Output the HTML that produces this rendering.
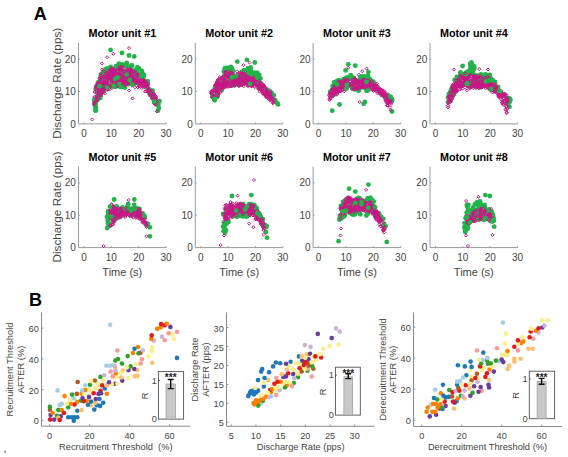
<!DOCTYPE html>
<html><head><meta charset="utf-8"><style>
html,body{margin:0;padding:0;background:#fff;}
svg{display:block;font-family:"Liberation Sans",sans-serif;}
</style></head><body>
<svg width="568" height="457" viewBox="0 0 568 457">
<rect width="568" height="457" fill="#fff"/>
<text x="40.20" y="19.50" font-size="18" text-anchor="middle" font-weight="bold" fill="#000">A</text>
<line x1="78.50" y1="42.90" x2="78.50" y2="123.90" stroke="#9a9a9a" stroke-width="1"/>
<line x1="78.50" y1="123.90" x2="166.10" y2="123.90" stroke="#9a9a9a" stroke-width="1"/>
<text x="75.90" y="127.50" font-size="10" text-anchor="end" font-weight="normal" fill="#444">0</text>
<line x1="78.50" y1="91.50" x2="80.00" y2="91.50" stroke="#9a9a9a" stroke-width="1"/>
<text x="75.90" y="95.10" font-size="10" text-anchor="end" font-weight="normal" fill="#444">10</text>
<line x1="78.50" y1="59.10" x2="80.00" y2="59.10" stroke="#9a9a9a" stroke-width="1"/>
<text x="75.90" y="62.70" font-size="10" text-anchor="end" font-weight="normal" fill="#444">20</text>
<line x1="83.97" y1="123.90" x2="83.97" y2="122.40" stroke="#9a9a9a" stroke-width="1"/>
<text x="83.97" y="136.80" font-size="10" text-anchor="middle" font-weight="normal" fill="#444">0</text>
<line x1="111.34" y1="123.90" x2="111.34" y2="122.40" stroke="#9a9a9a" stroke-width="1"/>
<text x="111.34" y="136.80" font-size="10" text-anchor="middle" font-weight="normal" fill="#444">10</text>
<line x1="138.71" y1="123.90" x2="138.71" y2="122.40" stroke="#9a9a9a" stroke-width="1"/>
<text x="138.71" y="136.80" font-size="10" text-anchor="middle" font-weight="normal" fill="#444">20</text>
<line x1="166.08" y1="123.90" x2="166.08" y2="122.40" stroke="#9a9a9a" stroke-width="1"/>
<text x="166.08" y="136.80" font-size="10" text-anchor="middle" font-weight="normal" fill="#444">30</text>
<text x="122.30" y="37.30" font-size="10.8" text-anchor="middle" font-weight="bold" fill="#000">Motor unit #1</text>
<text x="61.30" y="83.30" font-size="11.75" text-anchor="middle" font-weight="normal" fill="#444" transform="rotate(-90 61.3 83.30000000000001)">Discharge Rate (pps)</text>
<line x1="195.30" y1="42.90" x2="195.30" y2="123.90" stroke="#9a9a9a" stroke-width="1"/>
<line x1="195.30" y1="123.90" x2="282.90" y2="123.90" stroke="#9a9a9a" stroke-width="1"/>
<text x="192.70" y="127.50" font-size="10" text-anchor="end" font-weight="normal" fill="#444">0</text>
<line x1="195.30" y1="91.50" x2="196.80" y2="91.50" stroke="#9a9a9a" stroke-width="1"/>
<text x="192.70" y="95.10" font-size="10" text-anchor="end" font-weight="normal" fill="#444">10</text>
<line x1="195.30" y1="59.10" x2="196.80" y2="59.10" stroke="#9a9a9a" stroke-width="1"/>
<text x="192.70" y="62.70" font-size="10" text-anchor="end" font-weight="normal" fill="#444">20</text>
<line x1="200.77" y1="123.90" x2="200.77" y2="122.40" stroke="#9a9a9a" stroke-width="1"/>
<text x="200.77" y="136.80" font-size="10" text-anchor="middle" font-weight="normal" fill="#444">0</text>
<line x1="228.14" y1="123.90" x2="228.14" y2="122.40" stroke="#9a9a9a" stroke-width="1"/>
<text x="228.14" y="136.80" font-size="10" text-anchor="middle" font-weight="normal" fill="#444">10</text>
<line x1="255.51" y1="123.90" x2="255.51" y2="122.40" stroke="#9a9a9a" stroke-width="1"/>
<text x="255.51" y="136.80" font-size="10" text-anchor="middle" font-weight="normal" fill="#444">20</text>
<line x1="282.88" y1="123.90" x2="282.88" y2="122.40" stroke="#9a9a9a" stroke-width="1"/>
<text x="282.88" y="136.80" font-size="10" text-anchor="middle" font-weight="normal" fill="#444">30</text>
<text x="239.10" y="37.30" font-size="10.8" text-anchor="middle" font-weight="bold" fill="#000">Motor unit #2</text>
<line x1="313.10" y1="42.90" x2="313.10" y2="123.90" stroke="#9a9a9a" stroke-width="1"/>
<line x1="313.10" y1="123.90" x2="400.70" y2="123.90" stroke="#9a9a9a" stroke-width="1"/>
<text x="310.50" y="127.50" font-size="10" text-anchor="end" font-weight="normal" fill="#444">0</text>
<line x1="313.10" y1="91.50" x2="314.60" y2="91.50" stroke="#9a9a9a" stroke-width="1"/>
<text x="310.50" y="95.10" font-size="10" text-anchor="end" font-weight="normal" fill="#444">10</text>
<line x1="313.10" y1="59.10" x2="314.60" y2="59.10" stroke="#9a9a9a" stroke-width="1"/>
<text x="310.50" y="62.70" font-size="10" text-anchor="end" font-weight="normal" fill="#444">20</text>
<line x1="318.57" y1="123.90" x2="318.57" y2="122.40" stroke="#9a9a9a" stroke-width="1"/>
<text x="318.57" y="136.80" font-size="10" text-anchor="middle" font-weight="normal" fill="#444">0</text>
<line x1="345.94" y1="123.90" x2="345.94" y2="122.40" stroke="#9a9a9a" stroke-width="1"/>
<text x="345.94" y="136.80" font-size="10" text-anchor="middle" font-weight="normal" fill="#444">10</text>
<line x1="373.31" y1="123.90" x2="373.31" y2="122.40" stroke="#9a9a9a" stroke-width="1"/>
<text x="373.31" y="136.80" font-size="10" text-anchor="middle" font-weight="normal" fill="#444">20</text>
<line x1="400.68" y1="123.90" x2="400.68" y2="122.40" stroke="#9a9a9a" stroke-width="1"/>
<text x="400.68" y="136.80" font-size="10" text-anchor="middle" font-weight="normal" fill="#444">30</text>
<text x="356.90" y="37.30" font-size="10.8" text-anchor="middle" font-weight="bold" fill="#000">Motor unit #3</text>
<line x1="430.00" y1="42.90" x2="430.00" y2="123.90" stroke="#9a9a9a" stroke-width="1"/>
<line x1="430.00" y1="123.90" x2="517.60" y2="123.90" stroke="#9a9a9a" stroke-width="1"/>
<text x="427.40" y="127.50" font-size="10" text-anchor="end" font-weight="normal" fill="#444">0</text>
<line x1="430.00" y1="91.50" x2="431.50" y2="91.50" stroke="#9a9a9a" stroke-width="1"/>
<text x="427.40" y="95.10" font-size="10" text-anchor="end" font-weight="normal" fill="#444">10</text>
<line x1="430.00" y1="59.10" x2="431.50" y2="59.10" stroke="#9a9a9a" stroke-width="1"/>
<text x="427.40" y="62.70" font-size="10" text-anchor="end" font-weight="normal" fill="#444">20</text>
<line x1="435.47" y1="123.90" x2="435.47" y2="122.40" stroke="#9a9a9a" stroke-width="1"/>
<text x="435.47" y="136.80" font-size="10" text-anchor="middle" font-weight="normal" fill="#444">0</text>
<line x1="462.84" y1="123.90" x2="462.84" y2="122.40" stroke="#9a9a9a" stroke-width="1"/>
<text x="462.84" y="136.80" font-size="10" text-anchor="middle" font-weight="normal" fill="#444">10</text>
<line x1="490.21" y1="123.90" x2="490.21" y2="122.40" stroke="#9a9a9a" stroke-width="1"/>
<text x="490.21" y="136.80" font-size="10" text-anchor="middle" font-weight="normal" fill="#444">20</text>
<line x1="517.58" y1="123.90" x2="517.58" y2="122.40" stroke="#9a9a9a" stroke-width="1"/>
<text x="517.58" y="136.80" font-size="10" text-anchor="middle" font-weight="normal" fill="#444">30</text>
<text x="473.80" y="37.30" font-size="10.8" text-anchor="middle" font-weight="bold" fill="#000">Motor unit #4</text>
<line x1="78.50" y1="166.60" x2="78.50" y2="247.60" stroke="#9a9a9a" stroke-width="1"/>
<line x1="78.50" y1="247.60" x2="166.10" y2="247.60" stroke="#9a9a9a" stroke-width="1"/>
<text x="75.90" y="251.20" font-size="10" text-anchor="end" font-weight="normal" fill="#444">0</text>
<line x1="78.50" y1="215.20" x2="80.00" y2="215.20" stroke="#9a9a9a" stroke-width="1"/>
<text x="75.90" y="218.80" font-size="10" text-anchor="end" font-weight="normal" fill="#444">10</text>
<line x1="78.50" y1="182.80" x2="80.00" y2="182.80" stroke="#9a9a9a" stroke-width="1"/>
<text x="75.90" y="186.40" font-size="10" text-anchor="end" font-weight="normal" fill="#444">20</text>
<line x1="83.97" y1="247.60" x2="83.97" y2="246.10" stroke="#9a9a9a" stroke-width="1"/>
<text x="83.97" y="260.50" font-size="10" text-anchor="middle" font-weight="normal" fill="#444">0</text>
<line x1="111.34" y1="247.60" x2="111.34" y2="246.10" stroke="#9a9a9a" stroke-width="1"/>
<text x="111.34" y="260.50" font-size="10" text-anchor="middle" font-weight="normal" fill="#444">10</text>
<line x1="138.71" y1="247.60" x2="138.71" y2="246.10" stroke="#9a9a9a" stroke-width="1"/>
<text x="138.71" y="260.50" font-size="10" text-anchor="middle" font-weight="normal" fill="#444">20</text>
<line x1="166.08" y1="247.60" x2="166.08" y2="246.10" stroke="#9a9a9a" stroke-width="1"/>
<text x="166.08" y="260.50" font-size="10" text-anchor="middle" font-weight="normal" fill="#444">30</text>
<text x="122.30" y="161.00" font-size="10.8" text-anchor="middle" font-weight="bold" fill="#000">Motor unit #5</text>
<text x="61.30" y="207.00" font-size="11.75" text-anchor="middle" font-weight="normal" fill="#444" transform="rotate(-90 61.3 207.0)">Discharge Rate (pps)</text>
<text x="122.30" y="276.00" font-size="11" text-anchor="middle" font-weight="normal" fill="#444">Time (s)</text>
<line x1="195.30" y1="166.60" x2="195.30" y2="247.60" stroke="#9a9a9a" stroke-width="1"/>
<line x1="195.30" y1="247.60" x2="282.90" y2="247.60" stroke="#9a9a9a" stroke-width="1"/>
<text x="192.70" y="251.20" font-size="10" text-anchor="end" font-weight="normal" fill="#444">0</text>
<line x1="195.30" y1="215.20" x2="196.80" y2="215.20" stroke="#9a9a9a" stroke-width="1"/>
<text x="192.70" y="218.80" font-size="10" text-anchor="end" font-weight="normal" fill="#444">10</text>
<line x1="195.30" y1="182.80" x2="196.80" y2="182.80" stroke="#9a9a9a" stroke-width="1"/>
<text x="192.70" y="186.40" font-size="10" text-anchor="end" font-weight="normal" fill="#444">20</text>
<line x1="200.77" y1="247.60" x2="200.77" y2="246.10" stroke="#9a9a9a" stroke-width="1"/>
<text x="200.77" y="260.50" font-size="10" text-anchor="middle" font-weight="normal" fill="#444">0</text>
<line x1="228.14" y1="247.60" x2="228.14" y2="246.10" stroke="#9a9a9a" stroke-width="1"/>
<text x="228.14" y="260.50" font-size="10" text-anchor="middle" font-weight="normal" fill="#444">10</text>
<line x1="255.51" y1="247.60" x2="255.51" y2="246.10" stroke="#9a9a9a" stroke-width="1"/>
<text x="255.51" y="260.50" font-size="10" text-anchor="middle" font-weight="normal" fill="#444">20</text>
<line x1="282.88" y1="247.60" x2="282.88" y2="246.10" stroke="#9a9a9a" stroke-width="1"/>
<text x="282.88" y="260.50" font-size="10" text-anchor="middle" font-weight="normal" fill="#444">30</text>
<text x="239.10" y="161.00" font-size="10.8" text-anchor="middle" font-weight="bold" fill="#000">Motor unit #6</text>
<text x="239.10" y="276.00" font-size="11" text-anchor="middle" font-weight="normal" fill="#444">Time (s)</text>
<line x1="313.10" y1="166.60" x2="313.10" y2="247.60" stroke="#9a9a9a" stroke-width="1"/>
<line x1="313.10" y1="247.60" x2="400.70" y2="247.60" stroke="#9a9a9a" stroke-width="1"/>
<text x="310.50" y="251.20" font-size="10" text-anchor="end" font-weight="normal" fill="#444">0</text>
<line x1="313.10" y1="215.20" x2="314.60" y2="215.20" stroke="#9a9a9a" stroke-width="1"/>
<text x="310.50" y="218.80" font-size="10" text-anchor="end" font-weight="normal" fill="#444">10</text>
<line x1="313.10" y1="182.80" x2="314.60" y2="182.80" stroke="#9a9a9a" stroke-width="1"/>
<text x="310.50" y="186.40" font-size="10" text-anchor="end" font-weight="normal" fill="#444">20</text>
<line x1="318.57" y1="247.60" x2="318.57" y2="246.10" stroke="#9a9a9a" stroke-width="1"/>
<text x="318.57" y="260.50" font-size="10" text-anchor="middle" font-weight="normal" fill="#444">0</text>
<line x1="345.94" y1="247.60" x2="345.94" y2="246.10" stroke="#9a9a9a" stroke-width="1"/>
<text x="345.94" y="260.50" font-size="10" text-anchor="middle" font-weight="normal" fill="#444">10</text>
<line x1="373.31" y1="247.60" x2="373.31" y2="246.10" stroke="#9a9a9a" stroke-width="1"/>
<text x="373.31" y="260.50" font-size="10" text-anchor="middle" font-weight="normal" fill="#444">20</text>
<line x1="400.68" y1="247.60" x2="400.68" y2="246.10" stroke="#9a9a9a" stroke-width="1"/>
<text x="400.68" y="260.50" font-size="10" text-anchor="middle" font-weight="normal" fill="#444">30</text>
<text x="356.90" y="161.00" font-size="10.8" text-anchor="middle" font-weight="bold" fill="#000">Motor unit #7</text>
<text x="356.90" y="276.00" font-size="11" text-anchor="middle" font-weight="normal" fill="#444">Time (s)</text>
<line x1="430.00" y1="166.60" x2="430.00" y2="247.60" stroke="#9a9a9a" stroke-width="1"/>
<line x1="430.00" y1="247.60" x2="517.60" y2="247.60" stroke="#9a9a9a" stroke-width="1"/>
<text x="427.40" y="251.20" font-size="10" text-anchor="end" font-weight="normal" fill="#444">0</text>
<line x1="430.00" y1="215.20" x2="431.50" y2="215.20" stroke="#9a9a9a" stroke-width="1"/>
<text x="427.40" y="218.80" font-size="10" text-anchor="end" font-weight="normal" fill="#444">10</text>
<line x1="430.00" y1="182.80" x2="431.50" y2="182.80" stroke="#9a9a9a" stroke-width="1"/>
<text x="427.40" y="186.40" font-size="10" text-anchor="end" font-weight="normal" fill="#444">20</text>
<line x1="435.47" y1="247.60" x2="435.47" y2="246.10" stroke="#9a9a9a" stroke-width="1"/>
<text x="435.47" y="260.50" font-size="10" text-anchor="middle" font-weight="normal" fill="#444">0</text>
<line x1="462.84" y1="247.60" x2="462.84" y2="246.10" stroke="#9a9a9a" stroke-width="1"/>
<text x="462.84" y="260.50" font-size="10" text-anchor="middle" font-weight="normal" fill="#444">10</text>
<line x1="490.21" y1="247.60" x2="490.21" y2="246.10" stroke="#9a9a9a" stroke-width="1"/>
<text x="490.21" y="260.50" font-size="10" text-anchor="middle" font-weight="normal" fill="#444">20</text>
<line x1="517.58" y1="247.60" x2="517.58" y2="246.10" stroke="#9a9a9a" stroke-width="1"/>
<text x="517.58" y="260.50" font-size="10" text-anchor="middle" font-weight="normal" fill="#444">30</text>
<text x="473.80" y="161.00" font-size="10.8" text-anchor="middle" font-weight="bold" fill="#000">Motor unit #8</text>
<text x="473.80" y="276.00" font-size="11" text-anchor="middle" font-weight="normal" fill="#444">Time (s)</text>
<g fill="#22b34a"><circle cx="147.6" cy="81.4" r="2.4"/><circle cx="118.3" cy="81.7" r="2.4"/><circle cx="117.1" cy="66.7" r="2.4"/><circle cx="119.3" cy="84.9" r="2.4"/><circle cx="98.6" cy="90.8" r="2.4"/><circle cx="118.8" cy="63.7" r="2.4"/><circle cx="141.6" cy="78.9" r="2.4"/><circle cx="105.5" cy="75.6" r="2.4"/><circle cx="129.8" cy="69.8" r="2.4"/><circle cx="114.1" cy="73.0" r="2.4"/><circle cx="94.9" cy="99.0" r="2.4"/><circle cx="128.7" cy="75.1" r="2.4"/><circle cx="120.9" cy="69.4" r="2.4"/><circle cx="103.8" cy="91.4" r="2.4"/><circle cx="101.2" cy="80.4" r="2.4"/><circle cx="130.0" cy="83.1" r="2.4"/><circle cx="143.0" cy="77.4" r="2.4"/><circle cx="97.0" cy="92.2" r="2.4"/><circle cx="95.6" cy="110.6" r="2.4"/><circle cx="111.9" cy="71.3" r="2.4"/><circle cx="102.1" cy="87.7" r="2.4"/><circle cx="144.4" cy="80.6" r="2.4"/><circle cx="105.8" cy="69.8" r="2.4"/><circle cx="121.0" cy="80.7" r="2.4"/><circle cx="112.5" cy="82.6" r="2.4"/><circle cx="108.3" cy="78.3" r="2.4"/><circle cx="97.4" cy="88.6" r="2.4"/><circle cx="110.5" cy="78.5" r="2.4"/><circle cx="158.8" cy="108.0" r="2.4"/><circle cx="123.2" cy="85.4" r="2.4"/><circle cx="125.1" cy="71.6" r="2.4"/><circle cx="122.9" cy="77.7" r="2.4"/><circle cx="95.4" cy="109.8" r="2.4"/><circle cx="130.4" cy="66.1" r="2.4"/><circle cx="132.4" cy="74.9" r="2.4"/><circle cx="138.1" cy="82.8" r="2.4"/><circle cx="130.9" cy="74.6" r="2.4"/><circle cx="134.3" cy="56.4" r="2.4"/><circle cx="125.0" cy="87.5" r="2.4"/><circle cx="131.6" cy="81.9" r="2.4"/><circle cx="142.2" cy="72.4" r="2.4"/><circle cx="99.3" cy="87.5" r="2.4"/><circle cx="139.9" cy="75.6" r="2.4"/><circle cx="96.7" cy="99.0" r="2.4"/><circle cx="141.2" cy="81.6" r="2.4"/><circle cx="152.5" cy="90.6" r="2.4"/><circle cx="151.1" cy="90.6" r="2.4"/><circle cx="107.1" cy="70.9" r="2.4"/><circle cx="102.8" cy="73.0" r="2.4"/><circle cx="100.9" cy="95.0" r="2.4"/><circle cx="103.6" cy="84.0" r="2.4"/><circle cx="130.2" cy="83.1" r="2.4"/><circle cx="115.4" cy="79.0" r="2.4"/><circle cx="117.5" cy="70.2" r="2.4"/><circle cx="95.8" cy="107.2" r="2.4"/><circle cx="110.2" cy="69.3" r="2.4"/><circle cx="111.9" cy="85.2" r="2.4"/><circle cx="136.2" cy="69.3" r="2.4"/><circle cx="100.3" cy="84.8" r="2.4"/><circle cx="154.2" cy="97.7" r="2.4"/><circle cx="115.5" cy="74.7" r="2.4"/><circle cx="96.5" cy="86.2" r="2.4"/><circle cx="159.5" cy="101.1" r="2.4"/><circle cx="141.0" cy="82.0" r="2.4"/><circle cx="110.6" cy="49.9" r="2.4"/><circle cx="148.5" cy="91.5" r="2.4"/><circle cx="130.6" cy="81.3" r="2.4"/><circle cx="118.1" cy="72.1" r="2.4"/><circle cx="110.0" cy="69.7" r="2.4"/><circle cx="158.5" cy="104.0" r="2.4"/><circle cx="122.8" cy="64.3" r="2.4"/><circle cx="147.7" cy="83.7" r="2.4"/><circle cx="150.4" cy="93.6" r="2.4"/><circle cx="113.9" cy="72.6" r="2.4"/><circle cx="106.3" cy="74.3" r="2.4"/><circle cx="100.3" cy="95.7" r="2.4"/><circle cx="155.0" cy="102.4" r="2.4"/><circle cx="103.8" cy="80.8" r="2.4"/><circle cx="113.5" cy="78.6" r="2.4"/><circle cx="147.7" cy="81.9" r="2.4"/><circle cx="102.2" cy="86.2" r="2.4"/><circle cx="104.8" cy="76.3" r="2.4"/><circle cx="118.9" cy="85.9" r="2.4"/><circle cx="102.5" cy="78.4" r="2.4"/><circle cx="101.6" cy="85.8" r="2.4"/><circle cx="129.0" cy="55.5" r="2.4"/><circle cx="120.1" cy="77.4" r="2.4"/><circle cx="125.1" cy="66.4" r="2.4"/><circle cx="141.8" cy="71.0" r="2.4"/><circle cx="157.9" cy="110.7" r="2.4"/><circle cx="98.8" cy="88.9" r="2.4"/><circle cx="107.4" cy="68.3" r="2.4"/><circle cx="94.9" cy="105.6" r="2.4"/><circle cx="118.6" cy="79.4" r="2.4"/><circle cx="104.1" cy="75.3" r="2.4"/><circle cx="116.8" cy="71.8" r="2.4"/><circle cx="145.3" cy="86.7" r="2.4"/><circle cx="114.1" cy="86.4" r="2.4"/><circle cx="95.6" cy="104.1" r="2.4"/><circle cx="143.2" cy="82.1" r="2.4"/><circle cx="118.1" cy="69.9" r="2.4"/><circle cx="98.6" cy="82.2" r="2.4"/><circle cx="119.4" cy="64.1" r="2.4"/><circle cx="97.5" cy="98.1" r="2.4"/><circle cx="98.0" cy="92.8" r="2.4"/><circle cx="147.6" cy="83.2" r="2.4"/><circle cx="136.1" cy="78.0" r="2.4"/><circle cx="110.6" cy="67.0" r="2.4"/><circle cx="114.9" cy="79.3" r="2.4"/><circle cx="137.2" cy="74.7" r="2.4"/><circle cx="155.7" cy="102.2" r="2.4"/><circle cx="100.4" cy="97.8" r="2.4"/><circle cx="120.0" cy="86.8" r="2.4"/><circle cx="156.4" cy="104.4" r="2.4"/><circle cx="100.8" cy="76.8" r="2.4"/><circle cx="106.7" cy="81.8" r="2.4"/><circle cx="129.0" cy="84.1" r="2.4"/><circle cx="124.0" cy="81.3" r="2.4"/><circle cx="103.8" cy="71.4" r="2.4"/><circle cx="128.6" cy="83.2" r="2.4"/><circle cx="129.8" cy="68.6" r="2.4"/><circle cx="135.7" cy="82.6" r="2.4"/><circle cx="127.9" cy="82.5" r="2.4"/><circle cx="99.2" cy="88.2" r="2.4"/><circle cx="115.0" cy="82.1" r="2.4"/><circle cx="133.8" cy="75.7" r="2.4"/><circle cx="94.5" cy="103.6" r="2.4"/><circle cx="132.0" cy="70.5" r="2.4"/><circle cx="122.0" cy="52.9" r="2.4"/><circle cx="117.5" cy="83.8" r="2.4"/><circle cx="149.0" cy="89.1" r="2.4"/><circle cx="118.0" cy="73.8" r="2.4"/><circle cx="95.8" cy="89.8" r="2.4"/><circle cx="126.4" cy="65.6" r="2.4"/><circle cx="121.9" cy="81.9" r="2.4"/><circle cx="113.1" cy="84.2" r="2.4"/><circle cx="133.2" cy="76.4" r="2.4"/><circle cx="94.2" cy="100.4" r="2.4"/><circle cx="120.3" cy="74.7" r="2.4"/><circle cx="97.0" cy="97.6" r="2.4"/><circle cx="105.4" cy="81.1" r="2.4"/><circle cx="131.7" cy="65.3" r="2.4"/><circle cx="140.4" cy="84.1" r="2.4"/><circle cx="100.9" cy="75.6" r="2.4"/><circle cx="97.7" cy="99.8" r="2.4"/><circle cx="124.6" cy="76.3" r="2.4"/><circle cx="99.2" cy="91.4" r="2.4"/><circle cx="149.5" cy="92.2" r="2.4"/><circle cx="117.4" cy="81.9" r="2.4"/><circle cx="117.2" cy="85.3" r="2.4"/><circle cx="119.6" cy="68.9" r="2.4"/><circle cx="138.9" cy="68.5" r="2.4"/><circle cx="152.2" cy="96.4" r="2.4"/><circle cx="98.1" cy="95.4" r="2.4"/><circle cx="127.6" cy="76.5" r="2.4"/><circle cx="150.0" cy="94.7" r="2.4"/><circle cx="137.4" cy="75.9" r="2.4"/><circle cx="105.3" cy="77.6" r="2.4"/><circle cx="115.0" cy="78.3" r="2.4"/><circle cx="118.6" cy="80.7" r="2.4"/><circle cx="144.0" cy="75.0" r="2.4"/><circle cx="152.8" cy="97.4" r="2.4"/><circle cx="96.8" cy="86.4" r="2.4"/><circle cx="96.0" cy="102.1" r="2.4"/><circle cx="115.6" cy="86.5" r="2.4"/><circle cx="106.0" cy="79.5" r="2.4"/><circle cx="137.3" cy="67.4" r="2.4"/><circle cx="105.2" cy="73.9" r="2.4"/><circle cx="112.1" cy="78.1" r="2.4"/><circle cx="106.7" cy="73.5" r="2.4"/><circle cx="153.5" cy="94.3" r="2.4"/><circle cx="96.0" cy="88.2" r="2.4"/><circle cx="126.8" cy="63.0" r="2.4"/><circle cx="125.3" cy="71.9" r="2.4"/><circle cx="143.0" cy="77.8" r="2.4"/><circle cx="119.9" cy="85.5" r="2.4"/><circle cx="106.1" cy="80.0" r="2.4"/><circle cx="135.0" cy="77.8" r="2.4"/><circle cx="102.8" cy="87.8" r="2.4"/><circle cx="117.2" cy="66.4" r="2.4"/><circle cx="124.2" cy="71.7" r="2.4"/><circle cx="98.8" cy="82.2" r="2.4"/><circle cx="111.9" cy="70.3" r="2.4"/><circle cx="106.9" cy="87.7" r="2.4"/><circle cx="103.5" cy="77.3" r="2.4"/><circle cx="132.1" cy="65.7" r="2.4"/><circle cx="95.8" cy="110.6" r="2.4"/><circle cx="134.3" cy="83.3" r="2.4"/><circle cx="126.2" cy="74.0" r="2.4"/><circle cx="109.4" cy="70.4" r="2.4"/><circle cx="105.4" cy="69.5" r="2.4"/><circle cx="130.0" cy="82.1" r="2.4"/><circle cx="101.5" cy="74.1" r="2.4"/><circle cx="137.4" cy="72.5" r="2.4"/><circle cx="145.5" cy="84.3" r="2.4"/><circle cx="118.1" cy="76.8" r="2.4"/><circle cx="143.2" cy="76.2" r="2.4"/></g>
<path d="M100.4 81.3l1.55 1.55l-1.55 1.55l-1.55 -1.55zM110.3 72.0l1.55 1.55l-1.55 1.55l-1.55 -1.55zM132.5 76.0l1.55 1.55l-1.55 1.55l-1.55 -1.55zM96.7 91.3l1.55 1.55l-1.55 1.55l-1.55 -1.55zM116.3 67.5l1.55 1.55l-1.55 1.55l-1.55 -1.55zM105.0 86.7l1.55 1.55l-1.55 1.55l-1.55 -1.55zM117.1 72.5l1.55 1.55l-1.55 1.55l-1.55 -1.55zM136.6 76.1l1.55 1.55l-1.55 1.55l-1.55 -1.55zM157.0 110.0l1.55 1.55l-1.55 1.55l-1.55 -1.55zM116.8 64.8l1.55 1.55l-1.55 1.55l-1.55 -1.55zM126.8 79.7l1.55 1.55l-1.55 1.55l-1.55 -1.55zM150.7 94.5l1.55 1.55l-1.55 1.55l-1.55 -1.55zM117.5 75.9l1.55 1.55l-1.55 1.55l-1.55 -1.55zM103.8 80.0l1.55 1.55l-1.55 1.55l-1.55 -1.55zM113.3 70.8l1.55 1.55l-1.55 1.55l-1.55 -1.55zM119.1 72.9l1.55 1.55l-1.55 1.55l-1.55 -1.55zM153.3 93.0l1.55 1.55l-1.55 1.55l-1.55 -1.55zM102.2 83.1l1.55 1.55l-1.55 1.55l-1.55 -1.55zM130.5 76.2l1.55 1.55l-1.55 1.55l-1.55 -1.55zM108.2 84.3l1.55 1.55l-1.55 1.55l-1.55 -1.55zM111.2 74.1l1.55 1.55l-1.55 1.55l-1.55 -1.55zM139.7 81.9l1.55 1.55l-1.55 1.55l-1.55 -1.55zM105.3 83.9l1.55 1.55l-1.55 1.55l-1.55 -1.55zM94.3 95.5l1.55 1.55l-1.55 1.55l-1.55 -1.55zM116.2 74.2l1.55 1.55l-1.55 1.55l-1.55 -1.55zM127.4 74.1l1.55 1.55l-1.55 1.55l-1.55 -1.55zM117.3 80.0l1.55 1.55l-1.55 1.55l-1.55 -1.55zM106.7 85.1l1.55 1.55l-1.55 1.55l-1.55 -1.55zM126.5 78.2l1.55 1.55l-1.55 1.55l-1.55 -1.55zM138.6 73.0l1.55 1.55l-1.55 1.55l-1.55 -1.55zM111.5 67.3l1.55 1.55l-1.55 1.55l-1.55 -1.55zM131.0 81.5l1.55 1.55l-1.55 1.55l-1.55 -1.55zM153.5 91.7l1.55 1.55l-1.55 1.55l-1.55 -1.55zM111.4 80.7l1.55 1.55l-1.55 1.55l-1.55 -1.55zM151.9 96.5l1.55 1.55l-1.55 1.55l-1.55 -1.55zM124.3 79.7l1.55 1.55l-1.55 1.55l-1.55 -1.55zM112.2 72.3l1.55 1.55l-1.55 1.55l-1.55 -1.55zM101.3 87.8l1.55 1.55l-1.55 1.55l-1.55 -1.55zM130.6 74.9l1.55 1.55l-1.55 1.55l-1.55 -1.55zM96.7 85.4l1.55 1.55l-1.55 1.55l-1.55 -1.55zM115.6 67.3l1.55 1.55l-1.55 1.55l-1.55 -1.55zM114.7 69.4l1.55 1.55l-1.55 1.55l-1.55 -1.55zM118.7 68.3l1.55 1.55l-1.55 1.55l-1.55 -1.55zM99.3 76.7l1.55 1.55l-1.55 1.55l-1.55 -1.55zM116.5 77.7l1.55 1.55l-1.55 1.55l-1.55 -1.55zM105.2 75.2l1.55 1.55l-1.55 1.55l-1.55 -1.55zM133.0 70.0l1.55 1.55l-1.55 1.55l-1.55 -1.55zM122.6 76.4l1.55 1.55l-1.55 1.55l-1.55 -1.55zM129.2 69.6l1.55 1.55l-1.55 1.55l-1.55 -1.55zM130.5 71.0l1.55 1.55l-1.55 1.55l-1.55 -1.55zM135.4 79.8l1.55 1.55l-1.55 1.55l-1.55 -1.55zM106.2 82.1l1.55 1.55l-1.55 1.55l-1.55 -1.55zM125.6 75.6l1.55 1.55l-1.55 1.55l-1.55 -1.55zM144.8 90.0l1.55 1.55l-1.55 1.55l-1.55 -1.55zM115.9 64.8l1.55 1.55l-1.55 1.55l-1.55 -1.55zM149.7 89.2l1.55 1.55l-1.55 1.55l-1.55 -1.55zM101.3 88.3l1.55 1.55l-1.55 1.55l-1.55 -1.55zM141.7 80.8l1.55 1.55l-1.55 1.55l-1.55 -1.55zM109.8 73.4l1.55 1.55l-1.55 1.55l-1.55 -1.55zM124.4 69.7l1.55 1.55l-1.55 1.55l-1.55 -1.55zM131.2 76.5l1.55 1.55l-1.55 1.55l-1.55 -1.55zM129.6 75.5l1.55 1.55l-1.55 1.55l-1.55 -1.55zM123.7 73.1l1.55 1.55l-1.55 1.55l-1.55 -1.55zM149.9 91.8l1.55 1.55l-1.55 1.55l-1.55 -1.55zM145.3 81.0l1.55 1.55l-1.55 1.55l-1.55 -1.55zM103.7 75.0l1.55 1.55l-1.55 1.55l-1.55 -1.55zM118.5 68.2l1.55 1.55l-1.55 1.55l-1.55 -1.55zM117.0 85.3l1.55 1.55l-1.55 1.55l-1.55 -1.55zM97.9 97.3l1.55 1.55l-1.55 1.55l-1.55 -1.55zM123.3 84.4l1.55 1.55l-1.55 1.55l-1.55 -1.55zM127.6 68.6l1.55 1.55l-1.55 1.55l-1.55 -1.55zM120.9 81.7l1.55 1.55l-1.55 1.55l-1.55 -1.55zM128.3 69.2l1.55 1.55l-1.55 1.55l-1.55 -1.55zM131.7 77.2l1.55 1.55l-1.55 1.55l-1.55 -1.55zM129.7 77.1l1.55 1.55l-1.55 1.55l-1.55 -1.55zM140.3 79.8l1.55 1.55l-1.55 1.55l-1.55 -1.55zM99.2 94.0l1.55 1.55l-1.55 1.55l-1.55 -1.55zM118.2 75.5l1.55 1.55l-1.55 1.55l-1.55 -1.55zM97.4 81.1l1.55 1.55l-1.55 1.55l-1.55 -1.55zM113.2 74.7l1.55 1.55l-1.55 1.55l-1.55 -1.55zM121.9 79.4l1.55 1.55l-1.55 1.55l-1.55 -1.55zM152.9 97.4l1.55 1.55l-1.55 1.55l-1.55 -1.55zM149.6 92.8l1.55 1.55l-1.55 1.55l-1.55 -1.55zM130.2 79.4l1.55 1.55l-1.55 1.55l-1.55 -1.55zM122.1 69.4l1.55 1.55l-1.55 1.55l-1.55 -1.55zM132.7 74.5l1.55 1.55l-1.55 1.55l-1.55 -1.55zM99.0 84.4l1.55 1.55l-1.55 1.55l-1.55 -1.55zM109.6 78.6l1.55 1.55l-1.55 1.55l-1.55 -1.55zM97.3 87.0l1.55 1.55l-1.55 1.55l-1.55 -1.55zM146.1 81.8l1.55 1.55l-1.55 1.55l-1.55 -1.55zM102.1 76.2l1.55 1.55l-1.55 1.55l-1.55 -1.55zM103.8 75.7l1.55 1.55l-1.55 1.55l-1.55 -1.55zM146.1 84.1l1.55 1.55l-1.55 1.55l-1.55 -1.55zM137.0 73.0l1.55 1.55l-1.55 1.55l-1.55 -1.55zM100.1 78.3l1.55 1.55l-1.55 1.55l-1.55 -1.55zM115.4 67.0l1.55 1.55l-1.55 1.55l-1.55 -1.55zM130.8 69.2l1.55 1.55l-1.55 1.55l-1.55 -1.55zM141.2 80.9l1.55 1.55l-1.55 1.55l-1.55 -1.55zM155.0 102.2l1.55 1.55l-1.55 1.55l-1.55 -1.55zM134.9 85.7l1.55 1.55l-1.55 1.55l-1.55 -1.55zM109.6 74.7l1.55 1.55l-1.55 1.55l-1.55 -1.55zM104.6 85.1l1.55 1.55l-1.55 1.55l-1.55 -1.55zM134.4 73.7l1.55 1.55l-1.55 1.55l-1.55 -1.55zM129.0 46.6l1.55 1.55l-1.55 1.55l-1.55 -1.55zM121.4 70.8l1.55 1.55l-1.55 1.55l-1.55 -1.55zM132.0 81.9l1.55 1.55l-1.55 1.55l-1.55 -1.55zM97.0 94.0l1.55 1.55l-1.55 1.55l-1.55 -1.55zM133.4 77.8l1.55 1.55l-1.55 1.55l-1.55 -1.55zM133.7 80.2l1.55 1.55l-1.55 1.55l-1.55 -1.55zM135.9 79.4l1.55 1.55l-1.55 1.55l-1.55 -1.55zM112.4 67.7l1.55 1.55l-1.55 1.55l-1.55 -1.55zM111.7 74.7l1.55 1.55l-1.55 1.55l-1.55 -1.55zM115.2 67.0l1.55 1.55l-1.55 1.55l-1.55 -1.55zM129.3 81.6l1.55 1.55l-1.55 1.55l-1.55 -1.55zM101.9 61.8l1.55 1.55l-1.55 1.55l-1.55 -1.55zM136.1 78.8l1.55 1.55l-1.55 1.55l-1.55 -1.55zM96.4 88.8l1.55 1.55l-1.55 1.55l-1.55 -1.55zM102.6 82.1l1.55 1.55l-1.55 1.55l-1.55 -1.55zM104.6 81.0l1.55 1.55l-1.55 1.55l-1.55 -1.55zM122.1 77.3l1.55 1.55l-1.55 1.55l-1.55 -1.55zM111.5 75.4l1.55 1.55l-1.55 1.55l-1.55 -1.55zM133.6 82.1l1.55 1.55l-1.55 1.55l-1.55 -1.55zM132.7 74.5l1.55 1.55l-1.55 1.55l-1.55 -1.55zM138.8 84.7l1.55 1.55l-1.55 1.55l-1.55 -1.55zM133.4 76.6l1.55 1.55l-1.55 1.55l-1.55 -1.55zM94.7 90.5l1.55 1.55l-1.55 1.55l-1.55 -1.55zM138.7 76.2l1.55 1.55l-1.55 1.55l-1.55 -1.55zM97.0 84.3l1.55 1.55l-1.55 1.55l-1.55 -1.55zM139.8 74.7l1.55 1.55l-1.55 1.55l-1.55 -1.55zM105.1 74.4l1.55 1.55l-1.55 1.55l-1.55 -1.55zM127.7 68.1l1.55 1.55l-1.55 1.55l-1.55 -1.55zM108.2 75.4l1.55 1.55l-1.55 1.55l-1.55 -1.55zM146.8 88.8l1.55 1.55l-1.55 1.55l-1.55 -1.55zM110.4 67.9l1.55 1.55l-1.55 1.55l-1.55 -1.55zM100.0 77.1l1.55 1.55l-1.55 1.55l-1.55 -1.55zM152.5 94.9l1.55 1.55l-1.55 1.55l-1.55 -1.55zM103.8 88.4l1.55 1.55l-1.55 1.55l-1.55 -1.55zM155.8 96.8l1.55 1.55l-1.55 1.55l-1.55 -1.55zM127.3 73.3l1.55 1.55l-1.55 1.55l-1.55 -1.55zM152.8 98.0l1.55 1.55l-1.55 1.55l-1.55 -1.55zM117.1 73.8l1.55 1.55l-1.55 1.55l-1.55 -1.55zM132.5 96.9l1.55 1.55l-1.55 1.55l-1.55 -1.55zM125.5 71.2l1.55 1.55l-1.55 1.55l-1.55 -1.55zM121.7 70.0l1.55 1.55l-1.55 1.55l-1.55 -1.55zM107.5 77.2l1.55 1.55l-1.55 1.55l-1.55 -1.55zM139.9 81.1l1.55 1.55l-1.55 1.55l-1.55 -1.55zM121.4 75.9l1.55 1.55l-1.55 1.55l-1.55 -1.55zM131.3 80.0l1.55 1.55l-1.55 1.55l-1.55 -1.55zM118.5 66.5l1.55 1.55l-1.55 1.55l-1.55 -1.55zM138.8 76.4l1.55 1.55l-1.55 1.55l-1.55 -1.55zM107.9 82.5l1.55 1.55l-1.55 1.55l-1.55 -1.55zM154.0 101.9l1.55 1.55l-1.55 1.55l-1.55 -1.55zM142.3 85.4l1.55 1.55l-1.55 1.55l-1.55 -1.55zM154.2 99.0l1.55 1.55l-1.55 1.55l-1.55 -1.55zM134.5 70.3l1.55 1.55l-1.55 1.55l-1.55 -1.55zM126.9 83.1l1.55 1.55l-1.55 1.55l-1.55 -1.55zM120.8 65.5l1.55 1.55l-1.55 1.55l-1.55 -1.55zM107.7 86.5l1.55 1.55l-1.55 1.55l-1.55 -1.55zM147.4 83.9l1.55 1.55l-1.55 1.55l-1.55 -1.55zM112.0 75.4l1.55 1.55l-1.55 1.55l-1.55 -1.55zM130.8 78.1l1.55 1.55l-1.55 1.55l-1.55 -1.55zM109.2 72.4l1.55 1.55l-1.55 1.55l-1.55 -1.55zM108.0 88.0l1.55 1.55l-1.55 1.55l-1.55 -1.55zM155.8 103.2l1.55 1.55l-1.55 1.55l-1.55 -1.55zM155.7 94.7l1.55 1.55l-1.55 1.55l-1.55 -1.55zM104.9 81.7l1.55 1.55l-1.55 1.55l-1.55 -1.55zM151.0 89.1l1.55 1.55l-1.55 1.55l-1.55 -1.55zM149.8 90.1l1.55 1.55l-1.55 1.55l-1.55 -1.55zM147.6 85.4l1.55 1.55l-1.55 1.55l-1.55 -1.55zM153.6 93.2l1.55 1.55l-1.55 1.55l-1.55 -1.55zM156.3 99.1l1.55 1.55l-1.55 1.55l-1.55 -1.55zM141.6 81.3l1.55 1.55l-1.55 1.55l-1.55 -1.55zM144.5 79.6l1.55 1.55l-1.55 1.55l-1.55 -1.55zM98.9 85.2l1.55 1.55l-1.55 1.55l-1.55 -1.55zM139.5 75.6l1.55 1.55l-1.55 1.55l-1.55 -1.55zM126.5 81.9l1.55 1.55l-1.55 1.55l-1.55 -1.55zM105.3 77.8l1.55 1.55l-1.55 1.55l-1.55 -1.55zM125.4 81.3l1.55 1.55l-1.55 1.55l-1.55 -1.55zM141.8 86.6l1.55 1.55l-1.55 1.55l-1.55 -1.55zM112.3 68.8l1.55 1.55l-1.55 1.55l-1.55 -1.55zM118.2 78.7l1.55 1.55l-1.55 1.55l-1.55 -1.55zM144.1 78.9l1.55 1.55l-1.55 1.55l-1.55 -1.55zM101.7 81.6l1.55 1.55l-1.55 1.55l-1.55 -1.55zM110.6 68.9l1.55 1.55l-1.55 1.55l-1.55 -1.55zM117.7 80.3l1.55 1.55l-1.55 1.55l-1.55 -1.55zM103.6 87.4l1.55 1.55l-1.55 1.55l-1.55 -1.55zM131.4 75.4l1.55 1.55l-1.55 1.55l-1.55 -1.55zM98.6 85.7l1.55 1.55l-1.55 1.55l-1.55 -1.55zM97.0 98.3l1.55 1.55l-1.55 1.55l-1.55 -1.55zM128.7 79.7l1.55 1.55l-1.55 1.55l-1.55 -1.55zM94.4 103.0l1.55 1.55l-1.55 1.55l-1.55 -1.55zM144.7 85.2l1.55 1.55l-1.55 1.55l-1.55 -1.55zM94.5 101.6l1.55 1.55l-1.55 1.55l-1.55 -1.55zM94.0 101.6l1.55 1.55l-1.55 1.55l-1.55 -1.55zM115.7 71.9l1.55 1.55l-1.55 1.55l-1.55 -1.55zM147.9 83.6l1.55 1.55l-1.55 1.55l-1.55 -1.55zM133.4 78.0l1.55 1.55l-1.55 1.55l-1.55 -1.55zM106.4 82.3l1.55 1.55l-1.55 1.55l-1.55 -1.55zM108.2 84.5l1.55 1.55l-1.55 1.55l-1.55 -1.55zM155.9 101.0l1.55 1.55l-1.55 1.55l-1.55 -1.55zM141.8 76.6l1.55 1.55l-1.55 1.55l-1.55 -1.55zM136.1 76.3l1.55 1.55l-1.55 1.55l-1.55 -1.55zM118.5 72.2l1.55 1.55l-1.55 1.55l-1.55 -1.55zM108.4 76.6l1.55 1.55l-1.55 1.55l-1.55 -1.55zM135.0 79.8l1.55 1.55l-1.55 1.55l-1.55 -1.55zM99.6 90.3l1.55 1.55l-1.55 1.55l-1.55 -1.55zM110.3 76.9l1.55 1.55l-1.55 1.55l-1.55 -1.55zM99.5 93.2l1.55 1.55l-1.55 1.55l-1.55 -1.55zM96.5 94.6l1.55 1.55l-1.55 1.55l-1.55 -1.55zM144.6 81.5l1.55 1.55l-1.55 1.55l-1.55 -1.55zM111.3 78.4l1.55 1.55l-1.55 1.55l-1.55 -1.55zM113.9 75.7l1.55 1.55l-1.55 1.55l-1.55 -1.55zM101.7 86.3l1.55 1.55l-1.55 1.55l-1.55 -1.55zM105.1 80.8l1.55 1.55l-1.55 1.55l-1.55 -1.55zM153.7 92.9l1.55 1.55l-1.55 1.55l-1.55 -1.55zM103.4 87.9l1.55 1.55l-1.55 1.55l-1.55 -1.55zM108.4 72.9l1.55 1.55l-1.55 1.55l-1.55 -1.55zM124.2 75.3l1.55 1.55l-1.55 1.55l-1.55 -1.55zM108.6 70.4l1.55 1.55l-1.55 1.55l-1.55 -1.55zM124.4 73.3l1.55 1.55l-1.55 1.55l-1.55 -1.55zM110.9 70.0l1.55 1.55l-1.55 1.55l-1.55 -1.55zM95.7 85.3l1.55 1.55l-1.55 1.55l-1.55 -1.55zM114.2 77.0l1.55 1.55l-1.55 1.55l-1.55 -1.55zM119.7 79.1l1.55 1.55l-1.55 1.55l-1.55 -1.55zM154.1 97.4l1.55 1.55l-1.55 1.55l-1.55 -1.55zM127.0 71.5l1.55 1.55l-1.55 1.55l-1.55 -1.55zM121.3 73.2l1.55 1.55l-1.55 1.55l-1.55 -1.55zM131.3 68.4l1.55 1.55l-1.55 1.55l-1.55 -1.55zM105.1 83.7l1.55 1.55l-1.55 1.55l-1.55 -1.55zM129.8 80.8l1.55 1.55l-1.55 1.55l-1.55 -1.55zM132.5 82.5l1.55 1.55l-1.55 1.55l-1.55 -1.55zM96.4 86.8l1.55 1.55l-1.55 1.55l-1.55 -1.55zM122.6 80.7l1.55 1.55l-1.55 1.55l-1.55 -1.55zM131.3 81.9l1.55 1.55l-1.55 1.55l-1.55 -1.55zM123.6 82.9l1.55 1.55l-1.55 1.55l-1.55 -1.55zM107.1 88.4l1.55 1.55l-1.55 1.55l-1.55 -1.55zM109.4 74.2l1.55 1.55l-1.55 1.55l-1.55 -1.55zM108.4 75.6l1.55 1.55l-1.55 1.55l-1.55 -1.55zM100.2 89.7l1.55 1.55l-1.55 1.55l-1.55 -1.55zM96.0 99.2l1.55 1.55l-1.55 1.55l-1.55 -1.55zM101.0 89.5l1.55 1.55l-1.55 1.55l-1.55 -1.55zM127.6 80.2l1.55 1.55l-1.55 1.55l-1.55 -1.55zM126.6 77.0l1.55 1.55l-1.55 1.55l-1.55 -1.55zM113.3 52.2l1.55 1.55l-1.55 1.55l-1.55 -1.55zM129.5 81.3l1.55 1.55l-1.55 1.55l-1.55 -1.55zM123.4 65.8l1.55 1.55l-1.55 1.55l-1.55 -1.55zM98.7 90.6l1.55 1.55l-1.55 1.55l-1.55 -1.55zM151.0 93.5l1.55 1.55l-1.55 1.55l-1.55 -1.55zM115.4 73.1l1.55 1.55l-1.55 1.55l-1.55 -1.55zM141.0 77.7l1.55 1.55l-1.55 1.55l-1.55 -1.55zM137.9 79.6l1.55 1.55l-1.55 1.55l-1.55 -1.55zM105.1 70.2l1.55 1.55l-1.55 1.55l-1.55 -1.55zM129.6 75.2l1.55 1.55l-1.55 1.55l-1.55 -1.55zM142.8 80.1l1.55 1.55l-1.55 1.55l-1.55 -1.55zM136.1 81.2l1.55 1.55l-1.55 1.55l-1.55 -1.55zM131.2 79.4l1.55 1.55l-1.55 1.55l-1.55 -1.55zM133.1 80.0l1.55 1.55l-1.55 1.55l-1.55 -1.55zM120.6 78.3l1.55 1.55l-1.55 1.55l-1.55 -1.55zM125.8 75.8l1.55 1.55l-1.55 1.55l-1.55 -1.55zM113.2 85.2l1.55 1.55l-1.55 1.55l-1.55 -1.55zM102.9 91.2l1.55 1.55l-1.55 1.55l-1.55 -1.55zM128.0 76.9l1.55 1.55l-1.55 1.55l-1.55 -1.55zM108.0 77.2l1.55 1.55l-1.55 1.55l-1.55 -1.55zM121.4 65.5l1.55 1.55l-1.55 1.55l-1.55 -1.55zM97.7 82.9l1.55 1.55l-1.55 1.55l-1.55 -1.55zM102.4 89.0l1.55 1.55l-1.55 1.55l-1.55 -1.55zM112.3 73.6l1.55 1.55l-1.55 1.55l-1.55 -1.55zM147.7 82.0l1.55 1.55l-1.55 1.55l-1.55 -1.55zM114.1 67.9l1.55 1.55l-1.55 1.55l-1.55 -1.55zM133.5 70.3l1.55 1.55l-1.55 1.55l-1.55 -1.55zM112.8 70.5l1.55 1.55l-1.55 1.55l-1.55 -1.55zM106.4 74.3l1.55 1.55l-1.55 1.55l-1.55 -1.55zM149.2 88.5l1.55 1.55l-1.55 1.55l-1.55 -1.55zM132.0 78.5l1.55 1.55l-1.55 1.55l-1.55 -1.55zM156.1 95.5l1.55 1.55l-1.55 1.55l-1.55 -1.55zM106.8 76.0l1.55 1.55l-1.55 1.55l-1.55 -1.55zM132.9 77.4l1.55 1.55l-1.55 1.55l-1.55 -1.55zM101.7 90.5l1.55 1.55l-1.55 1.55l-1.55 -1.55zM101.0 74.1l1.55 1.55l-1.55 1.55l-1.55 -1.55zM133.5 78.6l1.55 1.55l-1.55 1.55l-1.55 -1.55zM114.1 73.6l1.55 1.55l-1.55 1.55l-1.55 -1.55zM115.9 73.8l1.55 1.55l-1.55 1.55l-1.55 -1.55zM111.3 71.4l1.55 1.55l-1.55 1.55l-1.55 -1.55zM119.5 72.6l1.55 1.55l-1.55 1.55l-1.55 -1.55zM137.9 85.8l1.55 1.55l-1.55 1.55l-1.55 -1.55zM124.2 81.2l1.55 1.55l-1.55 1.55l-1.55 -1.55zM119.3 67.9l1.55 1.55l-1.55 1.55l-1.55 -1.55zM113.9 67.4l1.55 1.55l-1.55 1.55l-1.55 -1.55zM115.6 84.2l1.55 1.55l-1.55 1.55l-1.55 -1.55zM129.9 76.1l1.55 1.55l-1.55 1.55l-1.55 -1.55zM127.2 70.8l1.55 1.55l-1.55 1.55l-1.55 -1.55zM156.1 99.1l1.55 1.55l-1.55 1.55l-1.55 -1.55zM109.1 78.8l1.55 1.55l-1.55 1.55l-1.55 -1.55zM113.7 73.0l1.55 1.55l-1.55 1.55l-1.55 -1.55zM107.1 55.7l1.55 1.55l-1.55 1.55l-1.55 -1.55zM100.9 93.4l1.55 1.55l-1.55 1.55l-1.55 -1.55zM154.9 98.0l1.55 1.55l-1.55 1.55l-1.55 -1.55zM127.3 77.3l1.55 1.55l-1.55 1.55l-1.55 -1.55zM113.2 70.3l1.55 1.55l-1.55 1.55l-1.55 -1.55zM141.7 80.0l1.55 1.55l-1.55 1.55l-1.55 -1.55zM103.9 79.5l1.55 1.55l-1.55 1.55l-1.55 -1.55zM125.9 83.4l1.55 1.55l-1.55 1.55l-1.55 -1.55zM143.9 84.4l1.55 1.55l-1.55 1.55l-1.55 -1.55zM135.5 71.1l1.55 1.55l-1.55 1.55l-1.55 -1.55zM139.7 84.4l1.55 1.55l-1.55 1.55l-1.55 -1.55zM121.7 80.9l1.55 1.55l-1.55 1.55l-1.55 -1.55zM126.1 80.8l1.55 1.55l-1.55 1.55l-1.55 -1.55zM103.4 88.3l1.55 1.55l-1.55 1.55l-1.55 -1.55zM104.9 91.9l1.55 1.55l-1.55 1.55l-1.55 -1.55zM127.0 80.8l1.55 1.55l-1.55 1.55l-1.55 -1.55zM142.6 77.3l1.55 1.55l-1.55 1.55l-1.55 -1.55zM148.2 90.3l1.55 1.55l-1.55 1.55l-1.55 -1.55zM107.7 78.1l1.55 1.55l-1.55 1.55l-1.55 -1.55zM113.3 73.1l1.55 1.55l-1.55 1.55l-1.55 -1.55zM121.1 65.9l1.55 1.55l-1.55 1.55l-1.55 -1.55zM101.8 89.7l1.55 1.55l-1.55 1.55l-1.55 -1.55zM109.8 76.0l1.55 1.55l-1.55 1.55l-1.55 -1.55zM130.8 77.1l1.55 1.55l-1.55 1.55l-1.55 -1.55zM138.1 73.9l1.55 1.55l-1.55 1.55l-1.55 -1.55zM112.0 80.9l1.55 1.55l-1.55 1.55l-1.55 -1.55zM114.1 79.2l1.55 1.55l-1.55 1.55l-1.55 -1.55zM119.9 69.1l1.55 1.55l-1.55 1.55l-1.55 -1.55zM139.7 78.5l1.55 1.55l-1.55 1.55l-1.55 -1.55zM100.4 88.0l1.55 1.55l-1.55 1.55l-1.55 -1.55zM132.0 76.4l1.55 1.55l-1.55 1.55l-1.55 -1.55zM109.7 84.6l1.55 1.55l-1.55 1.55l-1.55 -1.55zM125.7 72.5l1.55 1.55l-1.55 1.55l-1.55 -1.55zM108.4 73.1l1.55 1.55l-1.55 1.55l-1.55 -1.55zM99.1 82.7l1.55 1.55l-1.55 1.55l-1.55 -1.55zM106.8 71.4l1.55 1.55l-1.55 1.55l-1.55 -1.55zM116.5 75.0l1.55 1.55l-1.55 1.55l-1.55 -1.55zM101.3 90.7l1.55 1.55l-1.55 1.55l-1.55 -1.55zM128.8 77.7l1.55 1.55l-1.55 1.55l-1.55 -1.55zM109.6 68.6l1.55 1.55l-1.55 1.55l-1.55 -1.55zM118.1 65.2l1.55 1.55l-1.55 1.55l-1.55 -1.55zM145.2 80.9l1.55 1.55l-1.55 1.55l-1.55 -1.55zM140.5 75.8l1.55 1.55l-1.55 1.55l-1.55 -1.55zM141.6 81.4l1.55 1.55l-1.55 1.55l-1.55 -1.55zM113.3 69.9l1.55 1.55l-1.55 1.55l-1.55 -1.55zM121.6 81.5l1.55 1.55l-1.55 1.55l-1.55 -1.55zM132.0 84.0l1.55 1.55l-1.55 1.55l-1.55 -1.55zM130.3 69.1l1.55 1.55l-1.55 1.55l-1.55 -1.55zM109.9 87.6l1.55 1.55l-1.55 1.55l-1.55 -1.55zM111.1 85.2l1.55 1.55l-1.55 1.55l-1.55 -1.55zM147.9 89.5l1.55 1.55l-1.55 1.55l-1.55 -1.55zM116.0 83.3l1.55 1.55l-1.55 1.55l-1.55 -1.55zM120.1 79.3l1.55 1.55l-1.55 1.55l-1.55 -1.55zM137.8 79.4l1.55 1.55l-1.55 1.55l-1.55 -1.55zM145.4 79.9l1.55 1.55l-1.55 1.55l-1.55 -1.55zM108.9 77.0l1.55 1.55l-1.55 1.55l-1.55 -1.55zM110.4 84.8l1.55 1.55l-1.55 1.55l-1.55 -1.55zM108.5 82.7l1.55 1.55l-1.55 1.55l-1.55 -1.55zM139.4 83.3l1.55 1.55l-1.55 1.55l-1.55 -1.55zM98.6 88.3l1.55 1.55l-1.55 1.55l-1.55 -1.55zM130.2 68.2l1.55 1.55l-1.55 1.55l-1.55 -1.55zM116.0 72.9l1.55 1.55l-1.55 1.55l-1.55 -1.55zM110.7 77.1l1.55 1.55l-1.55 1.55l-1.55 -1.55zM146.3 83.8l1.55 1.55l-1.55 1.55l-1.55 -1.55zM105.1 86.7l1.55 1.55l-1.55 1.55l-1.55 -1.55zM111.2 73.8l1.55 1.55l-1.55 1.55l-1.55 -1.55zM125.8 71.8l1.55 1.55l-1.55 1.55l-1.55 -1.55zM101.9 68.0l1.55 1.55l-1.55 1.55l-1.55 -1.55zM144.8 83.9l1.55 1.55l-1.55 1.55l-1.55 -1.55zM131.9 80.4l1.55 1.55l-1.55 1.55l-1.55 -1.55zM129.0 89.0l1.55 1.55l-1.55 1.55l-1.55 -1.55zM143.5 81.6l1.55 1.55l-1.55 1.55l-1.55 -1.55zM115.4 71.0l1.55 1.55l-1.55 1.55l-1.55 -1.55zM104.0 88.0l1.55 1.55l-1.55 1.55l-1.55 -1.55zM115.0 80.3l1.55 1.55l-1.55 1.55l-1.55 -1.55zM103.5 80.6l1.55 1.55l-1.55 1.55l-1.55 -1.55zM136.7 79.9l1.55 1.55l-1.55 1.55l-1.55 -1.55zM115.9 77.0l1.55 1.55l-1.55 1.55l-1.55 -1.55zM129.8 78.1l1.55 1.55l-1.55 1.55l-1.55 -1.55zM119.0 73.7l1.55 1.55l-1.55 1.55l-1.55 -1.55zM129.3 71.0l1.55 1.55l-1.55 1.55l-1.55 -1.55zM129.9 67.3l1.55 1.55l-1.55 1.55l-1.55 -1.55zM102.4 87.7l1.55 1.55l-1.55 1.55l-1.55 -1.55zM119.9 80.6l1.55 1.55l-1.55 1.55l-1.55 -1.55zM98.3 97.2l1.55 1.55l-1.55 1.55l-1.55 -1.55zM134.9 79.1l1.55 1.55l-1.55 1.55l-1.55 -1.55zM141.6 84.2l1.55 1.55l-1.55 1.55l-1.55 -1.55zM144.1 80.6l1.55 1.55l-1.55 1.55l-1.55 -1.55zM96.8 99.0l1.55 1.55l-1.55 1.55l-1.55 -1.55zM137.4 73.8l1.55 1.55l-1.55 1.55l-1.55 -1.55zM146.1 89.8l1.55 1.55l-1.55 1.55l-1.55 -1.55zM144.3 82.3l1.55 1.55l-1.55 1.55l-1.55 -1.55zM131.0 71.8l1.55 1.55l-1.55 1.55l-1.55 -1.55zM148.2 87.2l1.55 1.55l-1.55 1.55l-1.55 -1.55zM124.1 70.3l1.55 1.55l-1.55 1.55l-1.55 -1.55zM126.7 78.8l1.55 1.55l-1.55 1.55l-1.55 -1.55zM124.1 73.3l1.55 1.55l-1.55 1.55l-1.55 -1.55zM113.1 73.9l1.55 1.55l-1.55 1.55l-1.55 -1.55zM105.2 73.2l1.55 1.55l-1.55 1.55l-1.55 -1.55zM121.9 81.7l1.55 1.55l-1.55 1.55l-1.55 -1.55zM100.9 88.7l1.55 1.55l-1.55 1.55l-1.55 -1.55zM105.8 75.5l1.55 1.55l-1.55 1.55l-1.55 -1.55zM117.5 79.0l1.55 1.55l-1.55 1.55l-1.55 -1.55zM100.3 79.8l1.55 1.55l-1.55 1.55l-1.55 -1.55zM131.0 75.9l1.55 1.55l-1.55 1.55l-1.55 -1.55zM116.3 72.4l1.55 1.55l-1.55 1.55l-1.55 -1.55zM117.1 84.1l1.55 1.55l-1.55 1.55l-1.55 -1.55zM132.0 69.4l1.55 1.55l-1.55 1.55l-1.55 -1.55zM100.8 72.2l1.55 1.55l-1.55 1.55l-1.55 -1.55zM123.8 75.7l1.55 1.55l-1.55 1.55l-1.55 -1.55zM106.6 74.2l1.55 1.55l-1.55 1.55l-1.55 -1.55zM117.5 66.4l1.55 1.55l-1.55 1.55l-1.55 -1.55zM143.5 82.6l1.55 1.55l-1.55 1.55l-1.55 -1.55zM94.7 101.4l1.55 1.55l-1.55 1.55l-1.55 -1.55zM156.9 98.1l1.55 1.55l-1.55 1.55l-1.55 -1.55zM144.9 80.2l1.55 1.55l-1.55 1.55l-1.55 -1.55zM111.9 86.5l1.55 1.55l-1.55 1.55l-1.55 -1.55zM105.1 80.4l1.55 1.55l-1.55 1.55l-1.55 -1.55zM97.2 84.4l1.55 1.55l-1.55 1.55l-1.55 -1.55zM131.3 72.7l1.55 1.55l-1.55 1.55l-1.55 -1.55zM112.2 77.1l1.55 1.55l-1.55 1.55l-1.55 -1.55zM135.6 82.2l1.55 1.55l-1.55 1.55l-1.55 -1.55zM141.9 81.6l1.55 1.55l-1.55 1.55l-1.55 -1.55zM127.2 67.6l1.55 1.55l-1.55 1.55l-1.55 -1.55zM92.3 117.9l1.55 1.55l-1.55 1.55l-1.55 -1.55zM132.4 76.5l1.55 1.55l-1.55 1.55l-1.55 -1.55zM129.3 77.6l1.55 1.55l-1.55 1.55l-1.55 -1.55zM122.0 68.3l1.55 1.55l-1.55 1.55l-1.55 -1.55zM118.6 78.2l1.55 1.55l-1.55 1.55l-1.55 -1.55zM141.7 79.8l1.55 1.55l-1.55 1.55l-1.55 -1.55zM129.4 77.7l1.55 1.55l-1.55 1.55l-1.55 -1.55zM115.5 83.3l1.55 1.55l-1.55 1.55l-1.55 -1.55zM123.4 79.0l1.55 1.55l-1.55 1.55l-1.55 -1.55zM97.6 82.0l1.55 1.55l-1.55 1.55l-1.55 -1.55zM109.4 72.1l1.55 1.55l-1.55 1.55l-1.55 -1.55zM121.2 73.9l1.55 1.55l-1.55 1.55l-1.55 -1.55zM106.8 80.8l1.55 1.55l-1.55 1.55l-1.55 -1.55zM106.7 86.7l1.55 1.55l-1.55 1.55l-1.55 -1.55zM148.2 85.9l1.55 1.55l-1.55 1.55l-1.55 -1.55zM116.1 78.6l1.55 1.55l-1.55 1.55l-1.55 -1.55zM112.3 66.4l1.55 1.55l-1.55 1.55l-1.55 -1.55zM109.6 69.7l1.55 1.55l-1.55 1.55l-1.55 -1.55z" fill="none" stroke="#cc1488" stroke-width="1.0"/>
<g fill="#22b34a"><circle cx="115.3" cy="78.7" r="2.4"/><circle cx="114.1" cy="86.5" r="2.4"/><circle cx="99.6" cy="86.2" r="2.4"/><circle cx="116.0" cy="66.4" r="2.4"/><circle cx="129.8" cy="80.0" r="2.4"/><circle cx="132.1" cy="84.3" r="2.4"/><circle cx="107.0" cy="87.6" r="2.4"/><circle cx="126.6" cy="74.6" r="2.4"/><circle cx="121.7" cy="87.1" r="2.4"/><circle cx="141.1" cy="76.3" r="2.4"/><circle cx="119.3" cy="84.1" r="2.4"/><circle cx="117.7" cy="77.4" r="2.4"/><circle cx="154.1" cy="101.4" r="2.4"/></g>
<g fill="#22b34a"><circle cx="244.4" cy="79.6" r="2.4"/><circle cx="254.8" cy="62.5" r="2.4"/><circle cx="251.1" cy="71.1" r="2.4"/><circle cx="278.1" cy="104.4" r="2.4"/><circle cx="229.8" cy="73.3" r="2.4"/><circle cx="236.5" cy="80.5" r="2.4"/><circle cx="227.2" cy="81.3" r="2.4"/><circle cx="226.9" cy="82.4" r="2.4"/><circle cx="269.7" cy="95.6" r="2.4"/><circle cx="242.6" cy="83.8" r="2.4"/><circle cx="275.2" cy="100.2" r="2.4"/><circle cx="265.8" cy="89.2" r="2.4"/><circle cx="269.3" cy="91.9" r="2.4"/><circle cx="244.1" cy="79.5" r="2.4"/><circle cx="226.3" cy="72.6" r="2.4"/><circle cx="235.0" cy="79.7" r="2.4"/><circle cx="225.3" cy="84.5" r="2.4"/><circle cx="214.8" cy="88.5" r="2.4"/><circle cx="231.2" cy="73.2" r="2.4"/><circle cx="263.9" cy="92.5" r="2.4"/><circle cx="231.6" cy="76.7" r="2.4"/><circle cx="237.5" cy="83.9" r="2.4"/><circle cx="239.8" cy="82.9" r="2.4"/><circle cx="259.2" cy="74.9" r="2.4"/><circle cx="265.9" cy="95.3" r="2.4"/><circle cx="243.7" cy="70.4" r="2.4"/><circle cx="261.8" cy="87.2" r="2.4"/><circle cx="258.7" cy="87.4" r="2.4"/><circle cx="277.4" cy="103.5" r="2.4"/><circle cx="227.1" cy="81.8" r="2.4"/><circle cx="226.3" cy="75.3" r="2.4"/><circle cx="269.3" cy="96.6" r="2.4"/><circle cx="239.9" cy="79.1" r="2.4"/><circle cx="224.8" cy="68.9" r="2.4"/><circle cx="237.3" cy="61.6" r="2.4"/><circle cx="264.4" cy="89.4" r="2.4"/><circle cx="222.6" cy="79.9" r="2.4"/><circle cx="216.3" cy="85.4" r="2.4"/><circle cx="225.5" cy="73.1" r="2.4"/><circle cx="215.1" cy="92.4" r="2.4"/><circle cx="226.2" cy="75.2" r="2.4"/><circle cx="245.3" cy="76.1" r="2.4"/><circle cx="239.5" cy="80.6" r="2.4"/><circle cx="234.7" cy="85.3" r="2.4"/><circle cx="218.7" cy="88.3" r="2.4"/><circle cx="249.8" cy="71.0" r="2.4"/><circle cx="248.3" cy="76.1" r="2.4"/><circle cx="239.3" cy="82.6" r="2.4"/><circle cx="229.9" cy="67.6" r="2.4"/><circle cx="225.3" cy="68.4" r="2.4"/><circle cx="242.9" cy="74.9" r="2.4"/><circle cx="249.9" cy="75.8" r="2.4"/><circle cx="271.6" cy="93.0" r="2.4"/><circle cx="218.2" cy="85.7" r="2.4"/><circle cx="223.6" cy="84.2" r="2.4"/><circle cx="258.1" cy="76.3" r="2.4"/><circle cx="226.5" cy="67.9" r="2.4"/><circle cx="263.1" cy="89.7" r="2.4"/><circle cx="241.5" cy="72.1" r="2.4"/><circle cx="228.4" cy="84.7" r="2.4"/><circle cx="231.5" cy="83.1" r="2.4"/><circle cx="215.5" cy="94.9" r="2.4"/><circle cx="213.9" cy="96.5" r="2.4"/><circle cx="224.3" cy="71.4" r="2.4"/><circle cx="215.8" cy="85.2" r="2.4"/><circle cx="242.8" cy="83.9" r="2.4"/><circle cx="229.9" cy="69.4" r="2.4"/><circle cx="238.7" cy="77.2" r="2.4"/><circle cx="251.6" cy="75.3" r="2.4"/><circle cx="246.9" cy="59.9" r="2.4"/><circle cx="217.0" cy="92.5" r="2.4"/><circle cx="228.0" cy="73.7" r="2.4"/><circle cx="250.3" cy="78.7" r="2.4"/><circle cx="232.0" cy="84.6" r="2.4"/><circle cx="247.9" cy="68.5" r="2.4"/><circle cx="251.5" cy="80.9" r="2.4"/><circle cx="234.6" cy="78.7" r="2.4"/><circle cx="225.2" cy="68.2" r="2.4"/><circle cx="212.5" cy="94.3" r="2.4"/><circle cx="273.7" cy="95.5" r="2.4"/><circle cx="242.6" cy="72.6" r="2.4"/><circle cx="260.2" cy="82.9" r="2.4"/><circle cx="234.1" cy="81.8" r="2.4"/><circle cx="234.6" cy="84.2" r="2.4"/><circle cx="242.4" cy="77.0" r="2.4"/><circle cx="221.5" cy="90.5" r="2.4"/><circle cx="239.9" cy="73.3" r="2.4"/><circle cx="232.1" cy="71.5" r="2.4"/><circle cx="223.9" cy="71.7" r="2.4"/><circle cx="238.9" cy="84.5" r="2.4"/><circle cx="233.2" cy="71.2" r="2.4"/><circle cx="230.5" cy="85.6" r="2.4"/><circle cx="227.3" cy="74.3" r="2.4"/><circle cx="268.1" cy="94.6" r="2.4"/><circle cx="264.7" cy="90.5" r="2.4"/><circle cx="212.4" cy="96.5" r="2.4"/><circle cx="241.1" cy="76.3" r="2.4"/><circle cx="226.1" cy="71.0" r="2.4"/><circle cx="249.4" cy="68.7" r="2.4"/><circle cx="241.0" cy="82.1" r="2.4"/><circle cx="246.3" cy="82.2" r="2.4"/><circle cx="270.7" cy="97.2" r="2.4"/><circle cx="258.6" cy="81.8" r="2.4"/><circle cx="257.4" cy="72.9" r="2.4"/><circle cx="224.7" cy="71.6" r="2.4"/><circle cx="263.9" cy="87.2" r="2.4"/><circle cx="215.3" cy="93.9" r="2.4"/><circle cx="253.6" cy="74.7" r="2.4"/><circle cx="245.9" cy="76.1" r="2.4"/><circle cx="257.7" cy="80.8" r="2.4"/><circle cx="232.4" cy="82.8" r="2.4"/><circle cx="243.6" cy="71.3" r="2.4"/><circle cx="223.7" cy="76.3" r="2.4"/><circle cx="231.6" cy="80.1" r="2.4"/><circle cx="244.8" cy="71.7" r="2.4"/><circle cx="255.8" cy="79.2" r="2.4"/><circle cx="223.1" cy="81.2" r="2.4"/><circle cx="246.1" cy="70.4" r="2.4"/><circle cx="222.0" cy="86.9" r="2.4"/><circle cx="234.2" cy="81.2" r="2.4"/><circle cx="223.8" cy="77.3" r="2.4"/><circle cx="217.6" cy="87.3" r="2.4"/><circle cx="230.8" cy="66.9" r="2.4"/><circle cx="239.0" cy="85.3" r="2.4"/><circle cx="228.5" cy="77.1" r="2.4"/><circle cx="269.5" cy="91.1" r="2.4"/><circle cx="217.0" cy="97.0" r="2.4"/><circle cx="240.5" cy="78.0" r="2.4"/><circle cx="231.8" cy="68.2" r="2.4"/><circle cx="225.6" cy="69.1" r="2.4"/><circle cx="232.8" cy="76.4" r="2.4"/><circle cx="274.1" cy="100.5" r="2.4"/><circle cx="223.8" cy="86.1" r="2.4"/><circle cx="249.6" cy="79.2" r="2.4"/><circle cx="244.3" cy="81.6" r="2.4"/><circle cx="266.5" cy="93.8" r="2.4"/><circle cx="273.2" cy="95.1" r="2.4"/><circle cx="257.2" cy="83.8" r="2.4"/><circle cx="215.4" cy="89.6" r="2.4"/><circle cx="217.2" cy="96.4" r="2.4"/><circle cx="230.7" cy="76.2" r="2.4"/><circle cx="256.0" cy="76.1" r="2.4"/><circle cx="226.0" cy="82.2" r="2.4"/><circle cx="227.2" cy="72.0" r="2.4"/><circle cx="247.7" cy="80.9" r="2.4"/><circle cx="268.8" cy="90.6" r="2.4"/><circle cx="214.0" cy="95.6" r="2.4"/><circle cx="244.9" cy="82.7" r="2.4"/><circle cx="242.6" cy="81.2" r="2.4"/><circle cx="260.5" cy="78.3" r="2.4"/><circle cx="241.4" cy="80.4" r="2.4"/><circle cx="247.2" cy="70.6" r="2.4"/><circle cx="258.8" cy="81.8" r="2.4"/><circle cx="229.1" cy="70.1" r="2.4"/><circle cx="231.3" cy="81.9" r="2.4"/><circle cx="235.6" cy="76.4" r="2.4"/><circle cx="242.3" cy="75.9" r="2.4"/><circle cx="227.0" cy="85.4" r="2.4"/><circle cx="242.9" cy="82.3" r="2.4"/></g>
<path d="M222.0 85.6l1.55 1.55l-1.55 1.55l-1.55 -1.55zM248.0 72.5l1.55 1.55l-1.55 1.55l-1.55 -1.55zM232.3 82.3l1.55 1.55l-1.55 1.55l-1.55 -1.55zM232.9 82.9l1.55 1.55l-1.55 1.55l-1.55 -1.55zM236.5 77.0l1.55 1.55l-1.55 1.55l-1.55 -1.55zM249.5 61.0l1.55 1.55l-1.55 1.55l-1.55 -1.55zM245.2 81.9l1.55 1.55l-1.55 1.55l-1.55 -1.55zM245.0 77.8l1.55 1.55l-1.55 1.55l-1.55 -1.55zM268.2 92.2l1.55 1.55l-1.55 1.55l-1.55 -1.55zM240.3 71.5l1.55 1.55l-1.55 1.55l-1.55 -1.55zM267.6 89.5l1.55 1.55l-1.55 1.55l-1.55 -1.55zM215.1 88.2l1.55 1.55l-1.55 1.55l-1.55 -1.55zM249.0 83.7l1.55 1.55l-1.55 1.55l-1.55 -1.55zM250.4 82.1l1.55 1.55l-1.55 1.55l-1.55 -1.55zM238.5 80.0l1.55 1.55l-1.55 1.55l-1.55 -1.55zM249.7 76.9l1.55 1.55l-1.55 1.55l-1.55 -1.55zM232.0 84.8l1.55 1.55l-1.55 1.55l-1.55 -1.55zM218.9 78.5l1.55 1.55l-1.55 1.55l-1.55 -1.55zM227.4 72.6l1.55 1.55l-1.55 1.55l-1.55 -1.55zM250.5 78.3l1.55 1.55l-1.55 1.55l-1.55 -1.55zM223.3 86.5l1.55 1.55l-1.55 1.55l-1.55 -1.55zM251.6 84.8l1.55 1.55l-1.55 1.55l-1.55 -1.55zM243.4 63.6l1.55 1.55l-1.55 1.55l-1.55 -1.55zM234.4 76.3l1.55 1.55l-1.55 1.55l-1.55 -1.55zM250.9 84.2l1.55 1.55l-1.55 1.55l-1.55 -1.55zM270.3 92.6l1.55 1.55l-1.55 1.55l-1.55 -1.55zM271.8 95.2l1.55 1.55l-1.55 1.55l-1.55 -1.55zM269.5 95.1l1.55 1.55l-1.55 1.55l-1.55 -1.55zM243.0 73.1l1.55 1.55l-1.55 1.55l-1.55 -1.55zM226.6 82.7l1.55 1.55l-1.55 1.55l-1.55 -1.55zM241.8 77.4l1.55 1.55l-1.55 1.55l-1.55 -1.55zM263.9 85.6l1.55 1.55l-1.55 1.55l-1.55 -1.55zM219.6 81.2l1.55 1.55l-1.55 1.55l-1.55 -1.55zM250.0 83.4l1.55 1.55l-1.55 1.55l-1.55 -1.55zM220.4 82.1l1.55 1.55l-1.55 1.55l-1.55 -1.55zM266.8 90.8l1.55 1.55l-1.55 1.55l-1.55 -1.55zM231.6 71.1l1.55 1.55l-1.55 1.55l-1.55 -1.55zM218.5 91.6l1.55 1.55l-1.55 1.55l-1.55 -1.55zM263.5 89.4l1.55 1.55l-1.55 1.55l-1.55 -1.55zM233.8 74.1l1.55 1.55l-1.55 1.55l-1.55 -1.55zM268.3 89.8l1.55 1.55l-1.55 1.55l-1.55 -1.55zM242.3 72.0l1.55 1.55l-1.55 1.55l-1.55 -1.55zM246.7 78.9l1.55 1.55l-1.55 1.55l-1.55 -1.55zM242.5 83.0l1.55 1.55l-1.55 1.55l-1.55 -1.55zM218.9 82.7l1.55 1.55l-1.55 1.55l-1.55 -1.55zM270.4 90.5l1.55 1.55l-1.55 1.55l-1.55 -1.55zM249.3 74.0l1.55 1.55l-1.55 1.55l-1.55 -1.55zM223.6 80.7l1.55 1.55l-1.55 1.55l-1.55 -1.55zM212.2 90.2l1.55 1.55l-1.55 1.55l-1.55 -1.55zM222.7 77.3l1.55 1.55l-1.55 1.55l-1.55 -1.55zM254.2 78.4l1.55 1.55l-1.55 1.55l-1.55 -1.55zM217.6 85.6l1.55 1.55l-1.55 1.55l-1.55 -1.55zM228.9 75.8l1.55 1.55l-1.55 1.55l-1.55 -1.55zM261.2 81.3l1.55 1.55l-1.55 1.55l-1.55 -1.55zM212.0 90.2l1.55 1.55l-1.55 1.55l-1.55 -1.55zM254.0 81.8l1.55 1.55l-1.55 1.55l-1.55 -1.55zM247.6 84.3l1.55 1.55l-1.55 1.55l-1.55 -1.55zM246.8 71.3l1.55 1.55l-1.55 1.55l-1.55 -1.55zM240.4 79.9l1.55 1.55l-1.55 1.55l-1.55 -1.55zM258.3 84.6l1.55 1.55l-1.55 1.55l-1.55 -1.55zM219.6 81.8l1.55 1.55l-1.55 1.55l-1.55 -1.55zM224.2 82.7l1.55 1.55l-1.55 1.55l-1.55 -1.55zM254.0 82.8l1.55 1.55l-1.55 1.55l-1.55 -1.55zM221.8 83.2l1.55 1.55l-1.55 1.55l-1.55 -1.55zM222.7 81.1l1.55 1.55l-1.55 1.55l-1.55 -1.55zM255.0 81.2l1.55 1.55l-1.55 1.55l-1.55 -1.55zM224.3 85.2l1.55 1.55l-1.55 1.55l-1.55 -1.55zM240.3 77.0l1.55 1.55l-1.55 1.55l-1.55 -1.55zM251.8 84.3l1.55 1.55l-1.55 1.55l-1.55 -1.55zM223.6 74.7l1.55 1.55l-1.55 1.55l-1.55 -1.55zM270.4 96.2l1.55 1.55l-1.55 1.55l-1.55 -1.55zM263.3 92.2l1.55 1.55l-1.55 1.55l-1.55 -1.55zM248.9 79.1l1.55 1.55l-1.55 1.55l-1.55 -1.55zM219.9 76.8l1.55 1.55l-1.55 1.55l-1.55 -1.55zM222.5 83.4l1.55 1.55l-1.55 1.55l-1.55 -1.55zM266.2 89.5l1.55 1.55l-1.55 1.55l-1.55 -1.55zM250.3 77.7l1.55 1.55l-1.55 1.55l-1.55 -1.55zM245.9 76.8l1.55 1.55l-1.55 1.55l-1.55 -1.55zM243.2 76.0l1.55 1.55l-1.55 1.55l-1.55 -1.55zM230.9 77.7l1.55 1.55l-1.55 1.55l-1.55 -1.55zM236.0 80.7l1.55 1.55l-1.55 1.55l-1.55 -1.55zM233.0 80.7l1.55 1.55l-1.55 1.55l-1.55 -1.55zM258.8 87.0l1.55 1.55l-1.55 1.55l-1.55 -1.55zM262.8 82.5l1.55 1.55l-1.55 1.55l-1.55 -1.55zM229.6 76.4l1.55 1.55l-1.55 1.55l-1.55 -1.55zM245.7 76.9l1.55 1.55l-1.55 1.55l-1.55 -1.55zM234.5 73.8l1.55 1.55l-1.55 1.55l-1.55 -1.55zM231.6 73.7l1.55 1.55l-1.55 1.55l-1.55 -1.55zM256.8 78.5l1.55 1.55l-1.55 1.55l-1.55 -1.55zM226.1 81.8l1.55 1.55l-1.55 1.55l-1.55 -1.55zM217.0 88.9l1.55 1.55l-1.55 1.55l-1.55 -1.55zM227.3 85.2l1.55 1.55l-1.55 1.55l-1.55 -1.55zM217.6 90.8l1.55 1.55l-1.55 1.55l-1.55 -1.55zM242.3 71.4l1.55 1.55l-1.55 1.55l-1.55 -1.55zM229.4 73.0l1.55 1.55l-1.55 1.55l-1.55 -1.55zM238.6 74.7l1.55 1.55l-1.55 1.55l-1.55 -1.55zM261.2 84.4l1.55 1.55l-1.55 1.55l-1.55 -1.55zM265.1 91.2l1.55 1.55l-1.55 1.55l-1.55 -1.55zM250.1 81.6l1.55 1.55l-1.55 1.55l-1.55 -1.55zM226.6 74.1l1.55 1.55l-1.55 1.55l-1.55 -1.55zM254.0 78.2l1.55 1.55l-1.55 1.55l-1.55 -1.55zM248.2 81.8l1.55 1.55l-1.55 1.55l-1.55 -1.55zM253.2 77.9l1.55 1.55l-1.55 1.55l-1.55 -1.55zM219.3 82.4l1.55 1.55l-1.55 1.55l-1.55 -1.55zM246.5 81.7l1.55 1.55l-1.55 1.55l-1.55 -1.55zM225.5 71.9l1.55 1.55l-1.55 1.55l-1.55 -1.55zM228.1 80.9l1.55 1.55l-1.55 1.55l-1.55 -1.55zM257.1 78.5l1.55 1.55l-1.55 1.55l-1.55 -1.55zM230.6 84.3l1.55 1.55l-1.55 1.55l-1.55 -1.55zM224.9 81.7l1.55 1.55l-1.55 1.55l-1.55 -1.55zM271.0 97.7l1.55 1.55l-1.55 1.55l-1.55 -1.55zM229.7 75.8l1.55 1.55l-1.55 1.55l-1.55 -1.55zM259.5 90.0l1.55 1.55l-1.55 1.55l-1.55 -1.55zM237.9 77.3l1.55 1.55l-1.55 1.55l-1.55 -1.55zM216.4 88.1l1.55 1.55l-1.55 1.55l-1.55 -1.55zM217.1 82.1l1.55 1.55l-1.55 1.55l-1.55 -1.55zM217.1 82.6l1.55 1.55l-1.55 1.55l-1.55 -1.55zM224.8 80.8l1.55 1.55l-1.55 1.55l-1.55 -1.55zM219.9 87.4l1.55 1.55l-1.55 1.55l-1.55 -1.55zM223.9 80.6l1.55 1.55l-1.55 1.55l-1.55 -1.55zM220.8 88.6l1.55 1.55l-1.55 1.55l-1.55 -1.55zM234.7 78.6l1.55 1.55l-1.55 1.55l-1.55 -1.55zM244.5 72.6l1.55 1.55l-1.55 1.55l-1.55 -1.55zM231.8 73.6l1.55 1.55l-1.55 1.55l-1.55 -1.55zM243.9 79.6l1.55 1.55l-1.55 1.55l-1.55 -1.55zM219.0 77.7l1.55 1.55l-1.55 1.55l-1.55 -1.55zM228.6 80.6l1.55 1.55l-1.55 1.55l-1.55 -1.55zM234.1 82.6l1.55 1.55l-1.55 1.55l-1.55 -1.55zM259.9 85.7l1.55 1.55l-1.55 1.55l-1.55 -1.55zM243.8 79.2l1.55 1.55l-1.55 1.55l-1.55 -1.55zM242.4 77.8l1.55 1.55l-1.55 1.55l-1.55 -1.55zM219.4 81.6l1.55 1.55l-1.55 1.55l-1.55 -1.55zM273.9 97.8l1.55 1.55l-1.55 1.55l-1.55 -1.55zM218.5 86.1l1.55 1.55l-1.55 1.55l-1.55 -1.55zM258.5 83.4l1.55 1.55l-1.55 1.55l-1.55 -1.55zM214.0 95.3l1.55 1.55l-1.55 1.55l-1.55 -1.55zM223.7 85.1l1.55 1.55l-1.55 1.55l-1.55 -1.55zM214.3 97.8l1.55 1.55l-1.55 1.55l-1.55 -1.55zM236.9 72.6l1.55 1.55l-1.55 1.55l-1.55 -1.55zM266.2 93.8l1.55 1.55l-1.55 1.55l-1.55 -1.55zM216.3 88.2l1.55 1.55l-1.55 1.55l-1.55 -1.55zM218.4 93.4l1.55 1.55l-1.55 1.55l-1.55 -1.55zM215.8 90.3l1.55 1.55l-1.55 1.55l-1.55 -1.55zM242.6 74.8l1.55 1.55l-1.55 1.55l-1.55 -1.55zM236.2 81.0l1.55 1.55l-1.55 1.55l-1.55 -1.55zM220.2 91.1l1.55 1.55l-1.55 1.55l-1.55 -1.55zM251.2 83.1l1.55 1.55l-1.55 1.55l-1.55 -1.55zM227.6 80.6l1.55 1.55l-1.55 1.55l-1.55 -1.55zM270.5 93.0l1.55 1.55l-1.55 1.55l-1.55 -1.55zM238.1 80.3l1.55 1.55l-1.55 1.55l-1.55 -1.55zM247.6 75.4l1.55 1.55l-1.55 1.55l-1.55 -1.55zM254.8 85.6l1.55 1.55l-1.55 1.55l-1.55 -1.55zM266.6 87.4l1.55 1.55l-1.55 1.55l-1.55 -1.55zM237.3 73.3l1.55 1.55l-1.55 1.55l-1.55 -1.55zM257.4 84.0l1.55 1.55l-1.55 1.55l-1.55 -1.55zM213.5 94.9l1.55 1.55l-1.55 1.55l-1.55 -1.55zM248.7 84.2l1.55 1.55l-1.55 1.55l-1.55 -1.55zM221.2 86.6l1.55 1.55l-1.55 1.55l-1.55 -1.55zM273.3 101.0l1.55 1.55l-1.55 1.55l-1.55 -1.55zM220.5 77.8l1.55 1.55l-1.55 1.55l-1.55 -1.55zM249.8 82.3l1.55 1.55l-1.55 1.55l-1.55 -1.55zM247.7 79.7l1.55 1.55l-1.55 1.55l-1.55 -1.55zM216.1 87.7l1.55 1.55l-1.55 1.55l-1.55 -1.55zM244.8 78.9l1.55 1.55l-1.55 1.55l-1.55 -1.55zM233.9 74.1l1.55 1.55l-1.55 1.55l-1.55 -1.55zM211.8 89.3l1.55 1.55l-1.55 1.55l-1.55 -1.55zM240.7 78.3l1.55 1.55l-1.55 1.55l-1.55 -1.55zM231.4 80.5l1.55 1.55l-1.55 1.55l-1.55 -1.55zM234.2 80.0l1.55 1.55l-1.55 1.55l-1.55 -1.55zM224.0 78.7l1.55 1.55l-1.55 1.55l-1.55 -1.55zM239.9 76.2l1.55 1.55l-1.55 1.55l-1.55 -1.55zM241.2 72.0l1.55 1.55l-1.55 1.55l-1.55 -1.55zM216.5 80.4l1.55 1.55l-1.55 1.55l-1.55 -1.55zM251.6 76.1l1.55 1.55l-1.55 1.55l-1.55 -1.55zM219.7 81.4l1.55 1.55l-1.55 1.55l-1.55 -1.55zM230.4 71.4l1.55 1.55l-1.55 1.55l-1.55 -1.55zM264.4 90.6l1.55 1.55l-1.55 1.55l-1.55 -1.55zM238.8 84.4l1.55 1.55l-1.55 1.55l-1.55 -1.55zM267.9 93.1l1.55 1.55l-1.55 1.55l-1.55 -1.55zM256.8 77.0l1.55 1.55l-1.55 1.55l-1.55 -1.55zM266.6 94.4l1.55 1.55l-1.55 1.55l-1.55 -1.55zM237.2 70.0l1.55 1.55l-1.55 1.55l-1.55 -1.55zM266.0 95.3l1.55 1.55l-1.55 1.55l-1.55 -1.55zM214.9 89.4l1.55 1.55l-1.55 1.55l-1.55 -1.55zM255.7 83.3l1.55 1.55l-1.55 1.55l-1.55 -1.55zM262.9 92.2l1.55 1.55l-1.55 1.55l-1.55 -1.55zM241.5 83.3l1.55 1.55l-1.55 1.55l-1.55 -1.55zM262.1 88.4l1.55 1.55l-1.55 1.55l-1.55 -1.55zM242.1 78.3l1.55 1.55l-1.55 1.55l-1.55 -1.55zM222.7 85.8l1.55 1.55l-1.55 1.55l-1.55 -1.55zM217.2 82.9l1.55 1.55l-1.55 1.55l-1.55 -1.55zM238.0 82.8l1.55 1.55l-1.55 1.55l-1.55 -1.55zM224.4 84.5l1.55 1.55l-1.55 1.55l-1.55 -1.55zM212.2 95.6l1.55 1.55l-1.55 1.55l-1.55 -1.55zM259.2 82.8l1.55 1.55l-1.55 1.55l-1.55 -1.55zM268.4 97.2l1.55 1.55l-1.55 1.55l-1.55 -1.55zM225.9 70.5l1.55 1.55l-1.55 1.55l-1.55 -1.55zM215.5 83.6l1.55 1.55l-1.55 1.55l-1.55 -1.55zM225.7 85.3l1.55 1.55l-1.55 1.55l-1.55 -1.55zM271.8 96.7l1.55 1.55l-1.55 1.55l-1.55 -1.55zM224.2 86.1l1.55 1.55l-1.55 1.55l-1.55 -1.55zM263.4 83.6l1.55 1.55l-1.55 1.55l-1.55 -1.55zM219.8 75.5l1.55 1.55l-1.55 1.55l-1.55 -1.55zM249.0 74.9l1.55 1.55l-1.55 1.55l-1.55 -1.55zM247.2 74.4l1.55 1.55l-1.55 1.55l-1.55 -1.55zM255.6 77.7l1.55 1.55l-1.55 1.55l-1.55 -1.55zM251.9 77.2l1.55 1.55l-1.55 1.55l-1.55 -1.55zM216.2 89.3l1.55 1.55l-1.55 1.55l-1.55 -1.55zM242.4 77.5l1.55 1.55l-1.55 1.55l-1.55 -1.55zM225.6 70.5l1.55 1.55l-1.55 1.55l-1.55 -1.55zM272.8 101.8l1.55 1.55l-1.55 1.55l-1.55 -1.55zM231.1 84.1l1.55 1.55l-1.55 1.55l-1.55 -1.55zM239.2 80.0l1.55 1.55l-1.55 1.55l-1.55 -1.55zM253.3 76.8l1.55 1.55l-1.55 1.55l-1.55 -1.55zM228.7 81.9l1.55 1.55l-1.55 1.55l-1.55 -1.55zM228.0 78.0l1.55 1.55l-1.55 1.55l-1.55 -1.55zM244.4 82.4l1.55 1.55l-1.55 1.55l-1.55 -1.55zM239.4 81.2l1.55 1.55l-1.55 1.55l-1.55 -1.55zM252.2 83.7l1.55 1.55l-1.55 1.55l-1.55 -1.55zM223.0 76.6l1.55 1.55l-1.55 1.55l-1.55 -1.55zM273.3 100.8l1.55 1.55l-1.55 1.55l-1.55 -1.55zM245.6 73.8l1.55 1.55l-1.55 1.55l-1.55 -1.55zM233.6 78.3l1.55 1.55l-1.55 1.55l-1.55 -1.55zM220.0 82.9l1.55 1.55l-1.55 1.55l-1.55 -1.55zM252.4 81.7l1.55 1.55l-1.55 1.55l-1.55 -1.55zM225.4 83.3l1.55 1.55l-1.55 1.55l-1.55 -1.55zM261.9 87.7l1.55 1.55l-1.55 1.55l-1.55 -1.55zM226.8 81.8l1.55 1.55l-1.55 1.55l-1.55 -1.55zM248.0 83.6l1.55 1.55l-1.55 1.55l-1.55 -1.55zM264.1 84.7l1.55 1.55l-1.55 1.55l-1.55 -1.55zM253.5 77.0l1.55 1.55l-1.55 1.55l-1.55 -1.55zM258.3 87.3l1.55 1.55l-1.55 1.55l-1.55 -1.55zM245.0 81.5l1.55 1.55l-1.55 1.55l-1.55 -1.55zM259.6 87.2l1.55 1.55l-1.55 1.55l-1.55 -1.55zM244.1 81.9l1.55 1.55l-1.55 1.55l-1.55 -1.55zM244.3 81.2l1.55 1.55l-1.55 1.55l-1.55 -1.55zM271.7 97.7l1.55 1.55l-1.55 1.55l-1.55 -1.55zM213.8 94.0l1.55 1.55l-1.55 1.55l-1.55 -1.55zM265.8 94.7l1.55 1.55l-1.55 1.55l-1.55 -1.55zM250.7 78.4l1.55 1.55l-1.55 1.55l-1.55 -1.55zM227.8 70.1l1.55 1.55l-1.55 1.55l-1.55 -1.55zM270.4 93.9l1.55 1.55l-1.55 1.55l-1.55 -1.55zM226.6 75.4l1.55 1.55l-1.55 1.55l-1.55 -1.55zM262.0 85.0l1.55 1.55l-1.55 1.55l-1.55 -1.55zM261.9 89.7l1.55 1.55l-1.55 1.55l-1.55 -1.55zM255.0 77.9l1.55 1.55l-1.55 1.55l-1.55 -1.55zM269.1 96.7l1.55 1.55l-1.55 1.55l-1.55 -1.55zM218.2 90.2l1.55 1.55l-1.55 1.55l-1.55 -1.55zM254.3 80.9l1.55 1.55l-1.55 1.55l-1.55 -1.55zM218.2 94.4l1.55 1.55l-1.55 1.55l-1.55 -1.55zM214.8 94.7l1.55 1.55l-1.55 1.55l-1.55 -1.55zM234.6 84.2l1.55 1.55l-1.55 1.55l-1.55 -1.55zM249.8 77.1l1.55 1.55l-1.55 1.55l-1.55 -1.55zM232.9 83.9l1.55 1.55l-1.55 1.55l-1.55 -1.55zM263.7 84.1l1.55 1.55l-1.55 1.55l-1.55 -1.55zM258.6 87.6l1.55 1.55l-1.55 1.55l-1.55 -1.55zM252.1 77.2l1.55 1.55l-1.55 1.55l-1.55 -1.55zM220.1 85.8l1.55 1.55l-1.55 1.55l-1.55 -1.55zM221.4 84.4l1.55 1.55l-1.55 1.55l-1.55 -1.55zM254.5 84.7l1.55 1.55l-1.55 1.55l-1.55 -1.55zM246.5 78.4l1.55 1.55l-1.55 1.55l-1.55 -1.55zM252.6 74.0l1.55 1.55l-1.55 1.55l-1.55 -1.55zM258.8 84.4l1.55 1.55l-1.55 1.55l-1.55 -1.55zM238.2 80.9l1.55 1.55l-1.55 1.55l-1.55 -1.55zM215.0 84.2l1.55 1.55l-1.55 1.55l-1.55 -1.55zM216.6 82.5l1.55 1.55l-1.55 1.55l-1.55 -1.55zM228.8 74.1l1.55 1.55l-1.55 1.55l-1.55 -1.55zM231.5 81.6l1.55 1.55l-1.55 1.55l-1.55 -1.55zM225.0 74.4l1.55 1.55l-1.55 1.55l-1.55 -1.55zM247.2 81.8l1.55 1.55l-1.55 1.55l-1.55 -1.55zM222.2 76.7l1.55 1.55l-1.55 1.55l-1.55 -1.55zM239.2 77.2l1.55 1.55l-1.55 1.55l-1.55 -1.55zM250.0 72.9l1.55 1.55l-1.55 1.55l-1.55 -1.55zM265.3 92.6l1.55 1.55l-1.55 1.55l-1.55 -1.55zM260.1 85.3l1.55 1.55l-1.55 1.55l-1.55 -1.55zM236.9 82.1l1.55 1.55l-1.55 1.55l-1.55 -1.55zM223.3 84.1l1.55 1.55l-1.55 1.55l-1.55 -1.55zM241.8 71.6l1.55 1.55l-1.55 1.55l-1.55 -1.55zM225.5 80.8l1.55 1.55l-1.55 1.55l-1.55 -1.55zM225.5 71.5l1.55 1.55l-1.55 1.55l-1.55 -1.55zM254.1 81.9l1.55 1.55l-1.55 1.55l-1.55 -1.55zM243.1 78.2l1.55 1.55l-1.55 1.55l-1.55 -1.55zM224.0 77.7l1.55 1.55l-1.55 1.55l-1.55 -1.55zM269.3 94.2l1.55 1.55l-1.55 1.55l-1.55 -1.55zM250.6 80.0l1.55 1.55l-1.55 1.55l-1.55 -1.55zM259.6 83.3l1.55 1.55l-1.55 1.55l-1.55 -1.55zM234.5 79.4l1.55 1.55l-1.55 1.55l-1.55 -1.55zM238.6 76.9l1.55 1.55l-1.55 1.55l-1.55 -1.55zM261.3 83.4l1.55 1.55l-1.55 1.55l-1.55 -1.55zM230.5 70.8l1.55 1.55l-1.55 1.55l-1.55 -1.55zM240.8 83.2l1.55 1.55l-1.55 1.55l-1.55 -1.55zM252.0 75.5l1.55 1.55l-1.55 1.55l-1.55 -1.55zM215.1 84.5l1.55 1.55l-1.55 1.55l-1.55 -1.55zM252.6 76.5l1.55 1.55l-1.55 1.55l-1.55 -1.55zM243.1 78.0l1.55 1.55l-1.55 1.55l-1.55 -1.55zM267.5 96.3l1.55 1.55l-1.55 1.55l-1.55 -1.55zM248.4 77.6l1.55 1.55l-1.55 1.55l-1.55 -1.55zM211.4 91.4l1.55 1.55l-1.55 1.55l-1.55 -1.55zM270.7 98.4l1.55 1.55l-1.55 1.55l-1.55 -1.55zM211.2 90.4l1.55 1.55l-1.55 1.55l-1.55 -1.55zM233.2 72.7l1.55 1.55l-1.55 1.55l-1.55 -1.55zM268.6 92.9l1.55 1.55l-1.55 1.55l-1.55 -1.55zM217.5 78.5l1.55 1.55l-1.55 1.55l-1.55 -1.55zM250.3 79.6l1.55 1.55l-1.55 1.55l-1.55 -1.55zM228.9 85.2l1.55 1.55l-1.55 1.55l-1.55 -1.55zM224.6 82.2l1.55 1.55l-1.55 1.55l-1.55 -1.55zM238.4 83.9l1.55 1.55l-1.55 1.55l-1.55 -1.55zM265.7 93.1l1.55 1.55l-1.55 1.55l-1.55 -1.55zM217.8 80.4l1.55 1.55l-1.55 1.55l-1.55 -1.55zM238.0 76.2l1.55 1.55l-1.55 1.55l-1.55 -1.55zM237.3 76.1l1.55 1.55l-1.55 1.55l-1.55 -1.55zM266.0 86.7l1.55 1.55l-1.55 1.55l-1.55 -1.55zM233.2 77.4l1.55 1.55l-1.55 1.55l-1.55 -1.55zM254.5 80.0l1.55 1.55l-1.55 1.55l-1.55 -1.55zM260.4 81.1l1.55 1.55l-1.55 1.55l-1.55 -1.55zM239.0 75.5l1.55 1.55l-1.55 1.55l-1.55 -1.55zM253.4 78.0l1.55 1.55l-1.55 1.55l-1.55 -1.55zM264.2 90.9l1.55 1.55l-1.55 1.55l-1.55 -1.55zM244.7 80.3l1.55 1.55l-1.55 1.55l-1.55 -1.55zM218.6 78.9l1.55 1.55l-1.55 1.55l-1.55 -1.55zM235.2 82.0l1.55 1.55l-1.55 1.55l-1.55 -1.55zM238.5 79.5l1.55 1.55l-1.55 1.55l-1.55 -1.55zM258.8 78.9l1.55 1.55l-1.55 1.55l-1.55 -1.55zM223.3 83.7l1.55 1.55l-1.55 1.55l-1.55 -1.55zM236.5 79.0l1.55 1.55l-1.55 1.55l-1.55 -1.55zM217.6 80.5l1.55 1.55l-1.55 1.55l-1.55 -1.55zM211.0 92.0l1.55 1.55l-1.55 1.55l-1.55 -1.55zM216.1 82.7l1.55 1.55l-1.55 1.55l-1.55 -1.55zM256.0 80.1l1.55 1.55l-1.55 1.55l-1.55 -1.55zM262.7 84.6l1.55 1.55l-1.55 1.55l-1.55 -1.55zM216.4 84.2l1.55 1.55l-1.55 1.55l-1.55 -1.55zM261.8 89.0l1.55 1.55l-1.55 1.55l-1.55 -1.55zM259.8 83.0l1.55 1.55l-1.55 1.55l-1.55 -1.55zM251.7 83.2l1.55 1.55l-1.55 1.55l-1.55 -1.55zM226.2 77.1l1.55 1.55l-1.55 1.55l-1.55 -1.55zM243.7 84.6l1.55 1.55l-1.55 1.55l-1.55 -1.55zM255.9 82.7l1.55 1.55l-1.55 1.55l-1.55 -1.55zM212.4 96.0l1.55 1.55l-1.55 1.55l-1.55 -1.55zM238.8 80.3l1.55 1.55l-1.55 1.55l-1.55 -1.55zM214.1 92.2l1.55 1.55l-1.55 1.55l-1.55 -1.55zM231.0 81.0l1.55 1.55l-1.55 1.55l-1.55 -1.55zM260.2 88.1l1.55 1.55l-1.55 1.55l-1.55 -1.55zM211.3 90.4l1.55 1.55l-1.55 1.55l-1.55 -1.55zM246.0 73.4l1.55 1.55l-1.55 1.55l-1.55 -1.55zM213.6 88.2l1.55 1.55l-1.55 1.55l-1.55 -1.55zM270.3 99.0l1.55 1.55l-1.55 1.55l-1.55 -1.55zM238.1 78.7l1.55 1.55l-1.55 1.55l-1.55 -1.55zM247.5 82.4l1.55 1.55l-1.55 1.55l-1.55 -1.55zM237.8 75.5l1.55 1.55l-1.55 1.55l-1.55 -1.55zM221.6 86.5l1.55 1.55l-1.55 1.55l-1.55 -1.55zM239.2 74.0l1.55 1.55l-1.55 1.55l-1.55 -1.55z" fill="none" stroke="#cc1488" stroke-width="1.0"/>
<g fill="#22b34a"><circle cx="255.1" cy="72.7" r="2.4"/><circle cx="258.2" cy="75.7" r="2.4"/><circle cx="248.8" cy="72.8" r="2.4"/><circle cx="249.9" cy="83.8" r="2.4"/><circle cx="235.5" cy="76.4" r="2.4"/><circle cx="257.4" cy="77.8" r="2.4"/><circle cx="214.6" cy="100.3" r="2.4"/><circle cx="214.2" cy="98.9" r="2.4"/><circle cx="251.3" cy="74.4" r="2.4"/><circle cx="250.7" cy="67.5" r="2.4"/><circle cx="232.1" cy="77.3" r="2.4"/></g>
<g fill="#22b34a"><circle cx="366.5" cy="90.7" r="2.4"/><circle cx="346.7" cy="77.6" r="2.4"/><circle cx="363.6" cy="79.2" r="2.4"/><circle cx="363.9" cy="76.5" r="2.4"/><circle cx="386.6" cy="98.6" r="2.4"/><circle cx="361.2" cy="77.9" r="2.4"/><circle cx="364.8" cy="79.2" r="2.4"/><circle cx="335.7" cy="93.3" r="2.4"/><circle cx="370.4" cy="79.8" r="2.4"/><circle cx="368.7" cy="83.5" r="2.4"/><circle cx="337.3" cy="82.7" r="2.4"/><circle cx="375.1" cy="87.1" r="2.4"/><circle cx="346.5" cy="81.8" r="2.4"/><circle cx="353.9" cy="77.9" r="2.4"/><circle cx="355.1" cy="81.5" r="2.4"/><circle cx="337.8" cy="87.2" r="2.4"/><circle cx="354.7" cy="89.4" r="2.4"/><circle cx="362.3" cy="84.3" r="2.4"/><circle cx="359.1" cy="83.1" r="2.4"/><circle cx="371.6" cy="87.6" r="2.4"/><circle cx="357.6" cy="82.4" r="2.4"/><circle cx="366.4" cy="80.7" r="2.4"/><circle cx="337.2" cy="80.8" r="2.4"/><circle cx="367.6" cy="80.0" r="2.4"/><circle cx="367.0" cy="77.1" r="2.4"/><circle cx="387.7" cy="94.9" r="2.4"/><circle cx="345.1" cy="88.1" r="2.4"/><circle cx="362.7" cy="86.8" r="2.4"/><circle cx="368.0" cy="75.7" r="2.4"/><circle cx="378.8" cy="91.5" r="2.4"/><circle cx="350.0" cy="84.5" r="2.4"/><circle cx="350.7" cy="75.1" r="2.4"/><circle cx="370.5" cy="87.1" r="2.4"/><circle cx="336.1" cy="89.1" r="2.4"/><circle cx="341.1" cy="87.6" r="2.4"/><circle cx="338.5" cy="80.7" r="2.4"/><circle cx="354.1" cy="88.2" r="2.4"/><circle cx="363.7" cy="103.7" r="2.4"/><circle cx="371.4" cy="85.5" r="2.4"/><circle cx="350.4" cy="75.9" r="2.4"/><circle cx="332.1" cy="96.0" r="2.4"/><circle cx="361.9" cy="86.7" r="2.4"/><circle cx="332.2" cy="110.7" r="2.4"/><circle cx="359.2" cy="89.8" r="2.4"/><circle cx="351.1" cy="85.3" r="2.4"/><circle cx="390.7" cy="97.0" r="2.4"/><circle cx="352.5" cy="87.9" r="2.4"/><circle cx="346.4" cy="77.9" r="2.4"/><circle cx="367.3" cy="81.5" r="2.4"/><circle cx="337.3" cy="85.2" r="2.4"/><circle cx="343.8" cy="79.8" r="2.4"/><circle cx="360.1" cy="83.7" r="2.4"/><circle cx="355.1" cy="81.9" r="2.4"/><circle cx="339.2" cy="80.5" r="2.4"/><circle cx="336.3" cy="83.9" r="2.4"/><circle cx="360.1" cy="77.7" r="2.4"/><circle cx="356.2" cy="88.8" r="2.4"/><circle cx="336.8" cy="88.7" r="2.4"/><circle cx="385.3" cy="98.0" r="2.4"/><circle cx="341.4" cy="83.0" r="2.4"/><circle cx="335.8" cy="83.6" r="2.4"/><circle cx="349.8" cy="78.5" r="2.4"/><circle cx="379.1" cy="90.7" r="2.4"/><circle cx="357.8" cy="83.5" r="2.4"/><circle cx="354.9" cy="80.7" r="2.4"/><circle cx="334.1" cy="94.5" r="2.4"/><circle cx="346.4" cy="78.7" r="2.4"/><circle cx="378.2" cy="90.4" r="2.4"/><circle cx="366.5" cy="87.0" r="2.4"/><circle cx="343.3" cy="79.4" r="2.4"/><circle cx="355.3" cy="65.7" r="2.4"/><circle cx="355.1" cy="82.5" r="2.4"/><circle cx="345.5" cy="82.2" r="2.4"/><circle cx="360.4" cy="77.3" r="2.4"/><circle cx="369.0" cy="82.5" r="2.4"/><circle cx="353.6" cy="82.4" r="2.4"/><circle cx="337.1" cy="83.5" r="2.4"/><circle cx="367.4" cy="83.0" r="2.4"/><circle cx="358.6" cy="90.8" r="2.4"/><circle cx="356.8" cy="81.0" r="2.4"/><circle cx="340.2" cy="81.7" r="2.4"/><circle cx="332.7" cy="86.2" r="2.4"/><circle cx="368.4" cy="72.1" r="2.4"/><circle cx="332.1" cy="89.8" r="2.4"/><circle cx="371.6" cy="87.4" r="2.4"/><circle cx="364.9" cy="101.9" r="2.4"/><circle cx="336.1" cy="87.6" r="2.4"/><circle cx="330.1" cy="91.9" r="2.4"/><circle cx="347.5" cy="79.4" r="2.4"/><circle cx="344.1" cy="87.7" r="2.4"/><circle cx="373.3" cy="81.6" r="2.4"/><circle cx="348.9" cy="77.3" r="2.4"/><circle cx="350.3" cy="85.7" r="2.4"/><circle cx="368.5" cy="85.3" r="2.4"/><circle cx="348.3" cy="64.3" r="2.4"/><circle cx="376.0" cy="88.0" r="2.4"/><circle cx="392.0" cy="100.9" r="2.4"/><circle cx="338.1" cy="81.2" r="2.4"/><circle cx="391.9" cy="99.1" r="2.4"/><circle cx="363.0" cy="87.4" r="2.4"/><circle cx="352.7" cy="79.2" r="2.4"/><circle cx="333.3" cy="94.7" r="2.4"/><circle cx="343.9" cy="80.5" r="2.4"/><circle cx="339.5" cy="104.5" r="2.4"/><circle cx="350.9" cy="78.2" r="2.4"/><circle cx="338.3" cy="91.0" r="2.4"/><circle cx="339.1" cy="82.9" r="2.4"/><circle cx="339.5" cy="89.3" r="2.4"/><circle cx="392.0" cy="99.9" r="2.4"/><circle cx="372.8" cy="82.1" r="2.4"/><circle cx="392.0" cy="111.5" r="2.4"/><circle cx="374.1" cy="83.1" r="2.4"/><circle cx="337.4" cy="83.4" r="2.4"/><circle cx="357.7" cy="81.2" r="2.4"/><circle cx="382.7" cy="95.1" r="2.4"/><circle cx="364.9" cy="80.1" r="2.4"/><circle cx="346.6" cy="85.6" r="2.4"/><circle cx="334.7" cy="92.1" r="2.4"/><circle cx="363.3" cy="80.6" r="2.4"/><circle cx="366.8" cy="89.8" r="2.4"/><circle cx="355.2" cy="82.7" r="2.4"/><circle cx="369.6" cy="78.8" r="2.4"/><circle cx="381.6" cy="92.8" r="2.4"/><circle cx="334.5" cy="90.9" r="2.4"/><circle cx="340.4" cy="86.8" r="2.4"/><circle cx="345.6" cy="70.4" r="2.4"/></g>
<path d="M344.1 78.6l1.55 1.55l-1.55 1.55l-1.55 -1.55zM373.6 83.9l1.55 1.55l-1.55 1.55l-1.55 -1.55zM359.0 84.1l1.55 1.55l-1.55 1.55l-1.55 -1.55zM347.1 80.7l1.55 1.55l-1.55 1.55l-1.55 -1.55zM362.2 84.4l1.55 1.55l-1.55 1.55l-1.55 -1.55zM381.2 92.7l1.55 1.55l-1.55 1.55l-1.55 -1.55zM344.9 81.6l1.55 1.55l-1.55 1.55l-1.55 -1.55zM345.5 84.3l1.55 1.55l-1.55 1.55l-1.55 -1.55zM342.6 87.5l1.55 1.55l-1.55 1.55l-1.55 -1.55zM344.9 87.1l1.55 1.55l-1.55 1.55l-1.55 -1.55zM329.7 96.7l1.55 1.55l-1.55 1.55l-1.55 -1.55zM337.0 93.1l1.55 1.55l-1.55 1.55l-1.55 -1.55zM338.3 80.1l1.55 1.55l-1.55 1.55l-1.55 -1.55zM390.4 105.9l1.55 1.55l-1.55 1.55l-1.55 -1.55zM340.8 80.4l1.55 1.55l-1.55 1.55l-1.55 -1.55zM372.6 81.3l1.55 1.55l-1.55 1.55l-1.55 -1.55zM332.5 94.6l1.55 1.55l-1.55 1.55l-1.55 -1.55zM387.9 104.1l1.55 1.55l-1.55 1.55l-1.55 -1.55zM349.7 83.4l1.55 1.55l-1.55 1.55l-1.55 -1.55zM340.5 86.6l1.55 1.55l-1.55 1.55l-1.55 -1.55zM367.6 78.8l1.55 1.55l-1.55 1.55l-1.55 -1.55zM379.0 90.9l1.55 1.55l-1.55 1.55l-1.55 -1.55zM355.4 77.5l1.55 1.55l-1.55 1.55l-1.55 -1.55zM373.7 87.4l1.55 1.55l-1.55 1.55l-1.55 -1.55zM330.5 96.4l1.55 1.55l-1.55 1.55l-1.55 -1.55zM346.6 85.3l1.55 1.55l-1.55 1.55l-1.55 -1.55zM362.3 69.7l1.55 1.55l-1.55 1.55l-1.55 -1.55zM368.2 82.2l1.55 1.55l-1.55 1.55l-1.55 -1.55zM371.0 82.1l1.55 1.55l-1.55 1.55l-1.55 -1.55zM339.4 89.9l1.55 1.55l-1.55 1.55l-1.55 -1.55zM383.6 95.0l1.55 1.55l-1.55 1.55l-1.55 -1.55zM371.4 86.5l1.55 1.55l-1.55 1.55l-1.55 -1.55zM364.5 86.0l1.55 1.55l-1.55 1.55l-1.55 -1.55zM370.1 81.6l1.55 1.55l-1.55 1.55l-1.55 -1.55zM362.9 83.9l1.55 1.55l-1.55 1.55l-1.55 -1.55zM364.5 82.4l1.55 1.55l-1.55 1.55l-1.55 -1.55zM339.2 80.6l1.55 1.55l-1.55 1.55l-1.55 -1.55zM329.3 94.2l1.55 1.55l-1.55 1.55l-1.55 -1.55zM361.0 85.0l1.55 1.55l-1.55 1.55l-1.55 -1.55zM364.3 80.9l1.55 1.55l-1.55 1.55l-1.55 -1.55zM380.1 87.3l1.55 1.55l-1.55 1.55l-1.55 -1.55zM357.4 86.1l1.55 1.55l-1.55 1.55l-1.55 -1.55zM364.8 83.7l1.55 1.55l-1.55 1.55l-1.55 -1.55zM356.7 78.7l1.55 1.55l-1.55 1.55l-1.55 -1.55zM353.6 88.0l1.55 1.55l-1.55 1.55l-1.55 -1.55zM339.5 81.2l1.55 1.55l-1.55 1.55l-1.55 -1.55zM384.2 92.9l1.55 1.55l-1.55 1.55l-1.55 -1.55zM334.5 90.4l1.55 1.55l-1.55 1.55l-1.55 -1.55zM370.7 82.0l1.55 1.55l-1.55 1.55l-1.55 -1.55zM337.0 87.9l1.55 1.55l-1.55 1.55l-1.55 -1.55zM389.9 98.7l1.55 1.55l-1.55 1.55l-1.55 -1.55zM362.3 79.9l1.55 1.55l-1.55 1.55l-1.55 -1.55zM329.7 92.9l1.55 1.55l-1.55 1.55l-1.55 -1.55zM379.3 91.2l1.55 1.55l-1.55 1.55l-1.55 -1.55zM358.0 82.9l1.55 1.55l-1.55 1.55l-1.55 -1.55zM331.5 92.2l1.55 1.55l-1.55 1.55l-1.55 -1.55zM329.3 98.2l1.55 1.55l-1.55 1.55l-1.55 -1.55zM343.3 79.1l1.55 1.55l-1.55 1.55l-1.55 -1.55zM346.2 82.2l1.55 1.55l-1.55 1.55l-1.55 -1.55zM361.7 84.8l1.55 1.55l-1.55 1.55l-1.55 -1.55zM384.2 91.8l1.55 1.55l-1.55 1.55l-1.55 -1.55zM339.0 82.8l1.55 1.55l-1.55 1.55l-1.55 -1.55zM347.3 83.5l1.55 1.55l-1.55 1.55l-1.55 -1.55zM373.5 89.3l1.55 1.55l-1.55 1.55l-1.55 -1.55zM342.0 84.6l1.55 1.55l-1.55 1.55l-1.55 -1.55zM352.6 82.2l1.55 1.55l-1.55 1.55l-1.55 -1.55zM363.0 81.8l1.55 1.55l-1.55 1.55l-1.55 -1.55zM365.8 79.9l1.55 1.55l-1.55 1.55l-1.55 -1.55zM372.1 83.8l1.55 1.55l-1.55 1.55l-1.55 -1.55zM343.6 85.0l1.55 1.55l-1.55 1.55l-1.55 -1.55zM340.5 84.8l1.55 1.55l-1.55 1.55l-1.55 -1.55zM375.1 87.0l1.55 1.55l-1.55 1.55l-1.55 -1.55zM379.9 87.5l1.55 1.55l-1.55 1.55l-1.55 -1.55zM389.1 101.2l1.55 1.55l-1.55 1.55l-1.55 -1.55zM340.0 88.8l1.55 1.55l-1.55 1.55l-1.55 -1.55zM336.8 90.5l1.55 1.55l-1.55 1.55l-1.55 -1.55zM366.6 87.6l1.55 1.55l-1.55 1.55l-1.55 -1.55zM344.1 83.6l1.55 1.55l-1.55 1.55l-1.55 -1.55zM347.2 84.5l1.55 1.55l-1.55 1.55l-1.55 -1.55zM364.9 78.7l1.55 1.55l-1.55 1.55l-1.55 -1.55zM380.6 89.0l1.55 1.55l-1.55 1.55l-1.55 -1.55zM339.8 84.1l1.55 1.55l-1.55 1.55l-1.55 -1.55zM387.2 98.8l1.55 1.55l-1.55 1.55l-1.55 -1.55zM378.7 88.3l1.55 1.55l-1.55 1.55l-1.55 -1.55zM344.9 78.4l1.55 1.55l-1.55 1.55l-1.55 -1.55zM355.0 85.4l1.55 1.55l-1.55 1.55l-1.55 -1.55zM357.1 85.6l1.55 1.55l-1.55 1.55l-1.55 -1.55zM363.1 82.9l1.55 1.55l-1.55 1.55l-1.55 -1.55zM389.6 99.4l1.55 1.55l-1.55 1.55l-1.55 -1.55zM342.1 82.1l1.55 1.55l-1.55 1.55l-1.55 -1.55zM342.8 88.4l1.55 1.55l-1.55 1.55l-1.55 -1.55zM386.7 95.3l1.55 1.55l-1.55 1.55l-1.55 -1.55zM354.1 76.6l1.55 1.55l-1.55 1.55l-1.55 -1.55zM335.1 88.4l1.55 1.55l-1.55 1.55l-1.55 -1.55zM381.5 88.4l1.55 1.55l-1.55 1.55l-1.55 -1.55zM374.3 84.4l1.55 1.55l-1.55 1.55l-1.55 -1.55zM346.4 86.9l1.55 1.55l-1.55 1.55l-1.55 -1.55zM340.9 89.2l1.55 1.55l-1.55 1.55l-1.55 -1.55zM351.8 84.3l1.55 1.55l-1.55 1.55l-1.55 -1.55zM364.3 78.9l1.55 1.55l-1.55 1.55l-1.55 -1.55zM340.6 80.2l1.55 1.55l-1.55 1.55l-1.55 -1.55zM339.9 88.6l1.55 1.55l-1.55 1.55l-1.55 -1.55zM351.7 87.5l1.55 1.55l-1.55 1.55l-1.55 -1.55zM346.2 80.7l1.55 1.55l-1.55 1.55l-1.55 -1.55zM379.0 90.6l1.55 1.55l-1.55 1.55l-1.55 -1.55zM356.5 80.3l1.55 1.55l-1.55 1.55l-1.55 -1.55zM343.7 83.8l1.55 1.55l-1.55 1.55l-1.55 -1.55zM362.7 79.7l1.55 1.55l-1.55 1.55l-1.55 -1.55zM353.7 84.5l1.55 1.55l-1.55 1.55l-1.55 -1.55zM340.3 89.9l1.55 1.55l-1.55 1.55l-1.55 -1.55zM337.9 91.1l1.55 1.55l-1.55 1.55l-1.55 -1.55zM345.3 77.7l1.55 1.55l-1.55 1.55l-1.55 -1.55zM336.2 89.5l1.55 1.55l-1.55 1.55l-1.55 -1.55zM382.7 88.8l1.55 1.55l-1.55 1.55l-1.55 -1.55zM366.9 83.4l1.55 1.55l-1.55 1.55l-1.55 -1.55zM384.1 95.1l1.55 1.55l-1.55 1.55l-1.55 -1.55zM356.8 81.6l1.55 1.55l-1.55 1.55l-1.55 -1.55zM366.7 67.1l1.55 1.55l-1.55 1.55l-1.55 -1.55zM335.1 85.2l1.55 1.55l-1.55 1.55l-1.55 -1.55zM360.6 82.7l1.55 1.55l-1.55 1.55l-1.55 -1.55zM378.4 89.3l1.55 1.55l-1.55 1.55l-1.55 -1.55zM371.4 83.6l1.55 1.55l-1.55 1.55l-1.55 -1.55zM361.6 80.0l1.55 1.55l-1.55 1.55l-1.55 -1.55zM386.6 93.5l1.55 1.55l-1.55 1.55l-1.55 -1.55zM387.0 100.7l1.55 1.55l-1.55 1.55l-1.55 -1.55zM376.9 85.0l1.55 1.55l-1.55 1.55l-1.55 -1.55zM378.0 87.1l1.55 1.55l-1.55 1.55l-1.55 -1.55zM387.7 96.2l1.55 1.55l-1.55 1.55l-1.55 -1.55zM390.8 101.4l1.55 1.55l-1.55 1.55l-1.55 -1.55zM355.1 87.3l1.55 1.55l-1.55 1.55l-1.55 -1.55zM387.5 97.4l1.55 1.55l-1.55 1.55l-1.55 -1.55zM381.0 93.5l1.55 1.55l-1.55 1.55l-1.55 -1.55zM334.7 92.1l1.55 1.55l-1.55 1.55l-1.55 -1.55zM368.2 78.9l1.55 1.55l-1.55 1.55l-1.55 -1.55zM388.9 98.1l1.55 1.55l-1.55 1.55l-1.55 -1.55zM345.6 82.5l1.55 1.55l-1.55 1.55l-1.55 -1.55zM357.2 86.7l1.55 1.55l-1.55 1.55l-1.55 -1.55zM363.9 84.2l1.55 1.55l-1.55 1.55l-1.55 -1.55zM368.7 82.2l1.55 1.55l-1.55 1.55l-1.55 -1.55zM387.1 103.8l1.55 1.55l-1.55 1.55l-1.55 -1.55zM369.9 84.0l1.55 1.55l-1.55 1.55l-1.55 -1.55zM342.8 84.6l1.55 1.55l-1.55 1.55l-1.55 -1.55zM330.8 90.3l1.55 1.55l-1.55 1.55l-1.55 -1.55zM367.4 84.5l1.55 1.55l-1.55 1.55l-1.55 -1.55zM362.9 77.9l1.55 1.55l-1.55 1.55l-1.55 -1.55zM372.5 88.5l1.55 1.55l-1.55 1.55l-1.55 -1.55zM362.3 85.4l1.55 1.55l-1.55 1.55l-1.55 -1.55zM384.6 89.8l1.55 1.55l-1.55 1.55l-1.55 -1.55zM376.4 89.9l1.55 1.55l-1.55 1.55l-1.55 -1.55zM390.6 108.6l1.55 1.55l-1.55 1.55l-1.55 -1.55zM345.5 80.2l1.55 1.55l-1.55 1.55l-1.55 -1.55zM350.4 83.7l1.55 1.55l-1.55 1.55l-1.55 -1.55zM335.8 84.2l1.55 1.55l-1.55 1.55l-1.55 -1.55zM377.7 91.9l1.55 1.55l-1.55 1.55l-1.55 -1.55zM387.2 103.8l1.55 1.55l-1.55 1.55l-1.55 -1.55zM390.4 100.3l1.55 1.55l-1.55 1.55l-1.55 -1.55zM353.2 79.2l1.55 1.55l-1.55 1.55l-1.55 -1.55zM363.4 83.5l1.55 1.55l-1.55 1.55l-1.55 -1.55zM363.6 81.3l1.55 1.55l-1.55 1.55l-1.55 -1.55zM335.1 91.4l1.55 1.55l-1.55 1.55l-1.55 -1.55zM360.3 80.0l1.55 1.55l-1.55 1.55l-1.55 -1.55zM383.1 90.2l1.55 1.55l-1.55 1.55l-1.55 -1.55zM362.0 83.4l1.55 1.55l-1.55 1.55l-1.55 -1.55zM340.3 82.2l1.55 1.55l-1.55 1.55l-1.55 -1.55zM386.8 101.5l1.55 1.55l-1.55 1.55l-1.55 -1.55zM377.0 84.4l1.55 1.55l-1.55 1.55l-1.55 -1.55zM337.5 85.9l1.55 1.55l-1.55 1.55l-1.55 -1.55zM333.9 85.8l1.55 1.55l-1.55 1.55l-1.55 -1.55zM342.3 82.2l1.55 1.55l-1.55 1.55l-1.55 -1.55zM360.5 78.0l1.55 1.55l-1.55 1.55l-1.55 -1.55zM341.6 84.3l1.55 1.55l-1.55 1.55l-1.55 -1.55zM375.7 83.6l1.55 1.55l-1.55 1.55l-1.55 -1.55zM357.2 82.6l1.55 1.55l-1.55 1.55l-1.55 -1.55zM347.6 78.4l1.55 1.55l-1.55 1.55l-1.55 -1.55zM375.1 86.4l1.55 1.55l-1.55 1.55l-1.55 -1.55zM344.0 87.2l1.55 1.55l-1.55 1.55l-1.55 -1.55zM357.7 80.0l1.55 1.55l-1.55 1.55l-1.55 -1.55zM337.3 83.1l1.55 1.55l-1.55 1.55l-1.55 -1.55zM370.2 88.0l1.55 1.55l-1.55 1.55l-1.55 -1.55zM386.6 94.7l1.55 1.55l-1.55 1.55l-1.55 -1.55zM332.6 88.5l1.55 1.55l-1.55 1.55l-1.55 -1.55zM344.2 89.7l1.55 1.55l-1.55 1.55l-1.55 -1.55zM330.2 97.5l1.55 1.55l-1.55 1.55l-1.55 -1.55zM350.3 80.1l1.55 1.55l-1.55 1.55l-1.55 -1.55zM367.4 86.8l1.55 1.55l-1.55 1.55l-1.55 -1.55zM384.3 93.6l1.55 1.55l-1.55 1.55l-1.55 -1.55zM374.9 88.9l1.55 1.55l-1.55 1.55l-1.55 -1.55zM389.0 101.3l1.55 1.55l-1.55 1.55l-1.55 -1.55zM348.4 85.0l1.55 1.55l-1.55 1.55l-1.55 -1.55zM334.2 92.1l1.55 1.55l-1.55 1.55l-1.55 -1.55zM358.8 84.0l1.55 1.55l-1.55 1.55l-1.55 -1.55zM355.7 79.1l1.55 1.55l-1.55 1.55l-1.55 -1.55zM331.1 92.7l1.55 1.55l-1.55 1.55l-1.55 -1.55zM368.9 81.0l1.55 1.55l-1.55 1.55l-1.55 -1.55zM385.0 91.4l1.55 1.55l-1.55 1.55l-1.55 -1.55zM359.2 84.1l1.55 1.55l-1.55 1.55l-1.55 -1.55zM351.5 81.4l1.55 1.55l-1.55 1.55l-1.55 -1.55zM333.1 89.9l1.55 1.55l-1.55 1.55l-1.55 -1.55zM352.9 83.2l1.55 1.55l-1.55 1.55l-1.55 -1.55zM339.4 85.5l1.55 1.55l-1.55 1.55l-1.55 -1.55zM364.8 80.9l1.55 1.55l-1.55 1.55l-1.55 -1.55zM377.9 88.9l1.55 1.55l-1.55 1.55l-1.55 -1.55zM365.9 84.3l1.55 1.55l-1.55 1.55l-1.55 -1.55zM342.8 81.9l1.55 1.55l-1.55 1.55l-1.55 -1.55zM377.5 85.0l1.55 1.55l-1.55 1.55l-1.55 -1.55zM367.4 83.8l1.55 1.55l-1.55 1.55l-1.55 -1.55zM357.0 86.5l1.55 1.55l-1.55 1.55l-1.55 -1.55zM337.5 84.7l1.55 1.55l-1.55 1.55l-1.55 -1.55zM356.0 82.0l1.55 1.55l-1.55 1.55l-1.55 -1.55zM351.4 82.0l1.55 1.55l-1.55 1.55l-1.55 -1.55zM337.0 91.1l1.55 1.55l-1.55 1.55l-1.55 -1.55zM332.2 88.5l1.55 1.55l-1.55 1.55l-1.55 -1.55zM380.7 92.1l1.55 1.55l-1.55 1.55l-1.55 -1.55zM371.6 79.4l1.55 1.55l-1.55 1.55l-1.55 -1.55zM375.1 88.1l1.55 1.55l-1.55 1.55l-1.55 -1.55zM348.3 66.2l1.55 1.55l-1.55 1.55l-1.55 -1.55zM358.1 80.5l1.55 1.55l-1.55 1.55l-1.55 -1.55zM363.9 82.8l1.55 1.55l-1.55 1.55l-1.55 -1.55zM338.4 88.5l1.55 1.55l-1.55 1.55l-1.55 -1.55zM347.9 78.9l1.55 1.55l-1.55 1.55l-1.55 -1.55zM340.7 82.0l1.55 1.55l-1.55 1.55l-1.55 -1.55zM339.4 80.3l1.55 1.55l-1.55 1.55l-1.55 -1.55zM380.5 88.2l1.55 1.55l-1.55 1.55l-1.55 -1.55zM329.3 92.7l1.55 1.55l-1.55 1.55l-1.55 -1.55zM361.1 86.0l1.55 1.55l-1.55 1.55l-1.55 -1.55zM334.7 90.7l1.55 1.55l-1.55 1.55l-1.55 -1.55zM355.5 86.2l1.55 1.55l-1.55 1.55l-1.55 -1.55zM369.2 84.7l1.55 1.55l-1.55 1.55l-1.55 -1.55zM359.2 85.4l1.55 1.55l-1.55 1.55l-1.55 -1.55zM362.0 81.3l1.55 1.55l-1.55 1.55l-1.55 -1.55zM358.3 86.9l1.55 1.55l-1.55 1.55l-1.55 -1.55zM360.6 85.5l1.55 1.55l-1.55 1.55l-1.55 -1.55zM363.9 85.3l1.55 1.55l-1.55 1.55l-1.55 -1.55zM364.2 80.1l1.55 1.55l-1.55 1.55l-1.55 -1.55zM367.5 83.5l1.55 1.55l-1.55 1.55l-1.55 -1.55zM346.1 86.2l1.55 1.55l-1.55 1.55l-1.55 -1.55zM330.9 94.9l1.55 1.55l-1.55 1.55l-1.55 -1.55zM388.2 101.5l1.55 1.55l-1.55 1.55l-1.55 -1.55zM358.8 73.2l1.55 1.55l-1.55 1.55l-1.55 -1.55zM369.4 82.3l1.55 1.55l-1.55 1.55l-1.55 -1.55zM345.0 83.9l1.55 1.55l-1.55 1.55l-1.55 -1.55zM337.7 83.6l1.55 1.55l-1.55 1.55l-1.55 -1.55zM387.8 100.6l1.55 1.55l-1.55 1.55l-1.55 -1.55zM379.8 90.1l1.55 1.55l-1.55 1.55l-1.55 -1.55zM354.0 79.3l1.55 1.55l-1.55 1.55l-1.55 -1.55zM363.7 77.9l1.55 1.55l-1.55 1.55l-1.55 -1.55zM346.9 87.2l1.55 1.55l-1.55 1.55l-1.55 -1.55zM333.0 88.4l1.55 1.55l-1.55 1.55l-1.55 -1.55zM383.4 93.4l1.55 1.55l-1.55 1.55l-1.55 -1.55zM367.9 82.3l1.55 1.55l-1.55 1.55l-1.55 -1.55zM381.7 89.2l1.55 1.55l-1.55 1.55l-1.55 -1.55zM379.0 88.2l1.55 1.55l-1.55 1.55l-1.55 -1.55zM332.3 87.6l1.55 1.55l-1.55 1.55l-1.55 -1.55zM335.2 83.7l1.55 1.55l-1.55 1.55l-1.55 -1.55zM376.9 87.9l1.55 1.55l-1.55 1.55l-1.55 -1.55zM346.6 79.9l1.55 1.55l-1.55 1.55l-1.55 -1.55zM335.5 84.4l1.55 1.55l-1.55 1.55l-1.55 -1.55zM372.9 87.7l1.55 1.55l-1.55 1.55l-1.55 -1.55zM341.5 82.4l1.55 1.55l-1.55 1.55l-1.55 -1.55zM333.9 92.1l1.55 1.55l-1.55 1.55l-1.55 -1.55zM355.3 82.8l1.55 1.55l-1.55 1.55l-1.55 -1.55zM385.4 98.6l1.55 1.55l-1.55 1.55l-1.55 -1.55zM355.4 81.4l1.55 1.55l-1.55 1.55l-1.55 -1.55zM344.8 82.3l1.55 1.55l-1.55 1.55l-1.55 -1.55zM334.9 88.9l1.55 1.55l-1.55 1.55l-1.55 -1.55zM364.0 79.2l1.55 1.55l-1.55 1.55l-1.55 -1.55zM339.9 85.9l1.55 1.55l-1.55 1.55l-1.55 -1.55zM357.0 79.4l1.55 1.55l-1.55 1.55l-1.55 -1.55zM359.7 100.4l1.55 1.55l-1.55 1.55l-1.55 -1.55zM385.4 99.4l1.55 1.55l-1.55 1.55l-1.55 -1.55zM357.6 87.8l1.55 1.55l-1.55 1.55l-1.55 -1.55zM363.9 85.7l1.55 1.55l-1.55 1.55l-1.55 -1.55zM389.0 98.8l1.55 1.55l-1.55 1.55l-1.55 -1.55zM386.0 93.9l1.55 1.55l-1.55 1.55l-1.55 -1.55zM376.7 82.2l1.55 1.55l-1.55 1.55l-1.55 -1.55zM346.9 83.3l1.55 1.55l-1.55 1.55l-1.55 -1.55zM346.1 86.4l1.55 1.55l-1.55 1.55l-1.55 -1.55zM373.9 84.6l1.55 1.55l-1.55 1.55l-1.55 -1.55zM339.9 83.6l1.55 1.55l-1.55 1.55l-1.55 -1.55zM382.2 91.1l1.55 1.55l-1.55 1.55l-1.55 -1.55zM376.2 83.7l1.55 1.55l-1.55 1.55l-1.55 -1.55zM387.7 99.8l1.55 1.55l-1.55 1.55l-1.55 -1.55zM333.7 93.2l1.55 1.55l-1.55 1.55l-1.55 -1.55zM335.6 83.2l1.55 1.55l-1.55 1.55l-1.55 -1.55zM378.8 86.0l1.55 1.55l-1.55 1.55l-1.55 -1.55zM369.5 83.9l1.55 1.55l-1.55 1.55l-1.55 -1.55zM390.8 97.9l1.55 1.55l-1.55 1.55l-1.55 -1.55zM352.5 78.0l1.55 1.55l-1.55 1.55l-1.55 -1.55zM346.2 82.4l1.55 1.55l-1.55 1.55l-1.55 -1.55zM340.3 84.9l1.55 1.55l-1.55 1.55l-1.55 -1.55zM347.7 83.9l1.55 1.55l-1.55 1.55l-1.55 -1.55zM383.1 93.2l1.55 1.55l-1.55 1.55l-1.55 -1.55zM387.6 96.5l1.55 1.55l-1.55 1.55l-1.55 -1.55zM331.2 90.0l1.55 1.55l-1.55 1.55l-1.55 -1.55zM391.1 102.3l1.55 1.55l-1.55 1.55l-1.55 -1.55zM360.6 80.4l1.55 1.55l-1.55 1.55l-1.55 -1.55zM336.6 90.6l1.55 1.55l-1.55 1.55l-1.55 -1.55zM384.8 92.1l1.55 1.55l-1.55 1.55l-1.55 -1.55zM363.5 80.0l1.55 1.55l-1.55 1.55l-1.55 -1.55zM344.3 86.3l1.55 1.55l-1.55 1.55l-1.55 -1.55z" fill="none" stroke="#cc1488" stroke-width="1.0"/>
<g fill="#22b34a"><circle cx="351.3" cy="76.1" r="2.4"/><circle cx="390.4" cy="96.8" r="2.4"/><circle cx="337.1" cy="84.4" r="2.4"/><circle cx="346.5" cy="88.6" r="2.4"/><circle cx="366.4" cy="81.9" r="2.4"/><circle cx="360.6" cy="76.4" r="2.4"/><circle cx="346.8" cy="84.9" r="2.4"/><circle cx="334.2" cy="82.2" r="2.4"/><circle cx="367.5" cy="90.7" r="2.4"/></g>
<g fill="#22b34a"><circle cx="487.0" cy="83.0" r="2.4"/><circle cx="493.6" cy="84.8" r="2.4"/><circle cx="472.6" cy="86.3" r="2.4"/><circle cx="489.7" cy="75.0" r="2.4"/><circle cx="474.3" cy="68.8" r="2.4"/><circle cx="457.3" cy="84.6" r="2.4"/><circle cx="487.9" cy="82.4" r="2.4"/><circle cx="509.1" cy="98.3" r="2.4"/><circle cx="492.9" cy="88.5" r="2.4"/><circle cx="452.5" cy="86.9" r="2.4"/><circle cx="492.1" cy="83.6" r="2.4"/><circle cx="459.4" cy="86.3" r="2.4"/><circle cx="454.7" cy="80.0" r="2.4"/><circle cx="466.7" cy="77.3" r="2.4"/><circle cx="472.2" cy="67.1" r="2.4"/><circle cx="453.1" cy="92.5" r="2.4"/><circle cx="475.1" cy="77.0" r="2.4"/><circle cx="487.0" cy="85.9" r="2.4"/><circle cx="490.0" cy="77.4" r="2.4"/><circle cx="456.5" cy="83.2" r="2.4"/><circle cx="483.3" cy="77.9" r="2.4"/><circle cx="477.0" cy="77.9" r="2.4"/><circle cx="487.6" cy="80.9" r="2.4"/><circle cx="472.6" cy="82.1" r="2.4"/><circle cx="467.6" cy="79.7" r="2.4"/><circle cx="452.1" cy="97.0" r="2.4"/><circle cx="475.4" cy="83.9" r="2.4"/><circle cx="490.2" cy="89.2" r="2.4"/><circle cx="468.6" cy="75.8" r="2.4"/><circle cx="495.1" cy="82.7" r="2.4"/><circle cx="452.7" cy="95.7" r="2.4"/><circle cx="470.6" cy="69.3" r="2.4"/><circle cx="457.9" cy="85.9" r="2.4"/><circle cx="457.8" cy="83.4" r="2.4"/><circle cx="506.7" cy="99.4" r="2.4"/><circle cx="458.4" cy="78.7" r="2.4"/><circle cx="509.8" cy="100.2" r="2.4"/><circle cx="448.8" cy="94.1" r="2.4"/><circle cx="483.1" cy="77.0" r="2.4"/><circle cx="497.6" cy="87.3" r="2.4"/><circle cx="459.3" cy="80.6" r="2.4"/><circle cx="455.6" cy="89.0" r="2.4"/><circle cx="481.2" cy="87.0" r="2.4"/><circle cx="474.7" cy="85.2" r="2.4"/><circle cx="496.0" cy="87.7" r="2.4"/><circle cx="451.2" cy="90.9" r="2.4"/><circle cx="473.0" cy="70.7" r="2.4"/><circle cx="473.3" cy="74.2" r="2.4"/><circle cx="509.5" cy="102.1" r="2.4"/><circle cx="488.4" cy="75.7" r="2.4"/><circle cx="506.4" cy="98.2" r="2.4"/><circle cx="459.3" cy="77.4" r="2.4"/><circle cx="468.9" cy="73.9" r="2.4"/><circle cx="482.9" cy="77.1" r="2.4"/><circle cx="495.1" cy="86.7" r="2.4"/><circle cx="448.1" cy="97.2" r="2.4"/><circle cx="467.4" cy="72.0" r="2.4"/><circle cx="487.4" cy="81.5" r="2.4"/><circle cx="487.2" cy="77.4" r="2.4"/><circle cx="449.7" cy="95.5" r="2.4"/><circle cx="468.7" cy="70.9" r="2.4"/><circle cx="451.0" cy="96.9" r="2.4"/><circle cx="456.5" cy="83.7" r="2.4"/><circle cx="466.0" cy="83.2" r="2.4"/><circle cx="506.9" cy="102.7" r="2.4"/><circle cx="451.9" cy="97.1" r="2.4"/><circle cx="456.9" cy="76.8" r="2.4"/><circle cx="452.1" cy="88.7" r="2.4"/><circle cx="480.3" cy="86.8" r="2.4"/><circle cx="471.6" cy="71.8" r="2.4"/><circle cx="473.2" cy="68.8" r="2.4"/><circle cx="452.8" cy="87.8" r="2.4"/><circle cx="463.4" cy="77.9" r="2.4"/><circle cx="480.5" cy="74.6" r="2.4"/><circle cx="460.5" cy="72.3" r="2.4"/><circle cx="450.2" cy="94.9" r="2.4"/><circle cx="465.8" cy="73.0" r="2.4"/><circle cx="509.4" cy="98.6" r="2.4"/><circle cx="471.6" cy="81.1" r="2.4"/><circle cx="476.5" cy="79.4" r="2.4"/><circle cx="455.1" cy="88.3" r="2.4"/><circle cx="478.2" cy="86.4" r="2.4"/><circle cx="494.9" cy="91.2" r="2.4"/><circle cx="506.7" cy="99.4" r="2.4"/><circle cx="492.1" cy="89.5" r="2.4"/><circle cx="450.5" cy="91.5" r="2.4"/><circle cx="478.9" cy="84.7" r="2.4"/><circle cx="470.4" cy="66.6" r="2.4"/><circle cx="462.6" cy="66.0" r="2.4"/><circle cx="494.9" cy="81.9" r="2.4"/><circle cx="460.8" cy="73.0" r="2.4"/><circle cx="463.6" cy="74.5" r="2.4"/><circle cx="452.5" cy="88.5" r="2.4"/><circle cx="480.1" cy="79.0" r="2.4"/><circle cx="450.6" cy="101.0" r="2.4"/><circle cx="498.0" cy="86.8" r="2.4"/><circle cx="509.5" cy="106.8" r="2.4"/><circle cx="508.1" cy="104.2" r="2.4"/><circle cx="460.5" cy="74.1" r="2.4"/><circle cx="471.4" cy="62.5" r="2.4"/><circle cx="472.1" cy="64.6" r="2.4"/><circle cx="454.3" cy="93.2" r="2.4"/><circle cx="455.9" cy="85.6" r="2.4"/><circle cx="461.0" cy="74.8" r="2.4"/><circle cx="480.5" cy="78.3" r="2.4"/><circle cx="470.2" cy="63.9" r="2.4"/><circle cx="481.8" cy="78.7" r="2.4"/><circle cx="508.2" cy="98.6" r="2.4"/><circle cx="449.1" cy="99.4" r="2.4"/><circle cx="481.3" cy="74.7" r="2.4"/><circle cx="454.2" cy="88.8" r="2.4"/><circle cx="491.0" cy="79.0" r="2.4"/><circle cx="482.9" cy="80.6" r="2.4"/><circle cx="476.9" cy="78.8" r="2.4"/><circle cx="448.3" cy="102.2" r="2.4"/><circle cx="482.9" cy="79.9" r="2.4"/><circle cx="465.7" cy="77.7" r="2.4"/><circle cx="458.6" cy="79.3" r="2.4"/><circle cx="509.7" cy="100.9" r="2.4"/><circle cx="510.4" cy="99.7" r="2.4"/><circle cx="491.3" cy="83.8" r="2.4"/><circle cx="458.4" cy="84.5" r="2.4"/><circle cx="451.8" cy="88.7" r="2.4"/><circle cx="482.7" cy="83.3" r="2.4"/><circle cx="486.5" cy="75.5" r="2.4"/><circle cx="471.2" cy="86.3" r="2.4"/><circle cx="504.6" cy="94.5" r="2.4"/><circle cx="485.3" cy="74.3" r="2.4"/><circle cx="497.5" cy="89.9" r="2.4"/><circle cx="452.4" cy="88.0" r="2.4"/><circle cx="490.6" cy="88.7" r="2.4"/><circle cx="477.4" cy="83.0" r="2.4"/><circle cx="497.9" cy="89.1" r="2.4"/><circle cx="501.0" cy="95.3" r="2.4"/><circle cx="452.0" cy="88.0" r="2.4"/><circle cx="475.7" cy="75.5" r="2.4"/><circle cx="498.4" cy="89.4" r="2.4"/></g>
<path d="M459.7 83.7l1.55 1.55l-1.55 1.55l-1.55 -1.55zM474.1 77.2l1.55 1.55l-1.55 1.55l-1.55 -1.55zM451.6 93.8l1.55 1.55l-1.55 1.55l-1.55 -1.55zM496.5 87.5l1.55 1.55l-1.55 1.55l-1.55 -1.55zM453.3 83.9l1.55 1.55l-1.55 1.55l-1.55 -1.55zM506.6 102.0l1.55 1.55l-1.55 1.55l-1.55 -1.55zM465.5 77.7l1.55 1.55l-1.55 1.55l-1.55 -1.55zM483.5 81.7l1.55 1.55l-1.55 1.55l-1.55 -1.55zM460.2 87.7l1.55 1.55l-1.55 1.55l-1.55 -1.55zM449.6 101.0l1.55 1.55l-1.55 1.55l-1.55 -1.55zM458.7 77.7l1.55 1.55l-1.55 1.55l-1.55 -1.55zM486.4 79.8l1.55 1.55l-1.55 1.55l-1.55 -1.55zM469.7 86.8l1.55 1.55l-1.55 1.55l-1.55 -1.55zM466.9 78.3l1.55 1.55l-1.55 1.55l-1.55 -1.55zM463.2 77.0l1.55 1.55l-1.55 1.55l-1.55 -1.55zM460.7 82.2l1.55 1.55l-1.55 1.55l-1.55 -1.55zM478.4 79.5l1.55 1.55l-1.55 1.55l-1.55 -1.55zM477.9 81.6l1.55 1.55l-1.55 1.55l-1.55 -1.55zM458.2 84.5l1.55 1.55l-1.55 1.55l-1.55 -1.55zM502.0 93.9l1.55 1.55l-1.55 1.55l-1.55 -1.55zM478.0 75.4l1.55 1.55l-1.55 1.55l-1.55 -1.55zM495.6 84.5l1.55 1.55l-1.55 1.55l-1.55 -1.55zM456.1 78.9l1.55 1.55l-1.55 1.55l-1.55 -1.55zM450.6 99.3l1.55 1.55l-1.55 1.55l-1.55 -1.55zM473.7 76.1l1.55 1.55l-1.55 1.55l-1.55 -1.55zM487.5 83.2l1.55 1.55l-1.55 1.55l-1.55 -1.55zM447.9 104.2l1.55 1.55l-1.55 1.55l-1.55 -1.55zM475.7 84.2l1.55 1.55l-1.55 1.55l-1.55 -1.55zM497.0 91.3l1.55 1.55l-1.55 1.55l-1.55 -1.55zM495.5 89.9l1.55 1.55l-1.55 1.55l-1.55 -1.55zM453.8 82.2l1.55 1.55l-1.55 1.55l-1.55 -1.55zM489.9 84.8l1.55 1.55l-1.55 1.55l-1.55 -1.55zM455.0 85.7l1.55 1.55l-1.55 1.55l-1.55 -1.55zM475.2 77.0l1.55 1.55l-1.55 1.55l-1.55 -1.55zM462.9 75.9l1.55 1.55l-1.55 1.55l-1.55 -1.55zM464.9 83.6l1.55 1.55l-1.55 1.55l-1.55 -1.55zM485.1 81.7l1.55 1.55l-1.55 1.55l-1.55 -1.55zM489.0 79.6l1.55 1.55l-1.55 1.55l-1.55 -1.55zM499.2 95.8l1.55 1.55l-1.55 1.55l-1.55 -1.55zM482.4 83.8l1.55 1.55l-1.55 1.55l-1.55 -1.55zM490.3 79.7l1.55 1.55l-1.55 1.55l-1.55 -1.55zM489.2 81.0l1.55 1.55l-1.55 1.55l-1.55 -1.55zM496.8 89.4l1.55 1.55l-1.55 1.55l-1.55 -1.55zM452.4 87.3l1.55 1.55l-1.55 1.55l-1.55 -1.55zM453.9 68.0l1.55 1.55l-1.55 1.55l-1.55 -1.55zM469.4 83.6l1.55 1.55l-1.55 1.55l-1.55 -1.55zM501.5 94.7l1.55 1.55l-1.55 1.55l-1.55 -1.55zM457.3 81.8l1.55 1.55l-1.55 1.55l-1.55 -1.55zM488.4 82.9l1.55 1.55l-1.55 1.55l-1.55 -1.55zM467.1 83.5l1.55 1.55l-1.55 1.55l-1.55 -1.55zM461.1 82.6l1.55 1.55l-1.55 1.55l-1.55 -1.55zM502.3 98.1l1.55 1.55l-1.55 1.55l-1.55 -1.55zM495.2 82.9l1.55 1.55l-1.55 1.55l-1.55 -1.55zM464.3 78.2l1.55 1.55l-1.55 1.55l-1.55 -1.55zM491.4 84.5l1.55 1.55l-1.55 1.55l-1.55 -1.55zM449.7 94.6l1.55 1.55l-1.55 1.55l-1.55 -1.55zM482.2 82.9l1.55 1.55l-1.55 1.55l-1.55 -1.55zM460.8 84.3l1.55 1.55l-1.55 1.55l-1.55 -1.55zM449.1 99.4l1.55 1.55l-1.55 1.55l-1.55 -1.55zM482.5 80.5l1.55 1.55l-1.55 1.55l-1.55 -1.55zM494.4 90.1l1.55 1.55l-1.55 1.55l-1.55 -1.55zM452.7 86.3l1.55 1.55l-1.55 1.55l-1.55 -1.55zM457.0 81.6l1.55 1.55l-1.55 1.55l-1.55 -1.55zM467.4 82.5l1.55 1.55l-1.55 1.55l-1.55 -1.55zM483.7 83.9l1.55 1.55l-1.55 1.55l-1.55 -1.55zM452.7 83.6l1.55 1.55l-1.55 1.55l-1.55 -1.55zM462.4 75.2l1.55 1.55l-1.55 1.55l-1.55 -1.55zM467.2 84.7l1.55 1.55l-1.55 1.55l-1.55 -1.55zM455.2 85.6l1.55 1.55l-1.55 1.55l-1.55 -1.55zM474.4 76.4l1.55 1.55l-1.55 1.55l-1.55 -1.55zM462.7 82.9l1.55 1.55l-1.55 1.55l-1.55 -1.55zM469.5 83.9l1.55 1.55l-1.55 1.55l-1.55 -1.55zM452.3 85.8l1.55 1.55l-1.55 1.55l-1.55 -1.55zM484.8 84.8l1.55 1.55l-1.55 1.55l-1.55 -1.55zM450.0 93.9l1.55 1.55l-1.55 1.55l-1.55 -1.55zM447.8 101.1l1.55 1.55l-1.55 1.55l-1.55 -1.55zM460.6 86.4l1.55 1.55l-1.55 1.55l-1.55 -1.55zM495.7 86.0l1.55 1.55l-1.55 1.55l-1.55 -1.55zM506.4 105.2l1.55 1.55l-1.55 1.55l-1.55 -1.55zM449.8 99.1l1.55 1.55l-1.55 1.55l-1.55 -1.55zM475.7 75.7l1.55 1.55l-1.55 1.55l-1.55 -1.55zM498.8 90.8l1.55 1.55l-1.55 1.55l-1.55 -1.55zM507.3 96.4l1.55 1.55l-1.55 1.55l-1.55 -1.55zM479.3 67.6l1.55 1.55l-1.55 1.55l-1.55 -1.55zM471.7 75.0l1.55 1.55l-1.55 1.55l-1.55 -1.55zM465.2 78.7l1.55 1.55l-1.55 1.55l-1.55 -1.55zM470.6 79.7l1.55 1.55l-1.55 1.55l-1.55 -1.55zM484.5 80.8l1.55 1.55l-1.55 1.55l-1.55 -1.55zM480.9 84.2l1.55 1.55l-1.55 1.55l-1.55 -1.55zM484.2 85.2l1.55 1.55l-1.55 1.55l-1.55 -1.55zM501.4 91.5l1.55 1.55l-1.55 1.55l-1.55 -1.55zM468.3 85.2l1.55 1.55l-1.55 1.55l-1.55 -1.55zM460.0 79.1l1.55 1.55l-1.55 1.55l-1.55 -1.55zM475.4 77.5l1.55 1.55l-1.55 1.55l-1.55 -1.55zM476.9 85.0l1.55 1.55l-1.55 1.55l-1.55 -1.55zM461.5 85.6l1.55 1.55l-1.55 1.55l-1.55 -1.55zM465.5 76.3l1.55 1.55l-1.55 1.55l-1.55 -1.55zM465.0 71.8l1.55 1.55l-1.55 1.55l-1.55 -1.55zM458.0 77.9l1.55 1.55l-1.55 1.55l-1.55 -1.55zM478.6 76.6l1.55 1.55l-1.55 1.55l-1.55 -1.55zM462.3 84.6l1.55 1.55l-1.55 1.55l-1.55 -1.55zM481.2 85.8l1.55 1.55l-1.55 1.55l-1.55 -1.55zM492.0 81.5l1.55 1.55l-1.55 1.55l-1.55 -1.55zM487.3 75.4l1.55 1.55l-1.55 1.55l-1.55 -1.55zM467.0 89.0l1.55 1.55l-1.55 1.55l-1.55 -1.55zM459.4 83.8l1.55 1.55l-1.55 1.55l-1.55 -1.55zM507.1 97.6l1.55 1.55l-1.55 1.55l-1.55 -1.55zM474.3 84.8l1.55 1.55l-1.55 1.55l-1.55 -1.55zM453.4 88.8l1.55 1.55l-1.55 1.55l-1.55 -1.55zM469.0 74.6l1.55 1.55l-1.55 1.55l-1.55 -1.55zM490.2 85.3l1.55 1.55l-1.55 1.55l-1.55 -1.55zM462.7 83.6l1.55 1.55l-1.55 1.55l-1.55 -1.55zM479.7 85.9l1.55 1.55l-1.55 1.55l-1.55 -1.55zM457.1 80.9l1.55 1.55l-1.55 1.55l-1.55 -1.55zM506.1 95.3l1.55 1.55l-1.55 1.55l-1.55 -1.55zM491.9 82.8l1.55 1.55l-1.55 1.55l-1.55 -1.55zM462.6 82.3l1.55 1.55l-1.55 1.55l-1.55 -1.55zM457.2 81.2l1.55 1.55l-1.55 1.55l-1.55 -1.55zM476.5 84.2l1.55 1.55l-1.55 1.55l-1.55 -1.55zM468.6 75.5l1.55 1.55l-1.55 1.55l-1.55 -1.55zM451.1 89.8l1.55 1.55l-1.55 1.55l-1.55 -1.55zM475.2 75.0l1.55 1.55l-1.55 1.55l-1.55 -1.55zM479.2 84.4l1.55 1.55l-1.55 1.55l-1.55 -1.55zM493.1 88.0l1.55 1.55l-1.55 1.55l-1.55 -1.55zM481.0 80.2l1.55 1.55l-1.55 1.55l-1.55 -1.55zM465.5 78.4l1.55 1.55l-1.55 1.55l-1.55 -1.55zM487.6 75.0l1.55 1.55l-1.55 1.55l-1.55 -1.55zM473.0 76.3l1.55 1.55l-1.55 1.55l-1.55 -1.55zM492.6 90.8l1.55 1.55l-1.55 1.55l-1.55 -1.55zM450.5 94.6l1.55 1.55l-1.55 1.55l-1.55 -1.55zM485.3 83.6l1.55 1.55l-1.55 1.55l-1.55 -1.55zM475.1 77.8l1.55 1.55l-1.55 1.55l-1.55 -1.55zM481.5 82.6l1.55 1.55l-1.55 1.55l-1.55 -1.55zM487.5 82.6l1.55 1.55l-1.55 1.55l-1.55 -1.55zM467.9 84.5l1.55 1.55l-1.55 1.55l-1.55 -1.55zM506.4 99.2l1.55 1.55l-1.55 1.55l-1.55 -1.55zM463.2 75.3l1.55 1.55l-1.55 1.55l-1.55 -1.55zM473.0 78.4l1.55 1.55l-1.55 1.55l-1.55 -1.55zM449.9 94.5l1.55 1.55l-1.55 1.55l-1.55 -1.55zM459.0 84.8l1.55 1.55l-1.55 1.55l-1.55 -1.55zM505.6 108.0l1.55 1.55l-1.55 1.55l-1.55 -1.55zM481.9 79.6l1.55 1.55l-1.55 1.55l-1.55 -1.55zM501.8 93.3l1.55 1.55l-1.55 1.55l-1.55 -1.55zM488.1 86.3l1.55 1.55l-1.55 1.55l-1.55 -1.55zM498.4 94.4l1.55 1.55l-1.55 1.55l-1.55 -1.55zM503.0 102.4l1.55 1.55l-1.55 1.55l-1.55 -1.55zM448.1 105.9l1.55 1.55l-1.55 1.55l-1.55 -1.55zM479.6 84.5l1.55 1.55l-1.55 1.55l-1.55 -1.55zM503.7 103.4l1.55 1.55l-1.55 1.55l-1.55 -1.55zM480.7 82.5l1.55 1.55l-1.55 1.55l-1.55 -1.55zM452.8 90.1l1.55 1.55l-1.55 1.55l-1.55 -1.55zM489.0 83.1l1.55 1.55l-1.55 1.55l-1.55 -1.55zM506.7 111.5l1.55 1.55l-1.55 1.55l-1.55 -1.55zM479.5 75.6l1.55 1.55l-1.55 1.55l-1.55 -1.55zM469.9 84.2l1.55 1.55l-1.55 1.55l-1.55 -1.55zM506.8 105.5l1.55 1.55l-1.55 1.55l-1.55 -1.55zM498.8 93.5l1.55 1.55l-1.55 1.55l-1.55 -1.55zM473.2 86.5l1.55 1.55l-1.55 1.55l-1.55 -1.55zM489.7 87.3l1.55 1.55l-1.55 1.55l-1.55 -1.55zM460.3 73.8l1.55 1.55l-1.55 1.55l-1.55 -1.55zM481.6 86.0l1.55 1.55l-1.55 1.55l-1.55 -1.55zM477.1 81.9l1.55 1.55l-1.55 1.55l-1.55 -1.55zM463.7 79.8l1.55 1.55l-1.55 1.55l-1.55 -1.55zM489.4 86.0l1.55 1.55l-1.55 1.55l-1.55 -1.55zM473.2 74.4l1.55 1.55l-1.55 1.55l-1.55 -1.55zM483.3 83.2l1.55 1.55l-1.55 1.55l-1.55 -1.55zM458.9 80.3l1.55 1.55l-1.55 1.55l-1.55 -1.55zM480.0 80.0l1.55 1.55l-1.55 1.55l-1.55 -1.55zM507.2 107.3l1.55 1.55l-1.55 1.55l-1.55 -1.55zM456.8 84.7l1.55 1.55l-1.55 1.55l-1.55 -1.55zM462.3 82.9l1.55 1.55l-1.55 1.55l-1.55 -1.55zM460.4 78.2l1.55 1.55l-1.55 1.55l-1.55 -1.55zM498.8 95.0l1.55 1.55l-1.55 1.55l-1.55 -1.55zM470.3 85.8l1.55 1.55l-1.55 1.55l-1.55 -1.55zM473.7 84.1l1.55 1.55l-1.55 1.55l-1.55 -1.55zM472.3 77.5l1.55 1.55l-1.55 1.55l-1.55 -1.55zM490.1 77.5l1.55 1.55l-1.55 1.55l-1.55 -1.55zM469.2 83.3l1.55 1.55l-1.55 1.55l-1.55 -1.55zM458.6 83.7l1.55 1.55l-1.55 1.55l-1.55 -1.55zM449.3 96.5l1.55 1.55l-1.55 1.55l-1.55 -1.55zM506.7 93.7l1.55 1.55l-1.55 1.55l-1.55 -1.55zM498.6 92.6l1.55 1.55l-1.55 1.55l-1.55 -1.55zM491.2 79.5l1.55 1.55l-1.55 1.55l-1.55 -1.55zM448.9 99.4l1.55 1.55l-1.55 1.55l-1.55 -1.55zM478.8 84.4l1.55 1.55l-1.55 1.55l-1.55 -1.55zM502.7 101.0l1.55 1.55l-1.55 1.55l-1.55 -1.55zM458.4 83.0l1.55 1.55l-1.55 1.55l-1.55 -1.55zM503.9 97.0l1.55 1.55l-1.55 1.55l-1.55 -1.55zM496.6 84.9l1.55 1.55l-1.55 1.55l-1.55 -1.55zM502.3 100.7l1.55 1.55l-1.55 1.55l-1.55 -1.55zM486.4 78.3l1.55 1.55l-1.55 1.55l-1.55 -1.55zM501.0 94.1l1.55 1.55l-1.55 1.55l-1.55 -1.55zM478.5 85.1l1.55 1.55l-1.55 1.55l-1.55 -1.55zM501.5 89.4l1.55 1.55l-1.55 1.55l-1.55 -1.55zM448.2 104.0l1.55 1.55l-1.55 1.55l-1.55 -1.55zM503.7 93.7l1.55 1.55l-1.55 1.55l-1.55 -1.55zM485.6 86.8l1.55 1.55l-1.55 1.55l-1.55 -1.55zM465.6 81.2l1.55 1.55l-1.55 1.55l-1.55 -1.55zM478.5 82.6l1.55 1.55l-1.55 1.55l-1.55 -1.55zM452.1 97.6l1.55 1.55l-1.55 1.55l-1.55 -1.55zM480.3 74.6l1.55 1.55l-1.55 1.55l-1.55 -1.55zM493.5 87.5l1.55 1.55l-1.55 1.55l-1.55 -1.55zM471.0 74.5l1.55 1.55l-1.55 1.55l-1.55 -1.55zM468.6 82.3l1.55 1.55l-1.55 1.55l-1.55 -1.55zM476.2 80.6l1.55 1.55l-1.55 1.55l-1.55 -1.55zM502.9 93.3l1.55 1.55l-1.55 1.55l-1.55 -1.55zM484.4 80.7l1.55 1.55l-1.55 1.55l-1.55 -1.55zM502.0 101.3l1.55 1.55l-1.55 1.55l-1.55 -1.55zM462.1 82.6l1.55 1.55l-1.55 1.55l-1.55 -1.55zM465.6 78.7l1.55 1.55l-1.55 1.55l-1.55 -1.55zM467.7 79.6l1.55 1.55l-1.55 1.55l-1.55 -1.55zM470.4 72.9l1.55 1.55l-1.55 1.55l-1.55 -1.55zM470.0 86.0l1.55 1.55l-1.55 1.55l-1.55 -1.55zM449.1 94.8l1.55 1.55l-1.55 1.55l-1.55 -1.55zM466.2 77.0l1.55 1.55l-1.55 1.55l-1.55 -1.55zM481.1 81.3l1.55 1.55l-1.55 1.55l-1.55 -1.55zM505.8 98.4l1.55 1.55l-1.55 1.55l-1.55 -1.55zM488.5 80.7l1.55 1.55l-1.55 1.55l-1.55 -1.55zM506.6 105.3l1.55 1.55l-1.55 1.55l-1.55 -1.55zM476.6 85.2l1.55 1.55l-1.55 1.55l-1.55 -1.55zM492.4 79.2l1.55 1.55l-1.55 1.55l-1.55 -1.55zM495.5 85.9l1.55 1.55l-1.55 1.55l-1.55 -1.55zM503.8 91.9l1.55 1.55l-1.55 1.55l-1.55 -1.55zM474.3 74.3l1.55 1.55l-1.55 1.55l-1.55 -1.55zM483.5 79.7l1.55 1.55l-1.55 1.55l-1.55 -1.55zM464.2 81.8l1.55 1.55l-1.55 1.55l-1.55 -1.55zM489.3 79.4l1.55 1.55l-1.55 1.55l-1.55 -1.55zM462.1 81.3l1.55 1.55l-1.55 1.55l-1.55 -1.55zM448.7 95.5l1.55 1.55l-1.55 1.55l-1.55 -1.55zM462.0 81.0l1.55 1.55l-1.55 1.55l-1.55 -1.55zM476.0 86.5l1.55 1.55l-1.55 1.55l-1.55 -1.55zM504.6 92.9l1.55 1.55l-1.55 1.55l-1.55 -1.55zM455.2 90.9l1.55 1.55l-1.55 1.55l-1.55 -1.55zM474.7 82.4l1.55 1.55l-1.55 1.55l-1.55 -1.55zM507.1 99.2l1.55 1.55l-1.55 1.55l-1.55 -1.55zM454.2 89.3l1.55 1.55l-1.55 1.55l-1.55 -1.55zM473.0 81.8l1.55 1.55l-1.55 1.55l-1.55 -1.55zM479.2 86.9l1.55 1.55l-1.55 1.55l-1.55 -1.55zM455.4 84.4l1.55 1.55l-1.55 1.55l-1.55 -1.55zM502.8 99.5l1.55 1.55l-1.55 1.55l-1.55 -1.55zM476.1 77.0l1.55 1.55l-1.55 1.55l-1.55 -1.55zM469.3 78.0l1.55 1.55l-1.55 1.55l-1.55 -1.55zM489.6 83.0l1.55 1.55l-1.55 1.55l-1.55 -1.55zM464.6 78.5l1.55 1.55l-1.55 1.55l-1.55 -1.55zM454.1 93.8l1.55 1.55l-1.55 1.55l-1.55 -1.55zM484.7 80.4l1.55 1.55l-1.55 1.55l-1.55 -1.55zM456.7 88.9l1.55 1.55l-1.55 1.55l-1.55 -1.55zM500.8 97.7l1.55 1.55l-1.55 1.55l-1.55 -1.55zM475.9 82.7l1.55 1.55l-1.55 1.55l-1.55 -1.55zM467.1 77.6l1.55 1.55l-1.55 1.55l-1.55 -1.55zM450.7 91.2l1.55 1.55l-1.55 1.55l-1.55 -1.55zM507.1 98.9l1.55 1.55l-1.55 1.55l-1.55 -1.55zM506.8 110.9l1.55 1.55l-1.55 1.55l-1.55 -1.55zM468.7 81.1l1.55 1.55l-1.55 1.55l-1.55 -1.55zM480.9 80.3l1.55 1.55l-1.55 1.55l-1.55 -1.55zM493.7 88.3l1.55 1.55l-1.55 1.55l-1.55 -1.55zM471.2 82.2l1.55 1.55l-1.55 1.55l-1.55 -1.55zM493.1 82.7l1.55 1.55l-1.55 1.55l-1.55 -1.55zM477.9 85.1l1.55 1.55l-1.55 1.55l-1.55 -1.55zM495.6 88.6l1.55 1.55l-1.55 1.55l-1.55 -1.55zM488.8 81.5l1.55 1.55l-1.55 1.55l-1.55 -1.55zM460.1 84.4l1.55 1.55l-1.55 1.55l-1.55 -1.55zM483.7 81.0l1.55 1.55l-1.55 1.55l-1.55 -1.55zM477.7 74.1l1.55 1.55l-1.55 1.55l-1.55 -1.55zM455.3 85.7l1.55 1.55l-1.55 1.55l-1.55 -1.55zM467.8 82.4l1.55 1.55l-1.55 1.55l-1.55 -1.55zM485.0 83.5l1.55 1.55l-1.55 1.55l-1.55 -1.55zM483.6 83.7l1.55 1.55l-1.55 1.55l-1.55 -1.55zM481.5 82.2l1.55 1.55l-1.55 1.55l-1.55 -1.55zM473.2 82.9l1.55 1.55l-1.55 1.55l-1.55 -1.55zM480.8 85.0l1.55 1.55l-1.55 1.55l-1.55 -1.55zM454.5 90.0l1.55 1.55l-1.55 1.55l-1.55 -1.55zM505.2 101.9l1.55 1.55l-1.55 1.55l-1.55 -1.55zM487.2 86.0l1.55 1.55l-1.55 1.55l-1.55 -1.55zM457.4 88.8l1.55 1.55l-1.55 1.55l-1.55 -1.55zM488.0 68.0l1.55 1.55l-1.55 1.55l-1.55 -1.55zM504.2 99.7l1.55 1.55l-1.55 1.55l-1.55 -1.55zM476.3 78.9l1.55 1.55l-1.55 1.55l-1.55 -1.55zM482.2 77.8l1.55 1.55l-1.55 1.55l-1.55 -1.55zM499.3 94.2l1.55 1.55l-1.55 1.55l-1.55 -1.55zM460.2 75.0l1.55 1.55l-1.55 1.55l-1.55 -1.55zM492.0 78.8l1.55 1.55l-1.55 1.55l-1.55 -1.55zM491.1 80.5l1.55 1.55l-1.55 1.55l-1.55 -1.55zM460.0 78.3l1.55 1.55l-1.55 1.55l-1.55 -1.55zM457.0 88.8l1.55 1.55l-1.55 1.55l-1.55 -1.55zM470.0 80.6l1.55 1.55l-1.55 1.55l-1.55 -1.55zM455.4 86.5l1.55 1.55l-1.55 1.55l-1.55 -1.55zM464.3 81.0l1.55 1.55l-1.55 1.55l-1.55 -1.55zM462.5 87.0l1.55 1.55l-1.55 1.55l-1.55 -1.55zM491.3 87.2l1.55 1.55l-1.55 1.55l-1.55 -1.55zM455.3 83.5l1.55 1.55l-1.55 1.55l-1.55 -1.55zM485.1 76.0l1.55 1.55l-1.55 1.55l-1.55 -1.55zM466.8 77.2l1.55 1.55l-1.55 1.55l-1.55 -1.55zM505.9 108.4l1.55 1.55l-1.55 1.55l-1.55 -1.55zM501.3 94.0l1.55 1.55l-1.55 1.55l-1.55 -1.55zM457.0 82.4l1.55 1.55l-1.55 1.55l-1.55 -1.55zM498.8 94.1l1.55 1.55l-1.55 1.55l-1.55 -1.55zM462.0 82.0l1.55 1.55l-1.55 1.55l-1.55 -1.55zM453.5 88.3l1.55 1.55l-1.55 1.55l-1.55 -1.55zM465.0 82.6l1.55 1.55l-1.55 1.55l-1.55 -1.55zM463.1 81.1l1.55 1.55l-1.55 1.55l-1.55 -1.55zM450.3 98.4l1.55 1.55l-1.55 1.55l-1.55 -1.55zM468.3 76.0l1.55 1.55l-1.55 1.55l-1.55 -1.55zM465.2 86.0l1.55 1.55l-1.55 1.55l-1.55 -1.55zM504.1 94.7l1.55 1.55l-1.55 1.55l-1.55 -1.55zM480.8 82.4l1.55 1.55l-1.55 1.55l-1.55 -1.55zM452.5 94.0l1.55 1.55l-1.55 1.55l-1.55 -1.55zM482.2 82.7l1.55 1.55l-1.55 1.55l-1.55 -1.55zM465.8 82.2l1.55 1.55l-1.55 1.55l-1.55 -1.55zM451.1 97.0l1.55 1.55l-1.55 1.55l-1.55 -1.55zM466.9 79.8l1.55 1.55l-1.55 1.55l-1.55 -1.55zM460.9 82.9l1.55 1.55l-1.55 1.55l-1.55 -1.55zM491.7 86.5l1.55 1.55l-1.55 1.55l-1.55 -1.55zM475.8 85.9l1.55 1.55l-1.55 1.55l-1.55 -1.55zM457.1 89.9l1.55 1.55l-1.55 1.55l-1.55 -1.55zM451.6 96.8l1.55 1.55l-1.55 1.55l-1.55 -1.55zM493.3 89.1l1.55 1.55l-1.55 1.55l-1.55 -1.55zM456.0 87.8l1.55 1.55l-1.55 1.55l-1.55 -1.55zM484.4 77.5l1.55 1.55l-1.55 1.55l-1.55 -1.55zM507.3 100.1l1.55 1.55l-1.55 1.55l-1.55 -1.55zM490.9 89.1l1.55 1.55l-1.55 1.55l-1.55 -1.55zM502.4 94.8l1.55 1.55l-1.55 1.55l-1.55 -1.55zM478.0 83.2l1.55 1.55l-1.55 1.55l-1.55 -1.55zM453.6 82.7l1.55 1.55l-1.55 1.55l-1.55 -1.55zM456.5 85.7l1.55 1.55l-1.55 1.55l-1.55 -1.55zM478.3 81.3l1.55 1.55l-1.55 1.55l-1.55 -1.55zM453.5 84.4l1.55 1.55l-1.55 1.55l-1.55 -1.55zM481.2 75.7l1.55 1.55l-1.55 1.55l-1.55 -1.55zM473.4 78.8l1.55 1.55l-1.55 1.55l-1.55 -1.55zM497.1 91.7l1.55 1.55l-1.55 1.55l-1.55 -1.55zM468.6 76.2l1.55 1.55l-1.55 1.55l-1.55 -1.55z" fill="none" stroke="#cc1488" stroke-width="1.0"/>
<g fill="#22b34a"><circle cx="467.4" cy="83.2" r="2.4"/><circle cx="474.2" cy="66.5" r="2.4"/><circle cx="499.4" cy="91.2" r="2.4"/><circle cx="489.1" cy="80.5" r="2.4"/><circle cx="493.0" cy="80.3" r="2.4"/><circle cx="491.1" cy="89.1" r="2.4"/><circle cx="485.9" cy="81.5" r="2.4"/><circle cx="467.2" cy="83.9" r="2.4"/><circle cx="466.9" cy="83.8" r="2.4"/></g>
<g fill="#22b34a"><circle cx="133.2" cy="210.9" r="2.4"/><circle cx="116.4" cy="213.9" r="2.4"/><circle cx="115.1" cy="217.8" r="2.4"/><circle cx="142.7" cy="213.3" r="2.4"/><circle cx="112.9" cy="215.0" r="2.4"/><circle cx="136.0" cy="215.4" r="2.4"/><circle cx="128.2" cy="203.9" r="2.4"/><circle cx="136.5" cy="208.1" r="2.4"/><circle cx="119.9" cy="208.9" r="2.4"/><circle cx="142.3" cy="217.2" r="2.4"/><circle cx="113.8" cy="219.4" r="2.4"/><circle cx="117.1" cy="208.7" r="2.4"/><circle cx="127.8" cy="206.8" r="2.4"/><circle cx="115.2" cy="217.7" r="2.4"/><circle cx="134.3" cy="212.6" r="2.4"/><circle cx="131.9" cy="208.6" r="2.4"/><circle cx="124.7" cy="210.2" r="2.4"/><circle cx="127.1" cy="207.5" r="2.4"/><circle cx="123.2" cy="211.3" r="2.4"/><circle cx="108.9" cy="225.5" r="2.4"/><circle cx="107.2" cy="228.0" r="2.4"/><circle cx="124.0" cy="209.9" r="2.4"/><circle cx="108.0" cy="211.4" r="2.4"/><circle cx="111.4" cy="212.1" r="2.4"/><circle cx="109.3" cy="223.5" r="2.4"/><circle cx="136.9" cy="212.0" r="2.4"/><circle cx="107.8" cy="223.1" r="2.4"/><circle cx="109.0" cy="224.2" r="2.4"/><circle cx="132.6" cy="210.0" r="2.4"/><circle cx="116.1" cy="208.7" r="2.4"/><circle cx="112.7" cy="218.5" r="2.4"/><circle cx="119.6" cy="209.2" r="2.4"/><circle cx="114.2" cy="211.4" r="2.4"/><circle cx="133.3" cy="209.3" r="2.4"/><circle cx="109.9" cy="225.5" r="2.4"/><circle cx="142.9" cy="220.6" r="2.4"/><circle cx="134.2" cy="204.8" r="2.4"/><circle cx="131.3" cy="215.4" r="2.4"/><circle cx="110.1" cy="217.1" r="2.4"/><circle cx="108.9" cy="217.9" r="2.4"/><circle cx="128.0" cy="210.0" r="2.4"/><circle cx="120.2" cy="211.3" r="2.4"/><circle cx="118.7" cy="213.3" r="2.4"/><circle cx="139.8" cy="215.9" r="2.4"/><circle cx="150.0" cy="236.3" r="2.4"/><circle cx="124.4" cy="212.0" r="2.4"/><circle cx="108.5" cy="214.0" r="2.4"/><circle cx="132.4" cy="211.3" r="2.4"/><circle cx="113.0" cy="208.0" r="2.4"/><circle cx="147.3" cy="223.6" r="2.4"/><circle cx="116.6" cy="206.5" r="2.4"/><circle cx="125.2" cy="212.5" r="2.4"/><circle cx="107.8" cy="220.2" r="2.4"/><circle cx="113.2" cy="217.5" r="2.4"/><circle cx="146.0" cy="224.4" r="2.4"/><circle cx="118.6" cy="211.6" r="2.4"/><circle cx="110.5" cy="214.4" r="2.4"/><circle cx="113.8" cy="208.1" r="2.4"/><circle cx="141.6" cy="216.0" r="2.4"/><circle cx="108.4" cy="214.3" r="2.4"/><circle cx="114.2" cy="220.8" r="2.4"/><circle cx="116.0" cy="218.6" r="2.4"/><circle cx="139.5" cy="208.9" r="2.4"/><circle cx="124.4" cy="213.3" r="2.4"/><circle cx="128.0" cy="205.1" r="2.4"/><circle cx="147.9" cy="224.1" r="2.4"/><circle cx="107.1" cy="216.7" r="2.4"/><circle cx="114.1" cy="199.5" r="2.4"/><circle cx="131.8" cy="210.6" r="2.4"/><circle cx="117.5" cy="209.1" r="2.4"/><circle cx="115.1" cy="209.6" r="2.4"/><circle cx="134.6" cy="211.7" r="2.4"/><circle cx="141.8" cy="216.2" r="2.4"/><circle cx="128.9" cy="211.9" r="2.4"/><circle cx="144.8" cy="217.1" r="2.4"/><circle cx="120.5" cy="217.0" r="2.4"/><circle cx="121.4" cy="215.3" r="2.4"/><circle cx="142.7" cy="215.6" r="2.4"/><circle cx="109.0" cy="218.5" r="2.4"/><circle cx="114.0" cy="206.9" r="2.4"/><circle cx="131.6" cy="214.8" r="2.4"/><circle cx="127.3" cy="209.1" r="2.4"/><circle cx="122.5" cy="207.4" r="2.4"/><circle cx="123.3" cy="209.7" r="2.4"/><circle cx="119.1" cy="214.3" r="2.4"/><circle cx="132.2" cy="215.3" r="2.4"/><circle cx="134.3" cy="199.5" r="2.4"/></g>
<path d="M111.2 217.2l1.55 1.55l-1.55 1.55l-1.55 -1.55zM116.7 211.7l1.55 1.55l-1.55 1.55l-1.55 -1.55zM113.4 221.0l1.55 1.55l-1.55 1.55l-1.55 -1.55zM123.2 212.5l1.55 1.55l-1.55 1.55l-1.55 -1.55zM115.2 213.4l1.55 1.55l-1.55 1.55l-1.55 -1.55zM110.2 210.7l1.55 1.55l-1.55 1.55l-1.55 -1.55zM117.0 214.7l1.55 1.55l-1.55 1.55l-1.55 -1.55zM110.2 209.0l1.55 1.55l-1.55 1.55l-1.55 -1.55zM138.3 207.4l1.55 1.55l-1.55 1.55l-1.55 -1.55zM113.5 219.7l1.55 1.55l-1.55 1.55l-1.55 -1.55zM125.5 211.5l1.55 1.55l-1.55 1.55l-1.55 -1.55zM111.5 211.4l1.55 1.55l-1.55 1.55l-1.55 -1.55zM132.2 213.6l1.55 1.55l-1.55 1.55l-1.55 -1.55zM144.1 213.9l1.55 1.55l-1.55 1.55l-1.55 -1.55zM134.4 209.9l1.55 1.55l-1.55 1.55l-1.55 -1.55zM115.4 211.3l1.55 1.55l-1.55 1.55l-1.55 -1.55zM113.8 212.5l1.55 1.55l-1.55 1.55l-1.55 -1.55zM124.9 213.7l1.55 1.55l-1.55 1.55l-1.55 -1.55zM136.7 208.1l1.55 1.55l-1.55 1.55l-1.55 -1.55zM121.8 210.3l1.55 1.55l-1.55 1.55l-1.55 -1.55zM113.2 220.1l1.55 1.55l-1.55 1.55l-1.55 -1.55zM120.2 208.1l1.55 1.55l-1.55 1.55l-1.55 -1.55zM137.1 210.8l1.55 1.55l-1.55 1.55l-1.55 -1.55zM139.0 209.6l1.55 1.55l-1.55 1.55l-1.55 -1.55zM112.8 222.9l1.55 1.55l-1.55 1.55l-1.55 -1.55zM137.5 214.6l1.55 1.55l-1.55 1.55l-1.55 -1.55zM114.6 213.1l1.55 1.55l-1.55 1.55l-1.55 -1.55zM132.7 210.7l1.55 1.55l-1.55 1.55l-1.55 -1.55zM117.4 217.1l1.55 1.55l-1.55 1.55l-1.55 -1.55zM121.9 210.8l1.55 1.55l-1.55 1.55l-1.55 -1.55zM112.4 206.6l1.55 1.55l-1.55 1.55l-1.55 -1.55zM140.4 216.9l1.55 1.55l-1.55 1.55l-1.55 -1.55zM138.1 211.3l1.55 1.55l-1.55 1.55l-1.55 -1.55zM126.3 213.5l1.55 1.55l-1.55 1.55l-1.55 -1.55zM125.4 211.9l1.55 1.55l-1.55 1.55l-1.55 -1.55zM139.9 217.5l1.55 1.55l-1.55 1.55l-1.55 -1.55zM110.3 204.6l1.55 1.55l-1.55 1.55l-1.55 -1.55zM145.2 217.1l1.55 1.55l-1.55 1.55l-1.55 -1.55zM118.6 209.3l1.55 1.55l-1.55 1.55l-1.55 -1.55zM139.6 210.0l1.55 1.55l-1.55 1.55l-1.55 -1.55zM116.3 212.0l1.55 1.55l-1.55 1.55l-1.55 -1.55zM127.2 210.6l1.55 1.55l-1.55 1.55l-1.55 -1.55zM137.2 212.5l1.55 1.55l-1.55 1.55l-1.55 -1.55zM121.7 214.2l1.55 1.55l-1.55 1.55l-1.55 -1.55zM113.6 210.5l1.55 1.55l-1.55 1.55l-1.55 -1.55zM113.1 205.2l1.55 1.55l-1.55 1.55l-1.55 -1.55zM115.7 211.1l1.55 1.55l-1.55 1.55l-1.55 -1.55zM142.7 215.9l1.55 1.55l-1.55 1.55l-1.55 -1.55zM116.8 215.0l1.55 1.55l-1.55 1.55l-1.55 -1.55zM116.5 214.6l1.55 1.55l-1.55 1.55l-1.55 -1.55zM111.2 211.4l1.55 1.55l-1.55 1.55l-1.55 -1.55zM131.8 212.5l1.55 1.55l-1.55 1.55l-1.55 -1.55zM133.8 209.7l1.55 1.55l-1.55 1.55l-1.55 -1.55zM128.4 210.7l1.55 1.55l-1.55 1.55l-1.55 -1.55zM141.5 213.9l1.55 1.55l-1.55 1.55l-1.55 -1.55zM112.3 212.6l1.55 1.55l-1.55 1.55l-1.55 -1.55zM116.6 213.1l1.55 1.55l-1.55 1.55l-1.55 -1.55zM129.2 210.0l1.55 1.55l-1.55 1.55l-1.55 -1.55zM129.2 210.2l1.55 1.55l-1.55 1.55l-1.55 -1.55zM132.4 207.3l1.55 1.55l-1.55 1.55l-1.55 -1.55zM124.2 214.5l1.55 1.55l-1.55 1.55l-1.55 -1.55zM120.7 207.0l1.55 1.55l-1.55 1.55l-1.55 -1.55zM119.1 212.2l1.55 1.55l-1.55 1.55l-1.55 -1.55zM111.1 210.0l1.55 1.55l-1.55 1.55l-1.55 -1.55zM129.6 214.6l1.55 1.55l-1.55 1.55l-1.55 -1.55zM114.1 205.7l1.55 1.55l-1.55 1.55l-1.55 -1.55zM135.9 216.2l1.55 1.55l-1.55 1.55l-1.55 -1.55zM146.4 224.2l1.55 1.55l-1.55 1.55l-1.55 -1.55zM124.2 212.7l1.55 1.55l-1.55 1.55l-1.55 -1.55zM136.6 209.7l1.55 1.55l-1.55 1.55l-1.55 -1.55zM140.6 211.1l1.55 1.55l-1.55 1.55l-1.55 -1.55zM125.8 206.2l1.55 1.55l-1.55 1.55l-1.55 -1.55zM112.8 222.6l1.55 1.55l-1.55 1.55l-1.55 -1.55zM110.4 224.6l1.55 1.55l-1.55 1.55l-1.55 -1.55zM142.3 217.0l1.55 1.55l-1.55 1.55l-1.55 -1.55zM145.3 220.7l1.55 1.55l-1.55 1.55l-1.55 -1.55zM121.9 210.9l1.55 1.55l-1.55 1.55l-1.55 -1.55zM114.1 208.8l1.55 1.55l-1.55 1.55l-1.55 -1.55zM139.6 213.1l1.55 1.55l-1.55 1.55l-1.55 -1.55zM144.1 221.5l1.55 1.55l-1.55 1.55l-1.55 -1.55zM125.1 215.5l1.55 1.55l-1.55 1.55l-1.55 -1.55zM133.3 216.1l1.55 1.55l-1.55 1.55l-1.55 -1.55zM103.6 244.4l1.55 1.55l-1.55 1.55l-1.55 -1.55zM120.8 212.1l1.55 1.55l-1.55 1.55l-1.55 -1.55zM132.4 209.4l1.55 1.55l-1.55 1.55l-1.55 -1.55zM134.2 208.4l1.55 1.55l-1.55 1.55l-1.55 -1.55zM115.5 209.2l1.55 1.55l-1.55 1.55l-1.55 -1.55zM111.8 203.3l1.55 1.55l-1.55 1.55l-1.55 -1.55zM115.0 210.7l1.55 1.55l-1.55 1.55l-1.55 -1.55zM113.1 219.7l1.55 1.55l-1.55 1.55l-1.55 -1.55zM119.1 216.3l1.55 1.55l-1.55 1.55l-1.55 -1.55zM121.1 212.8l1.55 1.55l-1.55 1.55l-1.55 -1.55zM113.0 213.7l1.55 1.55l-1.55 1.55l-1.55 -1.55zM117.3 214.8l1.55 1.55l-1.55 1.55l-1.55 -1.55zM110.3 214.6l1.55 1.55l-1.55 1.55l-1.55 -1.55zM111.1 214.4l1.55 1.55l-1.55 1.55l-1.55 -1.55zM141.9 218.4l1.55 1.55l-1.55 1.55l-1.55 -1.55zM111.4 217.1l1.55 1.55l-1.55 1.55l-1.55 -1.55zM115.5 209.5l1.55 1.55l-1.55 1.55l-1.55 -1.55zM122.2 210.4l1.55 1.55l-1.55 1.55l-1.55 -1.55zM125.6 213.7l1.55 1.55l-1.55 1.55l-1.55 -1.55zM115.8 216.3l1.55 1.55l-1.55 1.55l-1.55 -1.55zM131.8 214.6l1.55 1.55l-1.55 1.55l-1.55 -1.55zM132.8 210.9l1.55 1.55l-1.55 1.55l-1.55 -1.55zM119.0 212.8l1.55 1.55l-1.55 1.55l-1.55 -1.55zM120.0 215.6l1.55 1.55l-1.55 1.55l-1.55 -1.55zM146.2 221.0l1.55 1.55l-1.55 1.55l-1.55 -1.55zM126.2 212.8l1.55 1.55l-1.55 1.55l-1.55 -1.55zM115.2 213.5l1.55 1.55l-1.55 1.55l-1.55 -1.55zM134.5 206.5l1.55 1.55l-1.55 1.55l-1.55 -1.55zM128.7 198.5l1.55 1.55l-1.55 1.55l-1.55 -1.55zM133.4 207.5l1.55 1.55l-1.55 1.55l-1.55 -1.55zM133.8 207.8l1.55 1.55l-1.55 1.55l-1.55 -1.55zM116.3 213.6l1.55 1.55l-1.55 1.55l-1.55 -1.55zM146.5 225.4l1.55 1.55l-1.55 1.55l-1.55 -1.55zM112.6 211.6l1.55 1.55l-1.55 1.55l-1.55 -1.55zM118.6 214.2l1.55 1.55l-1.55 1.55l-1.55 -1.55zM128.6 213.5l1.55 1.55l-1.55 1.55l-1.55 -1.55zM122.1 209.4l1.55 1.55l-1.55 1.55l-1.55 -1.55zM110.2 204.8l1.55 1.55l-1.55 1.55l-1.55 -1.55zM143.8 217.3l1.55 1.55l-1.55 1.55l-1.55 -1.55zM132.7 211.6l1.55 1.55l-1.55 1.55l-1.55 -1.55zM134.5 206.5l1.55 1.55l-1.55 1.55l-1.55 -1.55zM139.5 208.7l1.55 1.55l-1.55 1.55l-1.55 -1.55zM110.4 223.9l1.55 1.55l-1.55 1.55l-1.55 -1.55zM138.6 217.0l1.55 1.55l-1.55 1.55l-1.55 -1.55zM127.4 210.1l1.55 1.55l-1.55 1.55l-1.55 -1.55zM112.0 223.5l1.55 1.55l-1.55 1.55l-1.55 -1.55zM139.6 215.1l1.55 1.55l-1.55 1.55l-1.55 -1.55zM111.5 215.3l1.55 1.55l-1.55 1.55l-1.55 -1.55zM139.1 210.1l1.55 1.55l-1.55 1.55l-1.55 -1.55zM144.6 220.0l1.55 1.55l-1.55 1.55l-1.55 -1.55zM132.1 211.5l1.55 1.55l-1.55 1.55l-1.55 -1.55zM112.4 211.9l1.55 1.55l-1.55 1.55l-1.55 -1.55zM114.6 218.6l1.55 1.55l-1.55 1.55l-1.55 -1.55zM111.9 214.5l1.55 1.55l-1.55 1.55l-1.55 -1.55zM116.4 207.3l1.55 1.55l-1.55 1.55l-1.55 -1.55zM142.4 214.5l1.55 1.55l-1.55 1.55l-1.55 -1.55zM130.9 209.9l1.55 1.55l-1.55 1.55l-1.55 -1.55zM136.1 215.3l1.55 1.55l-1.55 1.55l-1.55 -1.55zM134.3 212.9l1.55 1.55l-1.55 1.55l-1.55 -1.55zM138.7 215.0l1.55 1.55l-1.55 1.55l-1.55 -1.55zM142.0 215.2l1.55 1.55l-1.55 1.55l-1.55 -1.55zM123.7 212.9l1.55 1.55l-1.55 1.55l-1.55 -1.55zM140.5 212.4l1.55 1.55l-1.55 1.55l-1.55 -1.55zM140.0 213.1l1.55 1.55l-1.55 1.55l-1.55 -1.55zM121.2 206.8l1.55 1.55l-1.55 1.55l-1.55 -1.55zM110.5 213.1l1.55 1.55l-1.55 1.55l-1.55 -1.55zM135.0 209.6l1.55 1.55l-1.55 1.55l-1.55 -1.55zM139.4 215.6l1.55 1.55l-1.55 1.55l-1.55 -1.55zM114.4 217.6l1.55 1.55l-1.55 1.55l-1.55 -1.55zM144.4 216.1l1.55 1.55l-1.55 1.55l-1.55 -1.55zM137.4 212.2l1.55 1.55l-1.55 1.55l-1.55 -1.55zM138.3 215.0l1.55 1.55l-1.55 1.55l-1.55 -1.55zM143.6 219.4l1.55 1.55l-1.55 1.55l-1.55 -1.55zM121.9 211.8l1.55 1.55l-1.55 1.55l-1.55 -1.55zM129.2 213.6l1.55 1.55l-1.55 1.55l-1.55 -1.55zM142.6 220.4l1.55 1.55l-1.55 1.55l-1.55 -1.55zM120.7 214.5l1.55 1.55l-1.55 1.55l-1.55 -1.55zM117.1 208.0l1.55 1.55l-1.55 1.55l-1.55 -1.55zM115.7 216.3l1.55 1.55l-1.55 1.55l-1.55 -1.55zM125.3 208.8l1.55 1.55l-1.55 1.55l-1.55 -1.55zM136.2 213.4l1.55 1.55l-1.55 1.55l-1.55 -1.55zM118.5 206.5l1.55 1.55l-1.55 1.55l-1.55 -1.55zM140.3 212.5l1.55 1.55l-1.55 1.55l-1.55 -1.55zM120.6 207.6l1.55 1.55l-1.55 1.55l-1.55 -1.55zM116.9 208.9l1.55 1.55l-1.55 1.55l-1.55 -1.55zM118.1 213.1l1.55 1.55l-1.55 1.55l-1.55 -1.55zM123.5 212.4l1.55 1.55l-1.55 1.55l-1.55 -1.55zM144.6 222.0l1.55 1.55l-1.55 1.55l-1.55 -1.55zM142.6 221.0l1.55 1.55l-1.55 1.55l-1.55 -1.55zM139.3 207.4l1.55 1.55l-1.55 1.55l-1.55 -1.55zM140.7 214.9l1.55 1.55l-1.55 1.55l-1.55 -1.55zM112.3 211.2l1.55 1.55l-1.55 1.55l-1.55 -1.55zM111.6 202.6l1.55 1.55l-1.55 1.55l-1.55 -1.55zM146.5 234.7l1.55 1.55l-1.55 1.55l-1.55 -1.55zM143.0 214.5l1.55 1.55l-1.55 1.55l-1.55 -1.55zM113.4 207.2l1.55 1.55l-1.55 1.55l-1.55 -1.55zM130.6 208.2l1.55 1.55l-1.55 1.55l-1.55 -1.55zM147.1 224.1l1.55 1.55l-1.55 1.55l-1.55 -1.55zM110.4 208.3l1.55 1.55l-1.55 1.55l-1.55 -1.55zM119.8 212.4l1.55 1.55l-1.55 1.55l-1.55 -1.55zM113.6 205.9l1.55 1.55l-1.55 1.55l-1.55 -1.55z" fill="none" stroke="#cc1488" stroke-width="1.0"/>
<g fill="#22b34a"><circle cx="131.0" cy="210.5" r="2.4"/><circle cx="109.9" cy="206.7" r="2.4"/><circle cx="134.7" cy="209.0" r="2.4"/><circle cx="149.9" cy="227.3" r="2.4"/><circle cx="111.2" cy="216.6" r="2.4"/><circle cx="144.4" cy="215.9" r="2.4"/></g>
<g fill="#22b34a"><circle cx="232.8" cy="207.4" r="2.4"/><circle cx="230.8" cy="204.9" r="2.4"/><circle cx="251.3" cy="195.1" r="2.4"/><circle cx="232.8" cy="213.3" r="2.4"/><circle cx="239.6" cy="215.8" r="2.4"/><circle cx="227.9" cy="209.2" r="2.4"/><circle cx="243.4" cy="213.0" r="2.4"/><circle cx="256.4" cy="211.3" r="2.4"/><circle cx="232.8" cy="215.9" r="2.4"/><circle cx="227.6" cy="210.3" r="2.4"/><circle cx="226.9" cy="208.2" r="2.4"/><circle cx="254.7" cy="214.1" r="2.4"/><circle cx="267.0" cy="237.7" r="2.4"/><circle cx="253.8" cy="208.2" r="2.4"/><circle cx="242.9" cy="206.3" r="2.4"/><circle cx="250.5" cy="206.4" r="2.4"/><circle cx="242.1" cy="215.0" r="2.4"/><circle cx="224.1" cy="227.6" r="2.4"/><circle cx="261.8" cy="222.1" r="2.4"/><circle cx="250.9" cy="208.6" r="2.4"/><circle cx="224.6" cy="226.6" r="2.4"/><circle cx="257.6" cy="217.5" r="2.4"/><circle cx="225.7" cy="222.0" r="2.4"/><circle cx="225.3" cy="215.0" r="2.4"/><circle cx="239.3" cy="211.5" r="2.4"/><circle cx="255.9" cy="211.2" r="2.4"/><circle cx="241.0" cy="213.2" r="2.4"/><circle cx="242.4" cy="215.0" r="2.4"/><circle cx="240.9" cy="213.5" r="2.4"/><circle cx="248.0" cy="206.7" r="2.4"/><circle cx="241.8" cy="211.5" r="2.4"/><circle cx="263.0" cy="219.1" r="2.4"/><circle cx="238.9" cy="207.2" r="2.4"/><circle cx="264.1" cy="225.4" r="2.4"/><circle cx="244.7" cy="207.5" r="2.4"/><circle cx="256.5" cy="208.0" r="2.4"/><circle cx="247.9" cy="214.1" r="2.4"/><circle cx="236.7" cy="216.8" r="2.4"/><circle cx="257.8" cy="214.4" r="2.4"/><circle cx="228.5" cy="221.9" r="2.4"/><circle cx="261.4" cy="222.3" r="2.4"/><circle cx="243.2" cy="204.1" r="2.4"/><circle cx="256.3" cy="215.6" r="2.4"/><circle cx="239.0" cy="205.1" r="2.4"/><circle cx="259.2" cy="213.4" r="2.4"/><circle cx="233.8" cy="212.7" r="2.4"/><circle cx="259.9" cy="219.0" r="2.4"/><circle cx="252.8" cy="204.9" r="2.4"/><circle cx="263.1" cy="225.7" r="2.4"/><circle cx="225.0" cy="216.6" r="2.4"/><circle cx="224.1" cy="222.8" r="2.4"/><circle cx="266.5" cy="225.7" r="2.4"/><circle cx="223.6" cy="231.2" r="2.4"/><circle cx="225.6" cy="223.8" r="2.4"/><circle cx="254.5" cy="205.2" r="2.4"/><circle cx="241.1" cy="209.4" r="2.4"/><circle cx="226.3" cy="209.1" r="2.4"/><circle cx="246.8" cy="216.4" r="2.4"/><circle cx="236.3" cy="213.9" r="2.4"/><circle cx="242.0" cy="207.8" r="2.4"/><circle cx="225.4" cy="215.1" r="2.4"/><circle cx="223.1" cy="226.4" r="2.4"/><circle cx="243.2" cy="216.4" r="2.4"/><circle cx="244.2" cy="211.3" r="2.4"/><circle cx="227.6" cy="222.0" r="2.4"/><circle cx="253.3" cy="209.6" r="2.4"/><circle cx="253.5" cy="206.9" r="2.4"/><circle cx="232.1" cy="216.2" r="2.4"/><circle cx="238.8" cy="206.2" r="2.4"/><circle cx="263.0" cy="223.4" r="2.4"/><circle cx="225.4" cy="215.1" r="2.4"/><circle cx="256.9" cy="208.8" r="2.4"/><circle cx="266.2" cy="227.2" r="2.4"/><circle cx="242.2" cy="215.6" r="2.4"/><circle cx="255.6" cy="213.2" r="2.4"/><circle cx="223.1" cy="214.0" r="2.4"/><circle cx="259.6" cy="217.4" r="2.4"/><circle cx="224.0" cy="222.3" r="2.4"/><circle cx="246.5" cy="216.3" r="2.4"/><circle cx="246.4" cy="209.5" r="2.4"/><circle cx="263.2" cy="223.8" r="2.4"/><circle cx="246.5" cy="213.7" r="2.4"/><circle cx="265.9" cy="232.1" r="2.4"/><circle cx="225.0" cy="232.8" r="2.4"/><circle cx="226.5" cy="219.6" r="2.4"/><circle cx="250.6" cy="204.1" r="2.4"/><circle cx="232.0" cy="196.0" r="2.4"/><circle cx="235.3" cy="215.3" r="2.4"/><circle cx="248.5" cy="213.5" r="2.4"/><circle cx="252.8" cy="208.9" r="2.4"/><circle cx="261.3" cy="218.7" r="2.4"/><circle cx="224.9" cy="213.9" r="2.4"/><circle cx="241.8" cy="204.2" r="2.4"/><circle cx="248.3" cy="207.3" r="2.4"/><circle cx="249.2" cy="204.2" r="2.4"/><circle cx="245.2" cy="216.0" r="2.4"/></g>
<path d="M249.4 207.7l1.55 1.55l-1.55 1.55l-1.55 -1.55zM248.2 210.5l1.55 1.55l-1.55 1.55l-1.55 -1.55zM253.2 209.6l1.55 1.55l-1.55 1.55l-1.55 -1.55zM231.8 203.7l1.55 1.55l-1.55 1.55l-1.55 -1.55zM220.6 243.5l1.55 1.55l-1.55 1.55l-1.55 -1.55zM232.7 205.2l1.55 1.55l-1.55 1.55l-1.55 -1.55zM236.2 209.8l1.55 1.55l-1.55 1.55l-1.55 -1.55zM258.9 215.2l1.55 1.55l-1.55 1.55l-1.55 -1.55zM230.4 207.2l1.55 1.55l-1.55 1.55l-1.55 -1.55zM237.7 210.7l1.55 1.55l-1.55 1.55l-1.55 -1.55zM230.3 205.5l1.55 1.55l-1.55 1.55l-1.55 -1.55zM247.8 208.5l1.55 1.55l-1.55 1.55l-1.55 -1.55zM226.4 203.5l1.55 1.55l-1.55 1.55l-1.55 -1.55zM225.2 203.8l1.55 1.55l-1.55 1.55l-1.55 -1.55zM262.9 225.4l1.55 1.55l-1.55 1.55l-1.55 -1.55zM250.7 204.8l1.55 1.55l-1.55 1.55l-1.55 -1.55zM229.4 211.8l1.55 1.55l-1.55 1.55l-1.55 -1.55zM236.6 213.9l1.55 1.55l-1.55 1.55l-1.55 -1.55zM230.5 200.5l1.55 1.55l-1.55 1.55l-1.55 -1.55zM228.4 214.1l1.55 1.55l-1.55 1.55l-1.55 -1.55zM252.3 203.6l1.55 1.55l-1.55 1.55l-1.55 -1.55zM260.7 220.9l1.55 1.55l-1.55 1.55l-1.55 -1.55zM230.0 208.4l1.55 1.55l-1.55 1.55l-1.55 -1.55zM253.0 211.7l1.55 1.55l-1.55 1.55l-1.55 -1.55zM240.8 208.5l1.55 1.55l-1.55 1.55l-1.55 -1.55zM224.8 212.1l1.55 1.55l-1.55 1.55l-1.55 -1.55zM256.4 217.1l1.55 1.55l-1.55 1.55l-1.55 -1.55zM246.3 208.8l1.55 1.55l-1.55 1.55l-1.55 -1.55zM234.7 208.5l1.55 1.55l-1.55 1.55l-1.55 -1.55zM225.0 213.2l1.55 1.55l-1.55 1.55l-1.55 -1.55zM252.7 209.1l1.55 1.55l-1.55 1.55l-1.55 -1.55zM236.1 210.0l1.55 1.55l-1.55 1.55l-1.55 -1.55zM234.5 212.3l1.55 1.55l-1.55 1.55l-1.55 -1.55zM232.0 208.9l1.55 1.55l-1.55 1.55l-1.55 -1.55zM250.5 210.2l1.55 1.55l-1.55 1.55l-1.55 -1.55zM247.4 209.5l1.55 1.55l-1.55 1.55l-1.55 -1.55zM247.2 207.9l1.55 1.55l-1.55 1.55l-1.55 -1.55zM256.4 213.5l1.55 1.55l-1.55 1.55l-1.55 -1.55zM253.0 213.9l1.55 1.55l-1.55 1.55l-1.55 -1.55zM251.8 211.6l1.55 1.55l-1.55 1.55l-1.55 -1.55zM245.5 209.7l1.55 1.55l-1.55 1.55l-1.55 -1.55zM253.9 178.4l1.55 1.55l-1.55 1.55l-1.55 -1.55zM253.1 209.2l1.55 1.55l-1.55 1.55l-1.55 -1.55zM235.3 204.7l1.55 1.55l-1.55 1.55l-1.55 -1.55zM255.9 217.9l1.55 1.55l-1.55 1.55l-1.55 -1.55zM229.3 206.4l1.55 1.55l-1.55 1.55l-1.55 -1.55zM263.3 222.6l1.55 1.55l-1.55 1.55l-1.55 -1.55zM264.2 226.9l1.55 1.55l-1.55 1.55l-1.55 -1.55zM249.1 206.5l1.55 1.55l-1.55 1.55l-1.55 -1.55zM250.8 210.6l1.55 1.55l-1.55 1.55l-1.55 -1.55zM225.6 216.4l1.55 1.55l-1.55 1.55l-1.55 -1.55zM244.0 210.6l1.55 1.55l-1.55 1.55l-1.55 -1.55zM237.6 209.8l1.55 1.55l-1.55 1.55l-1.55 -1.55zM251.1 203.8l1.55 1.55l-1.55 1.55l-1.55 -1.55zM234.0 206.8l1.55 1.55l-1.55 1.55l-1.55 -1.55zM233.9 211.5l1.55 1.55l-1.55 1.55l-1.55 -1.55zM229.5 212.3l1.55 1.55l-1.55 1.55l-1.55 -1.55zM232.7 201.9l1.55 1.55l-1.55 1.55l-1.55 -1.55zM230.4 210.5l1.55 1.55l-1.55 1.55l-1.55 -1.55zM226.4 217.0l1.55 1.55l-1.55 1.55l-1.55 -1.55zM227.3 208.0l1.55 1.55l-1.55 1.55l-1.55 -1.55zM258.5 218.5l1.55 1.55l-1.55 1.55l-1.55 -1.55zM249.6 207.2l1.55 1.55l-1.55 1.55l-1.55 -1.55zM250.1 210.4l1.55 1.55l-1.55 1.55l-1.55 -1.55zM226.8 211.3l1.55 1.55l-1.55 1.55l-1.55 -1.55zM263.5 228.4l1.55 1.55l-1.55 1.55l-1.55 -1.55zM230.5 205.7l1.55 1.55l-1.55 1.55l-1.55 -1.55zM238.3 204.1l1.55 1.55l-1.55 1.55l-1.55 -1.55zM240.8 203.9l1.55 1.55l-1.55 1.55l-1.55 -1.55zM232.6 209.9l1.55 1.55l-1.55 1.55l-1.55 -1.55zM241.8 210.9l1.55 1.55l-1.55 1.55l-1.55 -1.55zM224.9 208.1l1.55 1.55l-1.55 1.55l-1.55 -1.55zM258.9 217.4l1.55 1.55l-1.55 1.55l-1.55 -1.55zM242.1 211.0l1.55 1.55l-1.55 1.55l-1.55 -1.55zM253.8 204.6l1.55 1.55l-1.55 1.55l-1.55 -1.55zM229.6 209.8l1.55 1.55l-1.55 1.55l-1.55 -1.55zM253.4 225.6l1.55 1.55l-1.55 1.55l-1.55 -1.55zM248.5 211.7l1.55 1.55l-1.55 1.55l-1.55 -1.55zM252.1 206.2l1.55 1.55l-1.55 1.55l-1.55 -1.55zM232.2 213.5l1.55 1.55l-1.55 1.55l-1.55 -1.55zM258.4 218.2l1.55 1.55l-1.55 1.55l-1.55 -1.55zM224.1 233.9l1.55 1.55l-1.55 1.55l-1.55 -1.55zM263.8 221.7l1.55 1.55l-1.55 1.55l-1.55 -1.55zM246.0 208.8l1.55 1.55l-1.55 1.55l-1.55 -1.55zM260.6 222.4l1.55 1.55l-1.55 1.55l-1.55 -1.55zM228.1 217.5l1.55 1.55l-1.55 1.55l-1.55 -1.55zM245.1 204.7l1.55 1.55l-1.55 1.55l-1.55 -1.55zM234.2 205.4l1.55 1.55l-1.55 1.55l-1.55 -1.55zM261.7 222.8l1.55 1.55l-1.55 1.55l-1.55 -1.55zM233.8 209.1l1.55 1.55l-1.55 1.55l-1.55 -1.55zM233.0 212.9l1.55 1.55l-1.55 1.55l-1.55 -1.55zM245.5 208.0l1.55 1.55l-1.55 1.55l-1.55 -1.55zM259.2 215.4l1.55 1.55l-1.55 1.55l-1.55 -1.55zM239.7 208.0l1.55 1.55l-1.55 1.55l-1.55 -1.55zM225.6 217.8l1.55 1.55l-1.55 1.55l-1.55 -1.55zM249.8 206.9l1.55 1.55l-1.55 1.55l-1.55 -1.55zM224.7 214.8l1.55 1.55l-1.55 1.55l-1.55 -1.55zM251.9 210.8l1.55 1.55l-1.55 1.55l-1.55 -1.55zM230.0 216.6l1.55 1.55l-1.55 1.55l-1.55 -1.55zM232.9 209.1l1.55 1.55l-1.55 1.55l-1.55 -1.55zM261.1 214.7l1.55 1.55l-1.55 1.55l-1.55 -1.55zM226.4 213.8l1.55 1.55l-1.55 1.55l-1.55 -1.55zM238.9 206.2l1.55 1.55l-1.55 1.55l-1.55 -1.55zM247.5 204.1l1.55 1.55l-1.55 1.55l-1.55 -1.55zM236.9 203.4l1.55 1.55l-1.55 1.55l-1.55 -1.55zM225.7 216.3l1.55 1.55l-1.55 1.55l-1.55 -1.55zM224.9 217.0l1.55 1.55l-1.55 1.55l-1.55 -1.55zM263.5 233.0l1.55 1.55l-1.55 1.55l-1.55 -1.55zM225.1 212.3l1.55 1.55l-1.55 1.55l-1.55 -1.55zM226.6 203.7l1.55 1.55l-1.55 1.55l-1.55 -1.55zM249.5 210.4l1.55 1.55l-1.55 1.55l-1.55 -1.55zM233.9 211.7l1.55 1.55l-1.55 1.55l-1.55 -1.55zM228.7 210.7l1.55 1.55l-1.55 1.55l-1.55 -1.55zM244.5 206.4l1.55 1.55l-1.55 1.55l-1.55 -1.55zM229.5 203.1l1.55 1.55l-1.55 1.55l-1.55 -1.55zM248.0 206.9l1.55 1.55l-1.55 1.55l-1.55 -1.55zM249.6 213.6l1.55 1.55l-1.55 1.55l-1.55 -1.55zM259.8 212.5l1.55 1.55l-1.55 1.55l-1.55 -1.55zM232.8 215.6l1.55 1.55l-1.55 1.55l-1.55 -1.55zM238.8 202.6l1.55 1.55l-1.55 1.55l-1.55 -1.55zM255.3 211.1l1.55 1.55l-1.55 1.55l-1.55 -1.55zM242.8 211.1l1.55 1.55l-1.55 1.55l-1.55 -1.55zM259.4 212.7l1.55 1.55l-1.55 1.55l-1.55 -1.55zM233.0 204.2l1.55 1.55l-1.55 1.55l-1.55 -1.55zM253.5 211.8l1.55 1.55l-1.55 1.55l-1.55 -1.55zM229.0 204.1l1.55 1.55l-1.55 1.55l-1.55 -1.55zM224.7 206.8l1.55 1.55l-1.55 1.55l-1.55 -1.55zM247.6 210.2l1.55 1.55l-1.55 1.55l-1.55 -1.55zM262.1 218.3l1.55 1.55l-1.55 1.55l-1.55 -1.55zM231.6 206.2l1.55 1.55l-1.55 1.55l-1.55 -1.55zM263.6 225.5l1.55 1.55l-1.55 1.55l-1.55 -1.55zM231.5 207.3l1.55 1.55l-1.55 1.55l-1.55 -1.55zM242.5 206.7l1.55 1.55l-1.55 1.55l-1.55 -1.55zM253.3 209.7l1.55 1.55l-1.55 1.55l-1.55 -1.55zM250.0 203.4l1.55 1.55l-1.55 1.55l-1.55 -1.55zM260.9 220.5l1.55 1.55l-1.55 1.55l-1.55 -1.55zM242.7 204.3l1.55 1.55l-1.55 1.55l-1.55 -1.55zM226.1 217.0l1.55 1.55l-1.55 1.55l-1.55 -1.55zM256.5 213.7l1.55 1.55l-1.55 1.55l-1.55 -1.55zM261.6 217.4l1.55 1.55l-1.55 1.55l-1.55 -1.55zM252.8 203.8l1.55 1.55l-1.55 1.55l-1.55 -1.55zM244.6 208.3l1.55 1.55l-1.55 1.55l-1.55 -1.55zM232.2 212.5l1.55 1.55l-1.55 1.55l-1.55 -1.55zM242.2 210.8l1.55 1.55l-1.55 1.55l-1.55 -1.55zM238.2 208.5l1.55 1.55l-1.55 1.55l-1.55 -1.55zM244.9 205.0l1.55 1.55l-1.55 1.55l-1.55 -1.55zM237.3 206.6l1.55 1.55l-1.55 1.55l-1.55 -1.55zM234.0 205.0l1.55 1.55l-1.55 1.55l-1.55 -1.55zM225.5 215.7l1.55 1.55l-1.55 1.55l-1.55 -1.55zM236.4 201.6l1.55 1.55l-1.55 1.55l-1.55 -1.55zM258.0 215.0l1.55 1.55l-1.55 1.55l-1.55 -1.55zM226.3 206.1l1.55 1.55l-1.55 1.55l-1.55 -1.55zM256.2 212.4l1.55 1.55l-1.55 1.55l-1.55 -1.55zM250.3 213.9l1.55 1.55l-1.55 1.55l-1.55 -1.55zM255.6 211.2l1.55 1.55l-1.55 1.55l-1.55 -1.55zM228.8 215.3l1.55 1.55l-1.55 1.55l-1.55 -1.55zM255.4 217.6l1.55 1.55l-1.55 1.55l-1.55 -1.55zM238.8 206.6l1.55 1.55l-1.55 1.55l-1.55 -1.55zM229.2 205.8l1.55 1.55l-1.55 1.55l-1.55 -1.55zM232.9 208.0l1.55 1.55l-1.55 1.55l-1.55 -1.55zM232.7 207.0l1.55 1.55l-1.55 1.55l-1.55 -1.55zM233.5 204.2l1.55 1.55l-1.55 1.55l-1.55 -1.55zM225.5 210.0l1.55 1.55l-1.55 1.55l-1.55 -1.55zM258.8 214.0l1.55 1.55l-1.55 1.55l-1.55 -1.55zM264.1 227.0l1.55 1.55l-1.55 1.55l-1.55 -1.55zM225.3 217.0l1.55 1.55l-1.55 1.55l-1.55 -1.55zM237.6 194.1l1.55 1.55l-1.55 1.55l-1.55 -1.55zM237.3 208.6l1.55 1.55l-1.55 1.55l-1.55 -1.55zM234.5 210.6l1.55 1.55l-1.55 1.55l-1.55 -1.55zM250.9 205.6l1.55 1.55l-1.55 1.55l-1.55 -1.55zM235.0 206.8l1.55 1.55l-1.55 1.55l-1.55 -1.55zM255.5 210.6l1.55 1.55l-1.55 1.55l-1.55 -1.55zM237.7 205.8l1.55 1.55l-1.55 1.55l-1.55 -1.55zM243.5 204.0l1.55 1.55l-1.55 1.55l-1.55 -1.55zM240.3 207.4l1.55 1.55l-1.55 1.55l-1.55 -1.55zM249.2 222.1l1.55 1.55l-1.55 1.55l-1.55 -1.55zM230.9 210.7l1.55 1.55l-1.55 1.55l-1.55 -1.55zM225.3 221.1l1.55 1.55l-1.55 1.55l-1.55 -1.55zM252.0 206.6l1.55 1.55l-1.55 1.55l-1.55 -1.55zM254.6 214.3l1.55 1.55l-1.55 1.55l-1.55 -1.55zM262.8 224.1l1.55 1.55l-1.55 1.55l-1.55 -1.55zM226.0 218.1l1.55 1.55l-1.55 1.55l-1.55 -1.55zM228.7 211.8l1.55 1.55l-1.55 1.55l-1.55 -1.55zM250.9 205.2l1.55 1.55l-1.55 1.55l-1.55 -1.55zM229.6 210.5l1.55 1.55l-1.55 1.55l-1.55 -1.55zM227.0 211.3l1.55 1.55l-1.55 1.55l-1.55 -1.55zM250.4 205.8l1.55 1.55l-1.55 1.55l-1.55 -1.55zM237.3 203.4l1.55 1.55l-1.55 1.55l-1.55 -1.55zM242.2 208.8l1.55 1.55l-1.55 1.55l-1.55 -1.55zM235.5 209.2l1.55 1.55l-1.55 1.55l-1.55 -1.55zM232.2 205.5l1.55 1.55l-1.55 1.55l-1.55 -1.55zM260.1 215.7l1.55 1.55l-1.55 1.55l-1.55 -1.55zM257.3 209.1l1.55 1.55l-1.55 1.55l-1.55 -1.55zM233.7 212.4l1.55 1.55l-1.55 1.55l-1.55 -1.55zM253.5 209.1l1.55 1.55l-1.55 1.55l-1.55 -1.55zM231.5 205.2l1.55 1.55l-1.55 1.55l-1.55 -1.55zM225.3 217.1l1.55 1.55l-1.55 1.55l-1.55 -1.55zM235.6 204.5l1.55 1.55l-1.55 1.55l-1.55 -1.55zM239.8 209.4l1.55 1.55l-1.55 1.55l-1.55 -1.55zM229.1 206.8l1.55 1.55l-1.55 1.55l-1.55 -1.55zM241.5 202.6l1.55 1.55l-1.55 1.55l-1.55 -1.55zM258.4 210.6l1.55 1.55l-1.55 1.55l-1.55 -1.55zM238.2 208.6l1.55 1.55l-1.55 1.55l-1.55 -1.55zM225.8 206.3l1.55 1.55l-1.55 1.55l-1.55 -1.55zM246.8 204.5l1.55 1.55l-1.55 1.55l-1.55 -1.55zM228.1 211.7l1.55 1.55l-1.55 1.55l-1.55 -1.55zM240.2 201.7l1.55 1.55l-1.55 1.55l-1.55 -1.55zM243.8 203.9l1.55 1.55l-1.55 1.55l-1.55 -1.55zM233.3 209.6l1.55 1.55l-1.55 1.55l-1.55 -1.55zM250.5 212.5l1.55 1.55l-1.55 1.55l-1.55 -1.55zM260.6 213.6l1.55 1.55l-1.55 1.55l-1.55 -1.55zM234.6 206.1l1.55 1.55l-1.55 1.55l-1.55 -1.55zM252.9 204.9l1.55 1.55l-1.55 1.55l-1.55 -1.55zM237.9 208.5l1.55 1.55l-1.55 1.55l-1.55 -1.55zM238.8 207.6l1.55 1.55l-1.55 1.55l-1.55 -1.55zM262.3 219.6l1.55 1.55l-1.55 1.55l-1.55 -1.55zM243.8 204.5l1.55 1.55l-1.55 1.55l-1.55 -1.55zM243.2 212.9l1.55 1.55l-1.55 1.55l-1.55 -1.55zM243.9 208.6l1.55 1.55l-1.55 1.55l-1.55 -1.55zM245.4 204.9l1.55 1.55l-1.55 1.55l-1.55 -1.55z" fill="none" stroke="#cc1488" stroke-width="1.0"/>
<g fill="#22b34a"><circle cx="260.1" cy="215.6" r="2.4"/><circle cx="245.2" cy="209.5" r="2.4"/><circle cx="257.5" cy="213.3" r="2.4"/><circle cx="236.2" cy="210.6" r="2.4"/><circle cx="226.7" cy="223.4" r="2.4"/><circle cx="225.9" cy="230.2" r="2.4"/><circle cx="246.9" cy="206.6" r="2.4"/></g>
<g fill="#22b34a"><circle cx="356.2" cy="212.3" r="2.4"/><circle cx="354.9" cy="202.5" r="2.4"/><circle cx="341.8" cy="213.8" r="2.4"/><circle cx="349.4" cy="212.5" r="2.4"/><circle cx="373.6" cy="205.9" r="2.4"/><circle cx="380.2" cy="220.0" r="2.4"/><circle cx="347.1" cy="201.8" r="2.4"/><circle cx="358.5" cy="197.8" r="2.4"/><circle cx="383.3" cy="218.8" r="2.4"/><circle cx="362.1" cy="209.1" r="2.4"/><circle cx="341.4" cy="209.2" r="2.4"/><circle cx="353.6" cy="206.0" r="2.4"/><circle cx="344.7" cy="215.6" r="2.4"/><circle cx="349.1" cy="202.4" r="2.4"/><circle cx="363.9" cy="201.3" r="2.4"/><circle cx="369.2" cy="207.0" r="2.4"/><circle cx="348.8" cy="207.0" r="2.4"/><circle cx="371.9" cy="207.0" r="2.4"/><circle cx="384.1" cy="223.9" r="2.4"/><circle cx="345.2" cy="205.0" r="2.4"/><circle cx="385.6" cy="226.1" r="2.4"/><circle cx="373.1" cy="213.3" r="2.4"/><circle cx="371.1" cy="202.9" r="2.4"/><circle cx="357.3" cy="198.7" r="2.4"/><circle cx="340.9" cy="205.8" r="2.4"/><circle cx="356.6" cy="208.1" r="2.4"/><circle cx="354.9" cy="205.3" r="2.4"/><circle cx="378.2" cy="216.3" r="2.4"/><circle cx="359.9" cy="199.5" r="2.4"/><circle cx="354.5" cy="213.9" r="2.4"/><circle cx="367.5" cy="213.3" r="2.4"/><circle cx="373.4" cy="206.2" r="2.4"/><circle cx="339.9" cy="215.6" r="2.4"/><circle cx="351.2" cy="201.1" r="2.4"/><circle cx="362.3" cy="208.9" r="2.4"/><circle cx="371.2" cy="209.5" r="2.4"/><circle cx="362.8" cy="201.6" r="2.4"/><circle cx="349.3" cy="207.4" r="2.4"/><circle cx="373.4" cy="201.6" r="2.4"/><circle cx="360.5" cy="205.0" r="2.4"/><circle cx="383.1" cy="225.4" r="2.4"/><circle cx="381.1" cy="216.8" r="2.4"/><circle cx="339.4" cy="219.7" r="2.4"/><circle cx="344.1" cy="214.2" r="2.4"/><circle cx="366.9" cy="202.1" r="2.4"/><circle cx="362.7" cy="202.5" r="2.4"/><circle cx="351.0" cy="213.5" r="2.4"/><circle cx="366.4" cy="215.6" r="2.4"/><circle cx="371.1" cy="200.7" r="2.4"/><circle cx="376.5" cy="212.7" r="2.4"/><circle cx="342.4" cy="210.1" r="2.4"/><circle cx="359.4" cy="203.5" r="2.4"/><circle cx="355.3" cy="191.6" r="2.4"/><circle cx="352.9" cy="204.5" r="2.4"/><circle cx="355.1" cy="201.1" r="2.4"/><circle cx="362.5" cy="206.6" r="2.4"/><circle cx="344.7" cy="201.7" r="2.4"/><circle cx="367.0" cy="201.1" r="2.4"/><circle cx="364.3" cy="204.4" r="2.4"/><circle cx="368.4" cy="184.6" r="2.4"/><circle cx="364.5" cy="208.6" r="2.4"/><circle cx="345.7" cy="200.0" r="2.4"/><circle cx="352.6" cy="214.5" r="2.4"/><circle cx="357.7" cy="204.1" r="2.4"/><circle cx="347.3" cy="207.5" r="2.4"/><circle cx="373.9" cy="211.8" r="2.4"/><circle cx="354.6" cy="210.7" r="2.4"/><circle cx="367.5" cy="198.4" r="2.4"/><circle cx="379.0" cy="213.4" r="2.4"/><circle cx="370.5" cy="197.7" r="2.4"/><circle cx="359.6" cy="198.5" r="2.4"/><circle cx="359.7" cy="210.0" r="2.4"/><circle cx="379.7" cy="219.7" r="2.4"/><circle cx="343.9" cy="216.2" r="2.4"/><circle cx="379.5" cy="216.1" r="2.4"/><circle cx="372.9" cy="208.6" r="2.4"/><circle cx="370.0" cy="205.6" r="2.4"/><circle cx="348.2" cy="198.0" r="2.4"/><circle cx="352.1" cy="212.4" r="2.4"/><circle cx="353.4" cy="206.5" r="2.4"/><circle cx="350.4" cy="210.9" r="2.4"/><circle cx="345.3" cy="208.0" r="2.4"/><circle cx="375.9" cy="216.8" r="2.4"/><circle cx="360.3" cy="214.3" r="2.4"/><circle cx="384.5" cy="227.5" r="2.4"/><circle cx="341.3" cy="218.4" r="2.4"/><circle cx="367.9" cy="211.9" r="2.4"/><circle cx="338.6" cy="241.2" r="2.4"/><circle cx="367.5" cy="213.9" r="2.4"/><circle cx="343.0" cy="202.0" r="2.4"/><circle cx="385.0" cy="226.2" r="2.4"/><circle cx="345.7" cy="199.9" r="2.4"/><circle cx="356.3" cy="211.9" r="2.4"/><circle cx="378.2" cy="216.0" r="2.4"/><circle cx="373.6" cy="201.6" r="2.4"/><circle cx="350.8" cy="213.1" r="2.4"/><circle cx="343.6" cy="216.6" r="2.4"/><circle cx="386.8" cy="241.9" r="2.4"/><circle cx="354.6" cy="214.6" r="2.4"/><circle cx="349.5" cy="199.7" r="2.4"/><circle cx="358.7" cy="207.3" r="2.4"/><circle cx="372.3" cy="200.1" r="2.4"/><circle cx="374.4" cy="213.4" r="2.4"/><circle cx="339.8" cy="217.9" r="2.4"/><circle cx="365.7" cy="201.0" r="2.4"/><circle cx="355.5" cy="211.3" r="2.4"/><circle cx="375.1" cy="215.9" r="2.4"/><circle cx="344.1" cy="208.2" r="2.4"/><circle cx="353.2" cy="201.6" r="2.4"/><circle cx="355.7" cy="211.8" r="2.4"/><circle cx="349.4" cy="209.1" r="2.4"/><circle cx="374.7" cy="211.2" r="2.4"/><circle cx="359.3" cy="203.3" r="2.4"/><circle cx="371.2" cy="206.6" r="2.4"/><circle cx="379.6" cy="220.1" r="2.4"/><circle cx="364.6" cy="203.5" r="2.4"/><circle cx="368.7" cy="210.8" r="2.4"/><circle cx="370.6" cy="207.2" r="2.4"/></g>
<path d="M347.1 196.4l1.55 1.55l-1.55 1.55l-1.55 -1.55zM355.6 209.8l1.55 1.55l-1.55 1.55l-1.55 -1.55zM376.8 217.2l1.55 1.55l-1.55 1.55l-1.55 -1.55zM377.8 210.7l1.55 1.55l-1.55 1.55l-1.55 -1.55zM376.9 210.6l1.55 1.55l-1.55 1.55l-1.55 -1.55zM370.6 206.0l1.55 1.55l-1.55 1.55l-1.55 -1.55zM375.4 214.5l1.55 1.55l-1.55 1.55l-1.55 -1.55zM357.6 203.8l1.55 1.55l-1.55 1.55l-1.55 -1.55zM373.7 212.3l1.55 1.55l-1.55 1.55l-1.55 -1.55zM378.8 214.9l1.55 1.55l-1.55 1.55l-1.55 -1.55zM383.6 228.5l1.55 1.55l-1.55 1.55l-1.55 -1.55zM364.3 201.3l1.55 1.55l-1.55 1.55l-1.55 -1.55zM356.0 209.5l1.55 1.55l-1.55 1.55l-1.55 -1.55zM353.8 206.2l1.55 1.55l-1.55 1.55l-1.55 -1.55zM357.3 208.7l1.55 1.55l-1.55 1.55l-1.55 -1.55zM343.4 206.9l1.55 1.55l-1.55 1.55l-1.55 -1.55zM375.9 211.2l1.55 1.55l-1.55 1.55l-1.55 -1.55zM341.4 208.0l1.55 1.55l-1.55 1.55l-1.55 -1.55zM356.7 201.9l1.55 1.55l-1.55 1.55l-1.55 -1.55zM349.6 205.7l1.55 1.55l-1.55 1.55l-1.55 -1.55zM378.1 219.2l1.55 1.55l-1.55 1.55l-1.55 -1.55zM349.3 196.9l1.55 1.55l-1.55 1.55l-1.55 -1.55zM340.4 206.8l1.55 1.55l-1.55 1.55l-1.55 -1.55zM369.1 200.6l1.55 1.55l-1.55 1.55l-1.55 -1.55zM372.3 206.2l1.55 1.55l-1.55 1.55l-1.55 -1.55zM380.7 218.1l1.55 1.55l-1.55 1.55l-1.55 -1.55zM342.4 211.1l1.55 1.55l-1.55 1.55l-1.55 -1.55zM357.0 199.5l1.55 1.55l-1.55 1.55l-1.55 -1.55zM379.0 220.6l1.55 1.55l-1.55 1.55l-1.55 -1.55zM358.5 201.0l1.55 1.55l-1.55 1.55l-1.55 -1.55zM358.8 197.5l1.55 1.55l-1.55 1.55l-1.55 -1.55zM372.2 204.8l1.55 1.55l-1.55 1.55l-1.55 -1.55zM353.4 209.0l1.55 1.55l-1.55 1.55l-1.55 -1.55zM373.7 212.1l1.55 1.55l-1.55 1.55l-1.55 -1.55zM344.4 201.8l1.55 1.55l-1.55 1.55l-1.55 -1.55zM379.9 217.7l1.55 1.55l-1.55 1.55l-1.55 -1.55zM364.8 204.2l1.55 1.55l-1.55 1.55l-1.55 -1.55zM352.7 211.0l1.55 1.55l-1.55 1.55l-1.55 -1.55zM349.4 199.9l1.55 1.55l-1.55 1.55l-1.55 -1.55zM360.6 207.9l1.55 1.55l-1.55 1.55l-1.55 -1.55zM365.5 210.0l1.55 1.55l-1.55 1.55l-1.55 -1.55zM356.0 202.3l1.55 1.55l-1.55 1.55l-1.55 -1.55zM354.8 198.6l1.55 1.55l-1.55 1.55l-1.55 -1.55zM357.5 205.2l1.55 1.55l-1.55 1.55l-1.55 -1.55zM356.1 200.6l1.55 1.55l-1.55 1.55l-1.55 -1.55zM376.1 208.5l1.55 1.55l-1.55 1.55l-1.55 -1.55zM340.7 205.9l1.55 1.55l-1.55 1.55l-1.55 -1.55zM366.5 208.9l1.55 1.55l-1.55 1.55l-1.55 -1.55zM383.2 220.9l1.55 1.55l-1.55 1.55l-1.55 -1.55zM343.4 207.4l1.55 1.55l-1.55 1.55l-1.55 -1.55zM343.8 203.2l1.55 1.55l-1.55 1.55l-1.55 -1.55zM361.8 200.1l1.55 1.55l-1.55 1.55l-1.55 -1.55zM346.5 199.5l1.55 1.55l-1.55 1.55l-1.55 -1.55zM364.1 208.6l1.55 1.55l-1.55 1.55l-1.55 -1.55zM383.8 225.8l1.55 1.55l-1.55 1.55l-1.55 -1.55zM375.1 206.1l1.55 1.55l-1.55 1.55l-1.55 -1.55zM345.9 204.3l1.55 1.55l-1.55 1.55l-1.55 -1.55zM347.8 205.8l1.55 1.55l-1.55 1.55l-1.55 -1.55zM344.1 203.0l1.55 1.55l-1.55 1.55l-1.55 -1.55zM359.4 203.0l1.55 1.55l-1.55 1.55l-1.55 -1.55zM360.1 204.6l1.55 1.55l-1.55 1.55l-1.55 -1.55zM371.1 205.5l1.55 1.55l-1.55 1.55l-1.55 -1.55zM340.8 213.1l1.55 1.55l-1.55 1.55l-1.55 -1.55zM364.4 204.3l1.55 1.55l-1.55 1.55l-1.55 -1.55zM357.4 206.8l1.55 1.55l-1.55 1.55l-1.55 -1.55zM351.7 202.9l1.55 1.55l-1.55 1.55l-1.55 -1.55zM371.3 203.5l1.55 1.55l-1.55 1.55l-1.55 -1.55zM349.1 199.1l1.55 1.55l-1.55 1.55l-1.55 -1.55zM375.9 213.7l1.55 1.55l-1.55 1.55l-1.55 -1.55zM351.1 205.9l1.55 1.55l-1.55 1.55l-1.55 -1.55zM355.6 200.6l1.55 1.55l-1.55 1.55l-1.55 -1.55zM375.7 216.5l1.55 1.55l-1.55 1.55l-1.55 -1.55zM370.9 207.0l1.55 1.55l-1.55 1.55l-1.55 -1.55zM376.4 218.1l1.55 1.55l-1.55 1.55l-1.55 -1.55zM372.5 211.8l1.55 1.55l-1.55 1.55l-1.55 -1.55zM346.8 208.8l1.55 1.55l-1.55 1.55l-1.55 -1.55zM360.8 203.1l1.55 1.55l-1.55 1.55l-1.55 -1.55zM345.3 211.2l1.55 1.55l-1.55 1.55l-1.55 -1.55zM376.8 213.2l1.55 1.55l-1.55 1.55l-1.55 -1.55zM355.3 206.3l1.55 1.55l-1.55 1.55l-1.55 -1.55zM345.0 200.8l1.55 1.55l-1.55 1.55l-1.55 -1.55zM345.0 208.5l1.55 1.55l-1.55 1.55l-1.55 -1.55zM375.4 215.3l1.55 1.55l-1.55 1.55l-1.55 -1.55zM348.2 208.4l1.55 1.55l-1.55 1.55l-1.55 -1.55zM367.9 205.4l1.55 1.55l-1.55 1.55l-1.55 -1.55zM357.5 204.4l1.55 1.55l-1.55 1.55l-1.55 -1.55zM377.7 214.4l1.55 1.55l-1.55 1.55l-1.55 -1.55zM357.4 198.3l1.55 1.55l-1.55 1.55l-1.55 -1.55zM363.8 209.0l1.55 1.55l-1.55 1.55l-1.55 -1.55zM355.9 205.9l1.55 1.55l-1.55 1.55l-1.55 -1.55zM352.4 206.9l1.55 1.55l-1.55 1.55l-1.55 -1.55zM366.0 201.1l1.55 1.55l-1.55 1.55l-1.55 -1.55zM357.6 198.8l1.55 1.55l-1.55 1.55l-1.55 -1.55zM364.2 204.6l1.55 1.55l-1.55 1.55l-1.55 -1.55zM367.7 207.7l1.55 1.55l-1.55 1.55l-1.55 -1.55zM346.6 209.0l1.55 1.55l-1.55 1.55l-1.55 -1.55zM376.7 214.0l1.55 1.55l-1.55 1.55l-1.55 -1.55zM365.1 204.9l1.55 1.55l-1.55 1.55l-1.55 -1.55zM372.7 210.6l1.55 1.55l-1.55 1.55l-1.55 -1.55zM379.6 222.9l1.55 1.55l-1.55 1.55l-1.55 -1.55zM380.9 224.9l1.55 1.55l-1.55 1.55l-1.55 -1.55zM340.7 213.2l1.55 1.55l-1.55 1.55l-1.55 -1.55zM362.6 202.1l1.55 1.55l-1.55 1.55l-1.55 -1.55zM364.7 205.7l1.55 1.55l-1.55 1.55l-1.55 -1.55zM361.1 207.8l1.55 1.55l-1.55 1.55l-1.55 -1.55zM362.4 198.0l1.55 1.55l-1.55 1.55l-1.55 -1.55zM370.7 203.2l1.55 1.55l-1.55 1.55l-1.55 -1.55zM361.1 201.7l1.55 1.55l-1.55 1.55l-1.55 -1.55zM370.8 207.8l1.55 1.55l-1.55 1.55l-1.55 -1.55zM361.2 202.7l1.55 1.55l-1.55 1.55l-1.55 -1.55zM375.9 216.3l1.55 1.55l-1.55 1.55l-1.55 -1.55zM364.7 207.9l1.55 1.55l-1.55 1.55l-1.55 -1.55zM380.3 217.1l1.55 1.55l-1.55 1.55l-1.55 -1.55zM344.9 209.4l1.55 1.55l-1.55 1.55l-1.55 -1.55zM367.7 205.6l1.55 1.55l-1.55 1.55l-1.55 -1.55zM350.3 195.9l1.55 1.55l-1.55 1.55l-1.55 -1.55zM360.8 202.0l1.55 1.55l-1.55 1.55l-1.55 -1.55zM365.1 200.8l1.55 1.55l-1.55 1.55l-1.55 -1.55zM383.4 228.7l1.55 1.55l-1.55 1.55l-1.55 -1.55zM356.3 203.7l1.55 1.55l-1.55 1.55l-1.55 -1.55zM346.5 198.1l1.55 1.55l-1.55 1.55l-1.55 -1.55zM384.7 225.6l1.55 1.55l-1.55 1.55l-1.55 -1.55zM361.2 204.1l1.55 1.55l-1.55 1.55l-1.55 -1.55zM367.0 207.2l1.55 1.55l-1.55 1.55l-1.55 -1.55zM381.4 218.5l1.55 1.55l-1.55 1.55l-1.55 -1.55zM357.5 200.6l1.55 1.55l-1.55 1.55l-1.55 -1.55zM340.7 216.8l1.55 1.55l-1.55 1.55l-1.55 -1.55zM340.5 207.2l1.55 1.55l-1.55 1.55l-1.55 -1.55zM367.8 207.2l1.55 1.55l-1.55 1.55l-1.55 -1.55zM378.2 213.2l1.55 1.55l-1.55 1.55l-1.55 -1.55zM346.8 201.6l1.55 1.55l-1.55 1.55l-1.55 -1.55zM350.9 197.3l1.55 1.55l-1.55 1.55l-1.55 -1.55zM341.5 208.5l1.55 1.55l-1.55 1.55l-1.55 -1.55zM374.8 210.6l1.55 1.55l-1.55 1.55l-1.55 -1.55zM357.9 205.0l1.55 1.55l-1.55 1.55l-1.55 -1.55zM360.8 200.8l1.55 1.55l-1.55 1.55l-1.55 -1.55zM354.6 198.8l1.55 1.55l-1.55 1.55l-1.55 -1.55zM344.8 204.7l1.55 1.55l-1.55 1.55l-1.55 -1.55zM348.6 205.2l1.55 1.55l-1.55 1.55l-1.55 -1.55zM359.1 206.2l1.55 1.55l-1.55 1.55l-1.55 -1.55zM361.9 203.8l1.55 1.55l-1.55 1.55l-1.55 -1.55zM363.8 208.7l1.55 1.55l-1.55 1.55l-1.55 -1.55zM359.9 201.8l1.55 1.55l-1.55 1.55l-1.55 -1.55zM343.1 210.3l1.55 1.55l-1.55 1.55l-1.55 -1.55zM383.0 228.1l1.55 1.55l-1.55 1.55l-1.55 -1.55zM368.7 205.0l1.55 1.55l-1.55 1.55l-1.55 -1.55zM361.5 202.7l1.55 1.55l-1.55 1.55l-1.55 -1.55zM364.5 204.8l1.55 1.55l-1.55 1.55l-1.55 -1.55zM356.4 198.1l1.55 1.55l-1.55 1.55l-1.55 -1.55zM377.0 210.4l1.55 1.55l-1.55 1.55l-1.55 -1.55zM384.1 230.9l1.55 1.55l-1.55 1.55l-1.55 -1.55zM378.5 219.5l1.55 1.55l-1.55 1.55l-1.55 -1.55zM350.1 205.4l1.55 1.55l-1.55 1.55l-1.55 -1.55zM353.5 198.1l1.55 1.55l-1.55 1.55l-1.55 -1.55zM344.3 202.0l1.55 1.55l-1.55 1.55l-1.55 -1.55zM362.7 204.3l1.55 1.55l-1.55 1.55l-1.55 -1.55zM348.9 210.0l1.55 1.55l-1.55 1.55l-1.55 -1.55zM375.0 209.6l1.55 1.55l-1.55 1.55l-1.55 -1.55zM341.4 206.3l1.55 1.55l-1.55 1.55l-1.55 -1.55zM359.7 201.2l1.55 1.55l-1.55 1.55l-1.55 -1.55zM353.0 207.6l1.55 1.55l-1.55 1.55l-1.55 -1.55zM340.9 226.9l1.55 1.55l-1.55 1.55l-1.55 -1.55zM370.0 210.6l1.55 1.55l-1.55 1.55l-1.55 -1.55zM357.8 208.9l1.55 1.55l-1.55 1.55l-1.55 -1.55zM354.6 205.5l1.55 1.55l-1.55 1.55l-1.55 -1.55zM372.2 205.9l1.55 1.55l-1.55 1.55l-1.55 -1.55zM347.5 201.2l1.55 1.55l-1.55 1.55l-1.55 -1.55zM350.6 201.0l1.55 1.55l-1.55 1.55l-1.55 -1.55zM354.4 206.1l1.55 1.55l-1.55 1.55l-1.55 -1.55zM368.5 204.5l1.55 1.55l-1.55 1.55l-1.55 -1.55zM383.2 229.1l1.55 1.55l-1.55 1.55l-1.55 -1.55zM352.2 205.0l1.55 1.55l-1.55 1.55l-1.55 -1.55zM368.7 209.4l1.55 1.55l-1.55 1.55l-1.55 -1.55zM349.2 204.8l1.55 1.55l-1.55 1.55l-1.55 -1.55zM367.8 203.8l1.55 1.55l-1.55 1.55l-1.55 -1.55zM369.5 209.8l1.55 1.55l-1.55 1.55l-1.55 -1.55zM384.5 228.1l1.55 1.55l-1.55 1.55l-1.55 -1.55zM380.4 224.6l1.55 1.55l-1.55 1.55l-1.55 -1.55zM348.5 200.8l1.55 1.55l-1.55 1.55l-1.55 -1.55zM344.2 206.2l1.55 1.55l-1.55 1.55l-1.55 -1.55zM368.8 204.3l1.55 1.55l-1.55 1.55l-1.55 -1.55zM361.4 206.3l1.55 1.55l-1.55 1.55l-1.55 -1.55zM350.4 203.9l1.55 1.55l-1.55 1.55l-1.55 -1.55zM361.5 200.6l1.55 1.55l-1.55 1.55l-1.55 -1.55zM367.3 205.6l1.55 1.55l-1.55 1.55l-1.55 -1.55zM350.7 210.3l1.55 1.55l-1.55 1.55l-1.55 -1.55zM354.9 200.1l1.55 1.55l-1.55 1.55l-1.55 -1.55zM363.4 207.3l1.55 1.55l-1.55 1.55l-1.55 -1.55zM351.3 200.6l1.55 1.55l-1.55 1.55l-1.55 -1.55zM370.8 200.7l1.55 1.55l-1.55 1.55l-1.55 -1.55zM360.5 206.2l1.55 1.55l-1.55 1.55l-1.55 -1.55zM373.7 212.5l1.55 1.55l-1.55 1.55l-1.55 -1.55zM360.3 203.5l1.55 1.55l-1.55 1.55l-1.55 -1.55zM344.7 207.2l1.55 1.55l-1.55 1.55l-1.55 -1.55zM342.9 209.0l1.55 1.55l-1.55 1.55l-1.55 -1.55zM366.1 188.3l1.55 1.55l-1.55 1.55l-1.55 -1.55zM355.2 197.4l1.55 1.55l-1.55 1.55l-1.55 -1.55zM347.9 196.4l1.55 1.55l-1.55 1.55l-1.55 -1.55zM349.7 197.0l1.55 1.55l-1.55 1.55l-1.55 -1.55zM360.6 202.9l1.55 1.55l-1.55 1.55l-1.55 -1.55zM371.7 204.0l1.55 1.55l-1.55 1.55l-1.55 -1.55zM353.5 199.2l1.55 1.55l-1.55 1.55l-1.55 -1.55zM375.4 214.2l1.55 1.55l-1.55 1.55l-1.55 -1.55zM351.8 208.4l1.55 1.55l-1.55 1.55l-1.55 -1.55zM378.7 215.9l1.55 1.55l-1.55 1.55l-1.55 -1.55zM348.5 206.7l1.55 1.55l-1.55 1.55l-1.55 -1.55zM349.8 209.1l1.55 1.55l-1.55 1.55l-1.55 -1.55zM356.9 208.9l1.55 1.55l-1.55 1.55l-1.55 -1.55zM366.3 205.0l1.55 1.55l-1.55 1.55l-1.55 -1.55zM374.1 207.9l1.55 1.55l-1.55 1.55l-1.55 -1.55zM377.7 214.8l1.55 1.55l-1.55 1.55l-1.55 -1.55zM354.9 205.5l1.55 1.55l-1.55 1.55l-1.55 -1.55zM343.7 212.3l1.55 1.55l-1.55 1.55l-1.55 -1.55zM346.6 201.8l1.55 1.55l-1.55 1.55l-1.55 -1.55zM371.7 207.6l1.55 1.55l-1.55 1.55l-1.55 -1.55zM347.8 210.2l1.55 1.55l-1.55 1.55l-1.55 -1.55zM345.4 198.1l1.55 1.55l-1.55 1.55l-1.55 -1.55zM374.4 206.2l1.55 1.55l-1.55 1.55l-1.55 -1.55zM379.9 219.9l1.55 1.55l-1.55 1.55l-1.55 -1.55zM355.9 207.2l1.55 1.55l-1.55 1.55l-1.55 -1.55zM355.7 206.2l1.55 1.55l-1.55 1.55l-1.55 -1.55zM362.7 198.8l1.55 1.55l-1.55 1.55l-1.55 -1.55zM366.3 201.3l1.55 1.55l-1.55 1.55l-1.55 -1.55zM361.2 209.6l1.55 1.55l-1.55 1.55l-1.55 -1.55zM376.1 213.1l1.55 1.55l-1.55 1.55l-1.55 -1.55zM349.9 198.2l1.55 1.55l-1.55 1.55l-1.55 -1.55zM358.1 200.0l1.55 1.55l-1.55 1.55l-1.55 -1.55zM363.0 205.0l1.55 1.55l-1.55 1.55l-1.55 -1.55zM340.4 233.9l1.55 1.55l-1.55 1.55l-1.55 -1.55zM369.8 201.5l1.55 1.55l-1.55 1.55l-1.55 -1.55zM348.8 210.8l1.55 1.55l-1.55 1.55l-1.55 -1.55zM377.5 212.0l1.55 1.55l-1.55 1.55l-1.55 -1.55zM361.3 204.2l1.55 1.55l-1.55 1.55l-1.55 -1.55zM374.1 211.2l1.55 1.55l-1.55 1.55l-1.55 -1.55zM378.7 215.8l1.55 1.55l-1.55 1.55l-1.55 -1.55zM369.4 206.4l1.55 1.55l-1.55 1.55l-1.55 -1.55zM348.5 195.8l1.55 1.55l-1.55 1.55l-1.55 -1.55zM344.7 209.3l1.55 1.55l-1.55 1.55l-1.55 -1.55zM366.3 205.9l1.55 1.55l-1.55 1.55l-1.55 -1.55zM356.3 208.2l1.55 1.55l-1.55 1.55l-1.55 -1.55zM356.1 202.3l1.55 1.55l-1.55 1.55l-1.55 -1.55z" fill="none" stroke="#cc1488" stroke-width="1.0"/>
<g fill="#22b34a"><circle cx="345.8" cy="210.7" r="2.4"/><circle cx="361.6" cy="202.3" r="2.4"/><circle cx="355.5" cy="202.8" r="2.4"/><circle cx="361.5" cy="204.2" r="2.4"/><circle cx="368.1" cy="207.8" r="2.4"/><circle cx="375.1" cy="207.1" r="2.4"/><circle cx="342.8" cy="211.3" r="2.4"/><circle cx="349.1" cy="188.7" r="2.4"/></g>
<g fill="#22b34a"><circle cx="467.7" cy="206.8" r="2.4"/><circle cx="478.8" cy="205.7" r="2.4"/><circle cx="480.2" cy="215.1" r="2.4"/><circle cx="486.0" cy="209.6" r="2.4"/><circle cx="481.7" cy="214.1" r="2.4"/><circle cx="491.9" cy="211.8" r="2.4"/><circle cx="491.2" cy="220.9" r="2.4"/><circle cx="483.0" cy="214.2" r="2.4"/><circle cx="478.2" cy="215.5" r="2.4"/><circle cx="494.2" cy="226.7" r="2.4"/><circle cx="491.4" cy="216.1" r="2.4"/><circle cx="468.4" cy="204.8" r="2.4"/><circle cx="469.5" cy="221.1" r="2.4"/><circle cx="474.1" cy="209.8" r="2.4"/><circle cx="489.3" cy="215.8" r="2.4"/><circle cx="476.9" cy="202.3" r="2.4"/><circle cx="482.1" cy="216.1" r="2.4"/><circle cx="466.7" cy="212.7" r="2.4"/><circle cx="483.7" cy="219.8" r="2.4"/><circle cx="483.6" cy="213.4" r="2.4"/><circle cx="471.5" cy="210.3" r="2.4"/><circle cx="465.3" cy="231.9" r="2.4"/><circle cx="489.3" cy="209.4" r="2.4"/><circle cx="475.6" cy="210.1" r="2.4"/><circle cx="475.8" cy="211.1" r="2.4"/><circle cx="488.6" cy="213.6" r="2.4"/><circle cx="487.5" cy="218.6" r="2.4"/><circle cx="477.0" cy="212.8" r="2.4"/><circle cx="485.5" cy="219.0" r="2.4"/><circle cx="464.9" cy="228.4" r="2.4"/><circle cx="477.2" cy="215.1" r="2.4"/><circle cx="484.6" cy="205.0" r="2.4"/><circle cx="466.9" cy="206.0" r="2.4"/><circle cx="471.5" cy="213.6" r="2.4"/><circle cx="467.9" cy="227.5" r="2.4"/><circle cx="492.4" cy="214.8" r="2.4"/><circle cx="475.7" cy="218.9" r="2.4"/><circle cx="493.9" cy="220.7" r="2.4"/><circle cx="484.2" cy="218.9" r="2.4"/><circle cx="478.1" cy="205.6" r="2.4"/><circle cx="490.7" cy="221.0" r="2.4"/><circle cx="485.4" cy="195.1" r="2.4"/><circle cx="465.2" cy="230.6" r="2.4"/><circle cx="480.7" cy="206.7" r="2.4"/><circle cx="473.3" cy="207.4" r="2.4"/><circle cx="470.6" cy="216.6" r="2.4"/><circle cx="480.2" cy="207.6" r="2.4"/><circle cx="478.5" cy="219.5" r="2.4"/><circle cx="475.8" cy="217.6" r="2.4"/><circle cx="488.7" cy="217.3" r="2.4"/><circle cx="469.6" cy="210.9" r="2.4"/><circle cx="467.2" cy="229.3" r="2.4"/><circle cx="493.6" cy="218.0" r="2.4"/><circle cx="492.9" cy="214.9" r="2.4"/><circle cx="465.6" cy="218.2" r="2.4"/><circle cx="479.2" cy="207.9" r="2.4"/><circle cx="471.2" cy="220.1" r="2.4"/><circle cx="478.1" cy="212.8" r="2.4"/><circle cx="478.2" cy="209.7" r="2.4"/><circle cx="467.0" cy="204.8" r="2.4"/><circle cx="480.6" cy="214.3" r="2.4"/><circle cx="480.7" cy="209.5" r="2.4"/><circle cx="468.5" cy="220.5" r="2.4"/><circle cx="479.6" cy="210.1" r="2.4"/><circle cx="486.4" cy="210.6" r="2.4"/><circle cx="467.5" cy="216.3" r="2.4"/><circle cx="480.9" cy="211.6" r="2.4"/><circle cx="480.1" cy="204.5" r="2.4"/><circle cx="484.9" cy="207.1" r="2.4"/><circle cx="489.8" cy="196.0" r="2.4"/><circle cx="473.1" cy="213.1" r="2.4"/><circle cx="483.7" cy="218.2" r="2.4"/><circle cx="472.9" cy="219.9" r="2.4"/><circle cx="482.1" cy="206.1" r="2.4"/><circle cx="478.8" cy="205.8" r="2.4"/><circle cx="480.3" cy="218.8" r="2.4"/><circle cx="480.4" cy="203.2" r="2.4"/><circle cx="467.1" cy="225.7" r="2.4"/><circle cx="473.1" cy="208.0" r="2.4"/><circle cx="464.6" cy="223.1" r="2.4"/><circle cx="468.0" cy="224.4" r="2.4"/><circle cx="464.4" cy="227.1" r="2.4"/></g>
<path d="M491.0 215.8l1.55 1.55l-1.55 1.55l-1.55 -1.55zM484.5 209.3l1.55 1.55l-1.55 1.55l-1.55 -1.55zM471.9 215.9l1.55 1.55l-1.55 1.55l-1.55 -1.55zM485.4 213.2l1.55 1.55l-1.55 1.55l-1.55 -1.55zM488.7 213.8l1.55 1.55l-1.55 1.55l-1.55 -1.55zM467.2 217.0l1.55 1.55l-1.55 1.55l-1.55 -1.55zM480.1 208.7l1.55 1.55l-1.55 1.55l-1.55 -1.55zM467.8 220.6l1.55 1.55l-1.55 1.55l-1.55 -1.55zM469.9 215.6l1.55 1.55l-1.55 1.55l-1.55 -1.55zM474.3 217.9l1.55 1.55l-1.55 1.55l-1.55 -1.55zM469.1 219.4l1.55 1.55l-1.55 1.55l-1.55 -1.55zM481.0 212.0l1.55 1.55l-1.55 1.55l-1.55 -1.55zM488.8 212.8l1.55 1.55l-1.55 1.55l-1.55 -1.55zM488.7 218.7l1.55 1.55l-1.55 1.55l-1.55 -1.55zM485.8 212.9l1.55 1.55l-1.55 1.55l-1.55 -1.55zM466.1 214.1l1.55 1.55l-1.55 1.55l-1.55 -1.55zM480.8 208.6l1.55 1.55l-1.55 1.55l-1.55 -1.55zM467.1 218.8l1.55 1.55l-1.55 1.55l-1.55 -1.55zM485.4 209.8l1.55 1.55l-1.55 1.55l-1.55 -1.55zM472.5 211.8l1.55 1.55l-1.55 1.55l-1.55 -1.55zM473.8 211.8l1.55 1.55l-1.55 1.55l-1.55 -1.55zM479.8 218.4l1.55 1.55l-1.55 1.55l-1.55 -1.55zM478.4 195.3l1.55 1.55l-1.55 1.55l-1.55 -1.55zM488.3 218.6l1.55 1.55l-1.55 1.55l-1.55 -1.55zM466.1 199.4l1.55 1.55l-1.55 1.55l-1.55 -1.55zM489.6 211.9l1.55 1.55l-1.55 1.55l-1.55 -1.55zM490.3 219.5l1.55 1.55l-1.55 1.55l-1.55 -1.55zM480.8 207.0l1.55 1.55l-1.55 1.55l-1.55 -1.55zM467.0 219.0l1.55 1.55l-1.55 1.55l-1.55 -1.55zM483.7 213.3l1.55 1.55l-1.55 1.55l-1.55 -1.55zM489.2 213.9l1.55 1.55l-1.55 1.55l-1.55 -1.55zM477.3 212.2l1.55 1.55l-1.55 1.55l-1.55 -1.55zM492.4 233.3l1.55 1.55l-1.55 1.55l-1.55 -1.55zM472.0 214.5l1.55 1.55l-1.55 1.55l-1.55 -1.55zM470.3 220.7l1.55 1.55l-1.55 1.55l-1.55 -1.55zM479.4 215.3l1.55 1.55l-1.55 1.55l-1.55 -1.55zM480.6 210.4l1.55 1.55l-1.55 1.55l-1.55 -1.55zM488.3 214.7l1.55 1.55l-1.55 1.55l-1.55 -1.55zM477.5 214.6l1.55 1.55l-1.55 1.55l-1.55 -1.55zM467.2 217.7l1.55 1.55l-1.55 1.55l-1.55 -1.55zM470.9 217.1l1.55 1.55l-1.55 1.55l-1.55 -1.55zM473.9 210.7l1.55 1.55l-1.55 1.55l-1.55 -1.55zM491.2 207.4l1.55 1.55l-1.55 1.55l-1.55 -1.55zM480.1 214.1l1.55 1.55l-1.55 1.55l-1.55 -1.55zM480.8 208.5l1.55 1.55l-1.55 1.55l-1.55 -1.55zM475.0 209.4l1.55 1.55l-1.55 1.55l-1.55 -1.55zM480.9 216.0l1.55 1.55l-1.55 1.55l-1.55 -1.55zM483.1 206.9l1.55 1.55l-1.55 1.55l-1.55 -1.55zM468.2 219.3l1.55 1.55l-1.55 1.55l-1.55 -1.55zM489.9 212.2l1.55 1.55l-1.55 1.55l-1.55 -1.55zM473.1 219.4l1.55 1.55l-1.55 1.55l-1.55 -1.55zM490.7 213.1l1.55 1.55l-1.55 1.55l-1.55 -1.55zM480.9 215.2l1.55 1.55l-1.55 1.55l-1.55 -1.55zM475.3 215.8l1.55 1.55l-1.55 1.55l-1.55 -1.55zM480.8 218.0l1.55 1.55l-1.55 1.55l-1.55 -1.55zM468.9 214.7l1.55 1.55l-1.55 1.55l-1.55 -1.55zM474.3 215.7l1.55 1.55l-1.55 1.55l-1.55 -1.55zM473.3 212.8l1.55 1.55l-1.55 1.55l-1.55 -1.55zM466.1 233.9l1.55 1.55l-1.55 1.55l-1.55 -1.55zM474.3 219.8l1.55 1.55l-1.55 1.55l-1.55 -1.55zM475.3 219.7l1.55 1.55l-1.55 1.55l-1.55 -1.55zM485.1 209.3l1.55 1.55l-1.55 1.55l-1.55 -1.55zM473.5 213.6l1.55 1.55l-1.55 1.55l-1.55 -1.55zM475.4 219.6l1.55 1.55l-1.55 1.55l-1.55 -1.55zM477.2 208.7l1.55 1.55l-1.55 1.55l-1.55 -1.55zM467.9 244.4l1.55 1.55l-1.55 1.55l-1.55 -1.55zM482.5 211.7l1.55 1.55l-1.55 1.55l-1.55 -1.55zM470.9 218.6l1.55 1.55l-1.55 1.55l-1.55 -1.55zM470.3 218.2l1.55 1.55l-1.55 1.55l-1.55 -1.55zM471.5 220.3l1.55 1.55l-1.55 1.55l-1.55 -1.55zM467.9 221.8l1.55 1.55l-1.55 1.55l-1.55 -1.55zM471.1 220.6l1.55 1.55l-1.55 1.55l-1.55 -1.55zM471.1 218.3l1.55 1.55l-1.55 1.55l-1.55 -1.55zM491.4 215.3l1.55 1.55l-1.55 1.55l-1.55 -1.55zM468.5 215.8l1.55 1.55l-1.55 1.55l-1.55 -1.55zM469.9 221.3l1.55 1.55l-1.55 1.55l-1.55 -1.55z" fill="none" stroke="#cc1488" stroke-width="1.0"/>
<g fill="#22b34a"><circle cx="492.4" cy="221.5" r="2.4"/><circle cx="470.2" cy="222.3" r="2.4"/><circle cx="474.8" cy="204.1" r="2.4"/><circle cx="467.9" cy="209.9" r="2.4"/><circle cx="479.9" cy="201.3" r="2.4"/><circle cx="467.0" cy="217.2" r="2.4"/></g>
<g><circle cx="255.1" cy="389.2" r="2.3" fill="#1f78b4"/><circle cx="249.8" cy="393.4" r="2.3" fill="#1f78b4"/><circle cx="257.7" cy="390.3" r="2.3" fill="#1f78b4"/><circle cx="256.1" cy="392.4" r="2.3" fill="#1f78b4"/><circle cx="252.4" cy="392.9" r="2.3" fill="#1f78b4"/><circle cx="250.8" cy="391.3" r="2.3" fill="#1f78b4"/><circle cx="266.2" cy="396.6" r="2.3" fill="#ff7f00"/><circle cx="262.5" cy="399.3" r="2.3" fill="#ff7f00"/><circle cx="260.3" cy="400.8" r="2.3" fill="#ff7f00"/><circle cx="254.5" cy="404.5" r="2.3" fill="#ff7f00"/><circle cx="257.7" cy="400.8" r="2.3" fill="#ff7f00"/><circle cx="261.4" cy="399.8" r="2.3" fill="#ff7f00"/><circle cx="257.2" cy="401.9" r="2.3" fill="#ff7f00"/><circle cx="253.5" cy="403.0" r="2.3" fill="#ff7f00"/><circle cx="177.0" cy="357.9" r="2.3" fill="#1f78b4"/><circle cx="140.4" cy="352.7" r="2.3" fill="#e31a1c"/><circle cx="138.0" cy="347.0" r="2.3" fill="#ff7f00"/><circle cx="134.5" cy="348.7" r="2.3" fill="#1f78b4"/><circle cx="152.1" cy="347.3" r="2.3" fill="#f9ef8c"/><circle cx="164.8" cy="340.3" r="2.3" fill="#fb9a99"/><circle cx="162.0" cy="336.8" r="2.3" fill="#cab2d6"/><circle cx="153.8" cy="340.6" r="2.3" fill="#cab2d6"/><circle cx="151.3" cy="338.9" r="2.3" fill="#ff7f00"/><circle cx="151.7" cy="335.4" r="2.3" fill="#e31a1c"/><circle cx="173.9" cy="338.9" r="2.3" fill="#f9ef8c"/><circle cx="172.1" cy="334.6" r="2.3" fill="#f9ef8c"/><circle cx="168.6" cy="333.2" r="2.3" fill="#fb9a99"/><circle cx="177.0" cy="331.8" r="2.3" fill="#fb9a99"/><circle cx="160.8" cy="327.2" r="2.3" fill="#ff7f00"/><circle cx="157.3" cy="328.7" r="2.3" fill="#ff7f00"/><circle cx="170.4" cy="326.9" r="2.3" fill="#6a3d9a"/><circle cx="164.8" cy="325.2" r="2.3" fill="#e31a1c"/><circle cx="166.8" cy="323.7" r="2.3" fill="#ff7f00"/><circle cx="161.1" cy="324.1" r="2.3" fill="#e31a1c"/><circle cx="110.1" cy="324.8" r="2.3" fill="#a6cee3"/><circle cx="98.5" cy="393.9" r="2.3" fill="#6a3d9a"/><circle cx="77.3" cy="401.7" r="2.3" fill="#ff7f00"/><circle cx="74.5" cy="404.5" r="2.3" fill="#e31a1c"/><circle cx="68.2" cy="407.3" r="2.3" fill="#33a02c"/><circle cx="71.0" cy="403.8" r="2.3" fill="#ff7f00"/><circle cx="66.8" cy="403.8" r="2.3" fill="#f9ef8c"/><circle cx="73.8" cy="398.2" r="2.3" fill="#a6cee3"/><circle cx="70.0" cy="400.0" r="2.3" fill="#f9ef8c"/><circle cx="72.1" cy="394.6" r="2.3" fill="#33a02c"/><circle cx="76.9" cy="393.9" r="2.3" fill="#b15928"/><circle cx="77.7" cy="382.0" r="2.3" fill="#b15928"/><circle cx="57.6" cy="390.4" r="2.3" fill="#a6cee3"/><circle cx="64.6" cy="396.1" r="2.3" fill="#ff7f00"/><circle cx="77.3" cy="410.8" r="2.3" fill="#1f78b4"/><circle cx="73.8" cy="420.7" r="2.3" fill="#1f78b4"/><circle cx="77.3" cy="417.2" r="2.3" fill="#1f78b4"/><circle cx="74.5" cy="417.2" r="2.3" fill="#1f78b4"/><circle cx="71.7" cy="417.2" r="2.3" fill="#1f78b4"/><circle cx="68.2" cy="417.2" r="2.3" fill="#1f78b4"/><circle cx="56.9" cy="415.8" r="2.3" fill="#33a02c"/><circle cx="61.8" cy="403.8" r="2.3" fill="#a6cee3"/><circle cx="59.7" cy="405.2" r="2.3" fill="#a6cee3"/><circle cx="58.3" cy="410.1" r="2.3" fill="#33a02c"/><circle cx="61.8" cy="410.1" r="2.3" fill="#ff7f00"/><circle cx="63.9" cy="413.0" r="2.3" fill="#e31a1c"/><circle cx="60.8" cy="416.2" r="2.3" fill="#6a3d9a"/><circle cx="58.3" cy="417.9" r="2.3" fill="#fdbf6f"/><circle cx="59.7" cy="420.0" r="2.3" fill="#e31a1c"/><circle cx="54.1" cy="419.6" r="2.3" fill="#6a3d9a"/><circle cx="50.1" cy="419.6" r="2.3" fill="#e31a1c"/><circle cx="50.6" cy="415.1" r="2.3" fill="#6a3d9a"/><circle cx="52.7" cy="413.0" r="2.3" fill="#ff7f00"/><circle cx="49.9" cy="409.7" r="2.3" fill="#b15928"/><circle cx="49.9" cy="406.9" r="2.3" fill="#33a02c"/><circle cx="294.3" cy="370.8" r="2.3" fill="#f9ef8c"/><circle cx="301.7" cy="366.6" r="2.3" fill="#f9ef8c"/><circle cx="499.1" cy="361.2" r="2.3" fill="#a6cee3"/><circle cx="514.4" cy="361.7" r="2.3" fill="#fdbf6f"/><circle cx="520.6" cy="358.8" r="2.3" fill="#fdbf6f"/><circle cx="514.3" cy="358.8" r="2.3" fill="#fdbf6f"/><circle cx="507.4" cy="355.1" r="2.3" fill="#f9ef8c"/><circle cx="532.8" cy="348.8" r="2.3" fill="#fdbf6f"/><circle cx="528.5" cy="348.8" r="2.3" fill="#fdbf6f"/><circle cx="518.0" cy="350.4" r="2.3" fill="#fb9a99"/><circle cx="514.3" cy="346.7" r="2.3" fill="#e31a1c"/><circle cx="496.9" cy="348.3" r="2.3" fill="#fb9a99"/><circle cx="504.8" cy="343.5" r="2.3" fill="#f9ef8c"/><circle cx="521.2" cy="343.0" r="2.3" fill="#ff7f00"/><circle cx="518.0" cy="343.5" r="2.3" fill="#f9ef8c"/><circle cx="523.3" cy="341.4" r="2.3" fill="#ff7f00"/><circle cx="518.0" cy="340.3" r="2.3" fill="#e31a1c"/><circle cx="533.3" cy="338.8" r="2.3" fill="#fb9a99"/><circle cx="529.6" cy="337.2" r="2.3" fill="#e31a1c"/><circle cx="522.2" cy="337.2" r="2.3" fill="#f9ef8c"/><circle cx="505.8" cy="333.8" r="2.3" fill="#f9ef8c"/><circle cx="530.7" cy="331.4" r="2.3" fill="#e31a1c"/><circle cx="531.2" cy="328.7" r="2.3" fill="#f9ef8c"/><circle cx="538.6" cy="332.4" r="2.3" fill="#cab2d6"/><circle cx="535.9" cy="330.8" r="2.3" fill="#ff7f00"/><circle cx="538.6" cy="328.2" r="2.3" fill="#e31a1c"/><circle cx="542.3" cy="327.5" r="2.3" fill="#6a3d9a"/><circle cx="544.4" cy="325.6" r="2.3" fill="#cab2d6"/><circle cx="547.6" cy="320.3" r="2.3" fill="#f9ef8c"/><circle cx="542.3" cy="320.3" r="2.3" fill="#f9ef8c"/><circle cx="502.9" cy="322.6" r="2.3" fill="#a6cee3"/><circle cx="481.7" cy="390.7" r="2.3" fill="#fb9a99"/><circle cx="478.5" cy="391.7" r="2.3" fill="#6a3d9a"/><circle cx="480.6" cy="387.0" r="2.3" fill="#6a3d9a"/><circle cx="477.5" cy="381.7" r="2.3" fill="#cab2d6"/><circle cx="466.4" cy="375.3" r="2.3" fill="#1f78b4"/><circle cx="463.2" cy="377.5" r="2.3" fill="#a6cee3"/><circle cx="470.6" cy="376.9" r="2.3" fill="#f9ef8c"/><circle cx="478.5" cy="378.0" r="2.3" fill="#f9ef8c"/><circle cx="475.3" cy="378.0" r="2.3" fill="#e31a1c"/><circle cx="476.9" cy="373.8" r="2.3" fill="#b15928"/><circle cx="489.1" cy="387.5" r="2.3" fill="#6a3d9a"/><circle cx="488.5" cy="384.8" r="2.3" fill="#6a3d9a"/><circle cx="489.1" cy="380.1" r="2.3" fill="#fdbf6f"/><circle cx="485.4" cy="376.9" r="2.3" fill="#e31a1c"/><circle cx="487.0" cy="373.2" r="2.3" fill="#e31a1c"/><circle cx="493.8" cy="371.6" r="2.3" fill="#6a3d9a"/><circle cx="489.6" cy="369.5" r="2.3" fill="#ff7f00"/><circle cx="492.2" cy="366.4" r="2.3" fill="#f9ef8c"/><circle cx="481.7" cy="370.1" r="2.3" fill="#f9ef8c"/><circle cx="483.8" cy="367.4" r="2.3" fill="#f9ef8c"/><circle cx="503.3" cy="362.1" r="2.3" fill="#6a3d9a"/><circle cx="501.7" cy="359.5" r="2.3" fill="#6a3d9a"/><circle cx="495.9" cy="360.6" r="2.3" fill="#33a02c"/><circle cx="480.1" cy="366.4" r="2.3" fill="#e31a1c"/><circle cx="481.2" cy="363.2" r="2.3" fill="#33a02c"/><circle cx="490.7" cy="363.2" r="2.3" fill="#33a02c"/><circle cx="488.0" cy="363.7" r="2.3" fill="#33a02c"/><circle cx="487.0" cy="360.6" r="2.3" fill="#33a02c"/><circle cx="487.5" cy="357.9" r="2.3" fill="#a6cee3"/><circle cx="482.7" cy="360.0" r="2.3" fill="#a6cee3"/><circle cx="479.0" cy="360.0" r="2.3" fill="#f9ef8c"/><circle cx="470.6" cy="370.1" r="2.3" fill="#f9ef8c"/><circle cx="471.6" cy="366.9" r="2.3" fill="#1f78b4"/><circle cx="470.6" cy="361.6" r="2.3" fill="#1f78b4"/><circle cx="464.8" cy="366.4" r="2.3" fill="#1f78b4"/><circle cx="457.9" cy="365.3" r="2.3" fill="#1f78b4"/><circle cx="509.1" cy="365.8" r="2.3" fill="#fdbf6f"/><circle cx="507.6" cy="369.0" r="2.3" fill="#fdbf6f"/><circle cx="501.7" cy="354.8" r="2.3" fill="#f9ef8c"/><circle cx="504.9" cy="354.8" r="2.3" fill="#f9ef8c"/><circle cx="507.6" cy="351.1" r="2.3" fill="#ff7f00"/><circle cx="483.3" cy="352.6" r="2.3" fill="#1f78b4"/><circle cx="476.9" cy="350.5" r="2.3" fill="#fb9a99"/><circle cx="430.8" cy="404.8" r="2.3" fill="#a6cee3"/><circle cx="429.8" cy="416.4" r="2.3" fill="#6a3d9a"/><circle cx="436.1" cy="414.8" r="2.3" fill="#6a3d9a"/><circle cx="435.1" cy="411.7" r="2.3" fill="#ff7f00"/><circle cx="432.4" cy="411.7" r="2.3" fill="#ff7f00"/><circle cx="426.6" cy="411.7" r="2.3" fill="#ff7f00"/><circle cx="427.7" cy="407.5" r="2.3" fill="#ff7f00"/><circle cx="439.3" cy="408.5" r="2.3" fill="#e31a1c"/><circle cx="442.5" cy="409.0" r="2.3" fill="#1f78b4"/><circle cx="445.6" cy="405.9" r="2.3" fill="#6a3d9a"/><circle cx="441.4" cy="407.5" r="2.3" fill="#33a02c"/><circle cx="437.7" cy="407.5" r="2.3" fill="#ff7f00"/><circle cx="440.3" cy="404.3" r="2.3" fill="#ff7f00"/><circle cx="436.1" cy="404.3" r="2.3" fill="#ff7f00"/><circle cx="433.0" cy="403.8" r="2.3" fill="#ff7f00"/><circle cx="444.6" cy="401.6" r="2.3" fill="#e31a1c"/><circle cx="441.4" cy="399.5" r="2.3" fill="#f9ef8c"/><circle cx="437.2" cy="399.5" r="2.3" fill="#33a02c"/><circle cx="440.9" cy="393.2" r="2.3" fill="#ff7f00"/><circle cx="434.0" cy="398.0" r="2.3" fill="#1f78b4"/><circle cx="443.5" cy="395.8" r="2.3" fill="#1f78b4"/><circle cx="445.6" cy="397.4" r="2.3" fill="#1f78b4"/><circle cx="448.8" cy="396.9" r="2.3" fill="#1f78b4"/><circle cx="452.0" cy="396.4" r="2.3" fill="#b15928"/><circle cx="454.1" cy="408.5" r="2.3" fill="#fdbf6f"/><circle cx="456.7" cy="401.1" r="2.3" fill="#1f78b4"/><circle cx="454.6" cy="402.7" r="2.3" fill="#6a3d9a"/><circle cx="453.0" cy="401.6" r="2.3" fill="#e31a1c"/><circle cx="457.8" cy="398.5" r="2.3" fill="#ff7f00"/><circle cx="460.9" cy="395.8" r="2.3" fill="#33a02c"/><circle cx="464.6" cy="398.5" r="2.3" fill="#fdbf6f"/><circle cx="463.0" cy="396.4" r="2.3" fill="#cab2d6"/><circle cx="470.4" cy="395.8" r="2.3" fill="#6a3d9a"/><circle cx="472.6" cy="392.7" r="2.3" fill="#33a02c"/><circle cx="449.3" cy="390.0" r="2.3" fill="#33a02c"/><circle cx="452.5" cy="392.1" r="2.3" fill="#e31a1c"/><circle cx="455.7" cy="391.1" r="2.3" fill="#cab2d6"/><circle cx="459.4" cy="390.6" r="2.3" fill="#e31a1c"/><circle cx="464.6" cy="390.6" r="2.3" fill="#cab2d6"/><circle cx="474.1" cy="386.3" r="2.3" fill="#6a3d9a"/><circle cx="469.4" cy="388.4" r="2.3" fill="#fdbf6f"/><circle cx="465.7" cy="385.3" r="2.3" fill="#e31a1c"/><circle cx="471.5" cy="380.5" r="2.3" fill="#b15928"/><circle cx="469.9" cy="383.7" r="2.3" fill="#f9ef8c"/><circle cx="458.3" cy="387.9" r="2.3" fill="#b15928"/><circle cx="457.2" cy="384.8" r="2.3" fill="#1f78b4"/><circle cx="461.5" cy="384.8" r="2.3" fill="#f9ef8c"/><circle cx="459.9" cy="381.1" r="2.3" fill="#a6cee3"/><circle cx="457.2" cy="381.6" r="2.3" fill="#a6cee3"/><circle cx="435.1" cy="389.5" r="2.3" fill="#a6cee3"/><circle cx="443.0" cy="384.8" r="2.3" fill="#1f78b4"/><circle cx="271.1" cy="396.2" r="2.3" fill="#a6cee3"/><circle cx="311.7" cy="376.6" r="2.3" fill="#fb9a99"/><circle cx="271.1" cy="392.0" r="2.3" fill="#ff7f00"/><circle cx="293.8" cy="383.0" r="2.3" fill="#33a02c"/><circle cx="290.1" cy="383.5" r="2.3" fill="#f9ef8c"/><circle cx="298.0" cy="377.2" r="2.3" fill="#33a02c"/><circle cx="294.3" cy="378.2" r="2.3" fill="#cab2d6"/><circle cx="298.0" cy="373.5" r="2.3" fill="#f9ef8c"/><circle cx="293.2" cy="374.0" r="2.3" fill="#6a3d9a"/><circle cx="292.7" cy="368.7" r="2.3" fill="#f9ef8c"/><circle cx="299.6" cy="368.2" r="2.3" fill="#e31a1c"/><circle cx="307.5" cy="370.8" r="2.3" fill="#33a02c"/><circle cx="301.7" cy="371.4" r="2.3" fill="#b15928"/><circle cx="307.5" cy="368.7" r="2.3" fill="#fb9a99"/><circle cx="304.8" cy="368.7" r="2.3" fill="#f9ef8c"/><circle cx="313.3" cy="368.7" r="2.3" fill="#b15928"/><circle cx="312.2" cy="366.1" r="2.3" fill="#33a02c"/><circle cx="308.5" cy="365.6" r="2.3" fill="#b15928"/><circle cx="303.8" cy="365.0" r="2.3" fill="#e31a1c"/><circle cx="299.5" cy="363.8" r="2.3" fill="#f9ef8c"/><circle cx="295.8" cy="363.3" r="2.3" fill="#f9ef8c"/><circle cx="290.6" cy="361.7" r="2.3" fill="#1f78b4"/><circle cx="311.7" cy="362.2" r="2.3" fill="#f9ef8c"/><circle cx="307.5" cy="363.3" r="2.3" fill="#b15928"/><circle cx="305.3" cy="361.7" r="2.3" fill="#e31a1c"/><circle cx="302.2" cy="360.7" r="2.3" fill="#6a3d9a"/><circle cx="308.5" cy="359.1" r="2.3" fill="#6a3d9a"/><circle cx="305.3" cy="357.5" r="2.3" fill="#f9ef8c"/><circle cx="299.0" cy="356.4" r="2.3" fill="#1f78b4"/><circle cx="301.6" cy="355.9" r="2.3" fill="#fdbf6f"/><circle cx="306.9" cy="354.3" r="2.3" fill="#fdbf6f"/><circle cx="310.1" cy="353.8" r="2.3" fill="#6a3d9a"/><circle cx="313.3" cy="356.4" r="2.3" fill="#f9ef8c"/><circle cx="315.9" cy="359.9" r="2.3" fill="#f9ef8c"/><circle cx="315.4" cy="356.4" r="2.3" fill="#e31a1c"/><circle cx="321.2" cy="357.5" r="2.3" fill="#e31a1c"/><circle cx="319.9" cy="354.3" r="2.3" fill="#f9ef8c"/><circle cx="310.6" cy="346.9" r="2.3" fill="#cab2d6"/><circle cx="304.8" cy="345.1" r="2.3" fill="#cab2d6"/><circle cx="323.3" cy="348.7" r="2.3" fill="#f9ef8c"/><circle cx="329.6" cy="345.9" r="2.3" fill="#f9ef8c"/><circle cx="338.6" cy="344.8" r="2.3" fill="#f9ef8c"/><circle cx="331.7" cy="338.0" r="2.3" fill="#6a3d9a"/><circle cx="317.8" cy="333.9" r="2.3" fill="#6a3d9a"/><circle cx="339.7" cy="331.6" r="2.3" fill="#cab2d6"/><circle cx="336.0" cy="328.4" r="2.3" fill="#cab2d6"/><circle cx="292.0" cy="386.1" r="2.3" fill="#fb9a99"/><circle cx="286.7" cy="385.5" r="2.3" fill="#ff7f00"/><circle cx="276.2" cy="395.0" r="2.3" fill="#fb9a99"/><circle cx="277.2" cy="390.8" r="2.3" fill="#f9ef8c"/><circle cx="269.3" cy="397.1" r="2.3" fill="#cab2d6"/><circle cx="260.9" cy="403.5" r="2.3" fill="#a6cee3"/><circle cx="263.0" cy="400.8" r="2.3" fill="#33a02c"/><circle cx="258.2" cy="405.6" r="2.3" fill="#33a02c"/><circle cx="256.1" cy="400.3" r="2.3" fill="#ff7f00"/><circle cx="263.5" cy="398.7" r="2.3" fill="#ff7f00"/><circle cx="259.3" cy="401.4" r="2.3" fill="#ff7f00"/><circle cx="255.1" cy="403.5" r="2.3" fill="#ff7f00"/><circle cx="260.9" cy="395.6" r="2.3" fill="#f9ef8c"/><circle cx="254.0" cy="394.5" r="2.3" fill="#1f78b4"/><circle cx="248.2" cy="396.1" r="2.3" fill="#1f78b4"/><circle cx="270.1" cy="390.1" r="2.3" fill="#e31a1c"/><circle cx="268.0" cy="392.8" r="2.3" fill="#f9ef8c"/><circle cx="284.9" cy="387.5" r="2.3" fill="#33a02c"/><circle cx="279.6" cy="390.1" r="2.3" fill="#cab2d6"/><circle cx="272.2" cy="389.1" r="2.3" fill="#ff7f00"/><circle cx="278.6" cy="387.0" r="2.3" fill="#f9ef8c"/><circle cx="275.4" cy="387.5" r="2.3" fill="#f9ef8c"/><circle cx="287.0" cy="381.7" r="2.3" fill="#f9ef8c"/><circle cx="282.8" cy="383.8" r="2.3" fill="#f9ef8c"/><circle cx="280.7" cy="381.7" r="2.3" fill="#ff7f00"/><circle cx="277.5" cy="381.7" r="2.3" fill="#e31a1c"/><circle cx="274.4" cy="383.8" r="2.3" fill="#e31a1c"/><circle cx="276.5" cy="378.0" r="2.3" fill="#fb9a99"/><circle cx="286.0" cy="376.4" r="2.3" fill="#6a3d9a"/><circle cx="283.3" cy="376.9" r="2.3" fill="#6a3d9a"/><circle cx="281.7" cy="374.3" r="2.3" fill="#fdbf6f"/><circle cx="288.1" cy="373.2" r="2.3" fill="#e31a1c"/><circle cx="288.6" cy="365.8" r="2.3" fill="#f9ef8c"/><circle cx="287.0" cy="369.5" r="2.3" fill="#fdbf6f"/><circle cx="286.0" cy="363.7" r="2.3" fill="#6a3d9a"/><circle cx="250.1" cy="393.3" r="2.3" fill="#1f78b4"/><circle cx="258.0" cy="390.7" r="2.3" fill="#1f78b4"/><circle cx="255.3" cy="392.2" r="2.3" fill="#1f78b4"/><circle cx="252.7" cy="390.7" r="2.3" fill="#1f78b4"/><circle cx="255.3" cy="388.0" r="2.3" fill="#f9ef8c"/><circle cx="263.8" cy="386.4" r="2.3" fill="#1f78b4"/><circle cx="263.8" cy="382.7" r="2.3" fill="#f9ef8c"/><circle cx="268.2" cy="380.1" r="2.3" fill="#fdbf6f"/><circle cx="264.6" cy="378.0" r="2.3" fill="#1f78b4"/><circle cx="258.0" cy="380.1" r="2.3" fill="#1f78b4"/><circle cx="269.1" cy="372.2" r="2.3" fill="#1f78b4"/><circle cx="261.2" cy="371.6" r="2.3" fill="#1f78b4"/><circle cx="262.2" cy="369.0" r="2.3" fill="#1f78b4"/><circle cx="273.1" cy="366.4" r="2.3" fill="#1f78b4"/><circle cx="280.2" cy="363.2" r="2.3" fill="#1f78b4"/><circle cx="275.9" cy="362.5" r="2.3" fill="#1f78b4"/><circle cx="81.6" cy="410.1" r="2.3" fill="#fdbf6f"/><circle cx="94.3" cy="409.6" r="2.3" fill="#1f78b4"/><circle cx="100.1" cy="405.9" r="2.3" fill="#1f78b4"/><circle cx="96.9" cy="405.3" r="2.3" fill="#1f78b4"/><circle cx="95.3" cy="402.7" r="2.3" fill="#fdbf6f"/><circle cx="90.6" cy="405.3" r="2.3" fill="#fdbf6f"/><circle cx="87.9" cy="404.8" r="2.3" fill="#1f78b4"/><circle cx="91.1" cy="401.6" r="2.3" fill="#1f78b4"/><circle cx="103.2" cy="402.7" r="2.3" fill="#1f78b4"/><circle cx="99.5" cy="399.0" r="2.3" fill="#1f78b4"/><circle cx="95.8" cy="399.0" r="2.3" fill="#6a3d9a"/><circle cx="81.1" cy="400.6" r="2.3" fill="#33a02c"/><circle cx="86.9" cy="401.1" r="2.3" fill="#ff7f00"/><circle cx="83.7" cy="401.1" r="2.3" fill="#e31a1c"/><circle cx="82.6" cy="398.0" r="2.3" fill="#6a3d9a"/><circle cx="89.0" cy="396.9" r="2.3" fill="#6a3d9a"/><circle cx="81.6" cy="393.7" r="2.3" fill="#ff7f00"/><circle cx="84.2" cy="394.3" r="2.3" fill="#f9ef8c"/><circle cx="91.1" cy="391.6" r="2.3" fill="#f9ef8c"/><circle cx="93.7" cy="393.2" r="2.3" fill="#e31a1c"/><circle cx="95.3" cy="388.4" r="2.3" fill="#f9ef8c"/><circle cx="89.0" cy="389.0" r="2.3" fill="#f9ef8c"/><circle cx="85.3" cy="390.0" r="2.3" fill="#ff7f00"/><circle cx="82.1" cy="390.6" r="2.3" fill="#a6cee3"/><circle cx="85.3" cy="385.3" r="2.3" fill="#a6cee3"/><circle cx="90.0" cy="384.8" r="2.3" fill="#33a02c"/><circle cx="96.9" cy="383.2" r="2.3" fill="#f9ef8c"/><circle cx="99.0" cy="385.3" r="2.3" fill="#f9ef8c"/><circle cx="94.8" cy="380.5" r="2.3" fill="#b15928"/><circle cx="91.1" cy="381.1" r="2.3" fill="#f9ef8c"/><circle cx="100.5" cy="376.9" r="2.3" fill="#33a02c"/><circle cx="100.5" cy="390.7" r="2.3" fill="#e31a1c"/><circle cx="101.1" cy="393.3" r="2.3" fill="#6a3d9a"/><circle cx="106.9" cy="393.8" r="2.3" fill="#ff7f00"/><circle cx="104.8" cy="388.5" r="2.3" fill="#1f78b4"/><circle cx="104.2" cy="375.3" r="2.3" fill="#cab2d6"/><circle cx="103.2" cy="380.6" r="2.3" fill="#f9ef8c"/><circle cx="102.1" cy="385.4" r="2.3" fill="#e31a1c"/><circle cx="106.9" cy="385.4" r="2.3" fill="#fdbf6f"/><circle cx="114.8" cy="383.8" r="2.3" fill="#6a3d9a"/><circle cx="117.4" cy="383.8" r="2.3" fill="#f9ef8c"/><circle cx="111.8" cy="384.0" r="2.3" fill="#f9ef8c"/><circle cx="109.0" cy="382.2" r="2.3" fill="#6a3d9a"/><circle cx="122.2" cy="380.6" r="2.3" fill="#6a3d9a"/><circle cx="121.1" cy="377.5" r="2.3" fill="#fdbf6f"/><circle cx="116.4" cy="376.9" r="2.3" fill="#f9ef8c"/><circle cx="128.0" cy="378.0" r="2.3" fill="#f9ef8c"/><circle cx="137.5" cy="375.9" r="2.3" fill="#fdbf6f"/><circle cx="134.8" cy="376.4" r="2.3" fill="#fdbf6f"/><circle cx="128.5" cy="370.1" r="2.3" fill="#6a3d9a"/><circle cx="137.0" cy="370.1" r="2.3" fill="#fdbf6f"/><circle cx="135.9" cy="364.3" r="2.3" fill="#f9ef8c"/><circle cx="134.3" cy="369.0" r="2.3" fill="#6a3d9a"/><circle cx="130.6" cy="366.4" r="2.3" fill="#33a02c"/><circle cx="126.9" cy="367.4" r="2.3" fill="#f9ef8c"/><circle cx="122.7" cy="370.6" r="2.3" fill="#fdbf6f"/><circle cx="121.1" cy="372.7" r="2.3" fill="#f9ef8c"/><circle cx="112.7" cy="376.4" r="2.3" fill="#fb9a99"/><circle cx="115.8" cy="373.2" r="2.3" fill="#ff7f00"/><circle cx="115.3" cy="370.6" r="2.3" fill="#cab2d6"/><circle cx="110.6" cy="371.6" r="2.3" fill="#fb9a99"/><circle cx="114.8" cy="366.4" r="2.3" fill="#fb9a99"/><circle cx="112.7" cy="365.3" r="2.3" fill="#a6cee3"/><circle cx="110.0" cy="365.8" r="2.3" fill="#a6cee3"/><circle cx="106.3" cy="365.8" r="2.3" fill="#a6cee3"/><circle cx="122.0" cy="363.5" r="2.3" fill="#33a02c"/><circle cx="115.3" cy="360.6" r="2.3" fill="#33a02c"/><circle cx="118.0" cy="359.0" r="2.3" fill="#33a02c"/><circle cx="127.7" cy="356.1" r="2.3" fill="#33a02c"/><circle cx="152.3" cy="362.7" r="2.3" fill="#fdbf6f"/><circle cx="140.7" cy="363.5" r="2.3" fill="#fb9a99"/><circle cx="142.0" cy="359.3" r="2.3" fill="#fb9a99"/><circle cx="148.6" cy="356.3" r="2.3" fill="#f9ef8c"/><circle cx="151.7" cy="351.1" r="2.3" fill="#f9ef8c"/><circle cx="142.8" cy="350.5" r="2.3" fill="#cab2d6"/><circle cx="138.5" cy="353.2" r="2.3" fill="#33a02c"/><circle cx="132.9" cy="353.0" r="2.3" fill="#ff7f00"/><circle cx="117.4" cy="350.5" r="2.3" fill="#fb9a99"/></g>
<text x="35.60" y="305.80" font-size="18" text-anchor="middle" font-weight="bold" fill="#000">B</text>
<line x1="41.50" y1="312.30" x2="41.50" y2="426.20" stroke="#8a8a8a" stroke-width="1"/>
<line x1="41.50" y1="426.20" x2="190.00" y2="426.20" stroke="#8a8a8a" stroke-width="1"/>
<line x1="41.50" y1="420.30" x2="43.30" y2="420.30" stroke="#8a8a8a" stroke-width="1"/>
<text x="38.80" y="424.30" font-size="9.2" text-anchor="end" font-weight="normal" fill="#444">0</text>
<line x1="41.50" y1="389.60" x2="43.30" y2="389.60" stroke="#8a8a8a" stroke-width="1"/>
<text x="38.80" y="393.60" font-size="9.2" text-anchor="end" font-weight="normal" fill="#444">20</text>
<line x1="41.50" y1="358.90" x2="43.30" y2="358.90" stroke="#8a8a8a" stroke-width="1"/>
<text x="38.80" y="362.90" font-size="9.2" text-anchor="end" font-weight="normal" fill="#444">40</text>
<line x1="41.50" y1="328.20" x2="43.30" y2="328.20" stroke="#8a8a8a" stroke-width="1"/>
<text x="38.80" y="332.20" font-size="9.2" text-anchor="end" font-weight="normal" fill="#444">60</text>
<line x1="49.60" y1="426.20" x2="49.60" y2="424.40" stroke="#8a8a8a" stroke-width="1"/>
<text x="49.60" y="438.80" font-size="9.2" text-anchor="middle" font-weight="normal" fill="#444">0</text>
<line x1="89.60" y1="426.20" x2="89.60" y2="424.40" stroke="#8a8a8a" stroke-width="1"/>
<text x="89.60" y="438.80" font-size="9.2" text-anchor="middle" font-weight="normal" fill="#444">20</text>
<line x1="129.60" y1="426.20" x2="129.60" y2="424.40" stroke="#8a8a8a" stroke-width="1"/>
<text x="129.60" y="438.80" font-size="9.2" text-anchor="middle" font-weight="normal" fill="#444">40</text>
<line x1="169.60" y1="426.20" x2="169.60" y2="424.40" stroke="#8a8a8a" stroke-width="1"/>
<text x="169.60" y="438.80" font-size="9.2" text-anchor="middle" font-weight="normal" fill="#444">60</text>
<text x="12.80" y="369.50" font-size="9.3" text-anchor="middle" font-weight="normal" fill="#444" transform="rotate(-90 12.8 369.5)">Recruitment Threshold</text>
<text x="24.30" y="369.50" font-size="9.3" text-anchor="middle" font-weight="normal" fill="#444" transform="rotate(-90 24.3 369.5)">AFTER (%)</text>
<text x="115.80" y="450.40" font-size="9.3" text-anchor="middle" font-weight="normal" fill="#444">Recruitment Threshold  (%)</text>
<rect x="158.4" y="371.6" width="25.20" height="47.50" fill="#fff" stroke="#505050" stroke-width="0.9"/>
<rect x="166" y="384" width="9.40" height="35.10" fill="#c8c8c8" stroke="#999" stroke-width="0.7"/>
<path d="M167.70 379.5H173.70M170.70 379.5V388.6M167.70 388.6H173.70" stroke="#111" stroke-width="1.4" fill="none"/>
<text x="156.80" y="383.80" font-size="9.2" text-anchor="end" font-weight="normal" fill="#444">1</text>
<text x="156.80" y="422.10" font-size="9.2" text-anchor="end" font-weight="normal" fill="#444">0</text>
<line x1="158.40" y1="380.50" x2="159.90" y2="380.50" stroke="#333" stroke-width="0.8"/>
<text x="170.70" y="381.40" font-size="10" text-anchor="middle" font-weight="bold" fill="#222">***</text>
<text x="148.10" y="396.00" font-size="9.3" text-anchor="middle" font-weight="normal" fill="#444" transform="rotate(-90 148.1 396)">R</text>
<line x1="226.50" y1="312.30" x2="226.50" y2="426.30" stroke="#8a8a8a" stroke-width="1"/>
<line x1="226.50" y1="426.30" x2="374.70" y2="426.30" stroke="#8a8a8a" stroke-width="1"/>
<line x1="226.50" y1="422.30" x2="228.30" y2="422.30" stroke="#8a8a8a" stroke-width="1"/>
<text x="223.80" y="426.30" font-size="9.2" text-anchor="end" font-weight="normal" fill="#444">5</text>
<line x1="226.50" y1="403.35" x2="228.30" y2="403.35" stroke="#8a8a8a" stroke-width="1"/>
<text x="223.80" y="407.35" font-size="9.2" text-anchor="end" font-weight="normal" fill="#444">10</text>
<line x1="226.50" y1="384.40" x2="228.30" y2="384.40" stroke="#8a8a8a" stroke-width="1"/>
<text x="223.80" y="388.40" font-size="9.2" text-anchor="end" font-weight="normal" fill="#444">15</text>
<line x1="226.50" y1="365.45" x2="228.30" y2="365.45" stroke="#8a8a8a" stroke-width="1"/>
<text x="223.80" y="369.45" font-size="9.2" text-anchor="end" font-weight="normal" fill="#444">20</text>
<line x1="226.50" y1="346.50" x2="228.30" y2="346.50" stroke="#8a8a8a" stroke-width="1"/>
<text x="223.80" y="350.50" font-size="9.2" text-anchor="end" font-weight="normal" fill="#444">25</text>
<line x1="226.50" y1="327.55" x2="228.30" y2="327.55" stroke="#8a8a8a" stroke-width="1"/>
<text x="223.80" y="331.55" font-size="9.2" text-anchor="end" font-weight="normal" fill="#444">30</text>
<line x1="231.20" y1="426.30" x2="231.20" y2="424.50" stroke="#8a8a8a" stroke-width="1"/>
<text x="231.20" y="438.80" font-size="9.2" text-anchor="middle" font-weight="normal" fill="#444">5</text>
<line x1="255.90" y1="426.30" x2="255.90" y2="424.50" stroke="#8a8a8a" stroke-width="1"/>
<text x="255.90" y="438.80" font-size="9.2" text-anchor="middle" font-weight="normal" fill="#444">10</text>
<line x1="280.60" y1="426.30" x2="280.60" y2="424.50" stroke="#8a8a8a" stroke-width="1"/>
<text x="280.60" y="438.80" font-size="9.2" text-anchor="middle" font-weight="normal" fill="#444">15</text>
<line x1="305.30" y1="426.30" x2="305.30" y2="424.50" stroke="#8a8a8a" stroke-width="1"/>
<text x="305.30" y="438.80" font-size="9.2" text-anchor="middle" font-weight="normal" fill="#444">20</text>
<line x1="330.00" y1="426.30" x2="330.00" y2="424.50" stroke="#8a8a8a" stroke-width="1"/>
<text x="330.00" y="438.80" font-size="9.2" text-anchor="middle" font-weight="normal" fill="#444">25</text>
<line x1="354.70" y1="426.30" x2="354.70" y2="424.50" stroke="#8a8a8a" stroke-width="1"/>
<text x="354.70" y="438.80" font-size="9.2" text-anchor="middle" font-weight="normal" fill="#444">30</text>
<text x="197.60" y="369.50" font-size="9.3" text-anchor="middle" font-weight="normal" fill="#444" transform="rotate(-90 197.6 369.5)">Discharge Rate</text>
<text x="208.90" y="369.50" font-size="9.3" text-anchor="middle" font-weight="normal" fill="#444" transform="rotate(-90 208.9 369.5)">AFTER (pps)</text>
<text x="300.60" y="450.40" font-size="9.3" text-anchor="middle" font-weight="normal" fill="#444">Discharge Rate (pps)</text>
<rect x="335.4" y="367.2" width="24.90" height="47.90" fill="#fff" stroke="#505050" stroke-width="0.9"/>
<rect x="343.9" y="376.8" width="8.70" height="38.30" fill="#c8c8c8" stroke="#999" stroke-width="0.7"/>
<path d="M345.25 373.8H351.25M348.25 373.8V378.6M345.25 378.6H351.25" stroke="#111" stroke-width="1.4" fill="none"/>
<text x="333.80" y="378.40" font-size="9.2" text-anchor="end" font-weight="normal" fill="#444">1</text>
<text x="333.80" y="418.10" font-size="9.2" text-anchor="end" font-weight="normal" fill="#444">0</text>
<line x1="335.40" y1="375.10" x2="336.90" y2="375.10" stroke="#333" stroke-width="0.8"/>
<text x="348.25" y="377.00" font-size="10" text-anchor="middle" font-weight="bold" fill="#222">***</text>
<text x="326.10" y="392.00" font-size="9.3" text-anchor="middle" font-weight="normal" fill="#444" transform="rotate(-90 326.1 392)">R</text>
<line x1="413.50" y1="312.30" x2="413.50" y2="426.50" stroke="#8a8a8a" stroke-width="1"/>
<line x1="413.50" y1="426.50" x2="561.80" y2="426.50" stroke="#8a8a8a" stroke-width="1"/>
<line x1="413.50" y1="420.10" x2="415.30" y2="420.10" stroke="#8a8a8a" stroke-width="1"/>
<text x="410.80" y="424.10" font-size="9.2" text-anchor="end" font-weight="normal" fill="#444">0</text>
<line x1="413.50" y1="389.10" x2="415.30" y2="389.10" stroke="#8a8a8a" stroke-width="1"/>
<text x="410.80" y="393.10" font-size="9.2" text-anchor="end" font-weight="normal" fill="#444">20</text>
<line x1="413.50" y1="358.10" x2="415.30" y2="358.10" stroke="#8a8a8a" stroke-width="1"/>
<text x="410.80" y="362.10" font-size="9.2" text-anchor="end" font-weight="normal" fill="#444">40</text>
<line x1="413.50" y1="327.10" x2="415.30" y2="327.10" stroke="#8a8a8a" stroke-width="1"/>
<text x="410.80" y="331.10" font-size="9.2" text-anchor="end" font-weight="normal" fill="#444">60</text>
<line x1="421.70" y1="426.50" x2="421.70" y2="424.70" stroke="#8a8a8a" stroke-width="1"/>
<text x="421.70" y="438.80" font-size="9.2" text-anchor="middle" font-weight="normal" fill="#444">0</text>
<line x1="461.70" y1="426.50" x2="461.70" y2="424.70" stroke="#8a8a8a" stroke-width="1"/>
<text x="461.70" y="438.80" font-size="9.2" text-anchor="middle" font-weight="normal" fill="#444">20</text>
<line x1="501.70" y1="426.50" x2="501.70" y2="424.70" stroke="#8a8a8a" stroke-width="1"/>
<text x="501.70" y="438.80" font-size="9.2" text-anchor="middle" font-weight="normal" fill="#444">40</text>
<line x1="541.70" y1="426.50" x2="541.70" y2="424.70" stroke="#8a8a8a" stroke-width="1"/>
<text x="541.70" y="438.80" font-size="9.2" text-anchor="middle" font-weight="normal" fill="#444">60</text>
<text x="385.70" y="369.50" font-size="9.3" text-anchor="middle" font-weight="normal" fill="#444" transform="rotate(-90 385.7 369.5)">Derecruitment Threshold</text>
<text x="396.30" y="369.50" font-size="9.3" text-anchor="middle" font-weight="normal" fill="#444" transform="rotate(-90 396.3 369.5)">AFTER (%)</text>
<text x="487.50" y="450.40" font-size="9.3" text-anchor="middle" font-weight="normal" fill="#444">Derecruitment Threshold (%)</text>
<rect x="529.3" y="371.2" width="25.30" height="47.50" fill="#fff" stroke="#505050" stroke-width="0.9"/>
<rect x="537.1" y="381.3" width="9.00" height="37.40" fill="#c8c8c8" stroke="#999" stroke-width="0.7"/>
<path d="M538.60 378.4H544.60M541.60 378.4V384.3M538.60 384.3H544.60" stroke="#111" stroke-width="1.4" fill="none"/>
<text x="527.70" y="382.30" font-size="9.2" text-anchor="end" font-weight="normal" fill="#444">1</text>
<text x="527.70" y="421.70" font-size="9.2" text-anchor="end" font-weight="normal" fill="#444">0</text>
<line x1="529.30" y1="379.00" x2="530.80" y2="379.00" stroke="#333" stroke-width="0.8"/>
<text x="541.60" y="381.00" font-size="10" text-anchor="middle" font-weight="bold" fill="#222">***</text>
<text x="518.60" y="395.50" font-size="9.3" text-anchor="middle" font-weight="normal" fill="#444" transform="rotate(-90 518.6 395.5)">R</text>
<rect x="4" y="450.6" width="2" height="2" fill="#999"/>
</svg></body></html>
